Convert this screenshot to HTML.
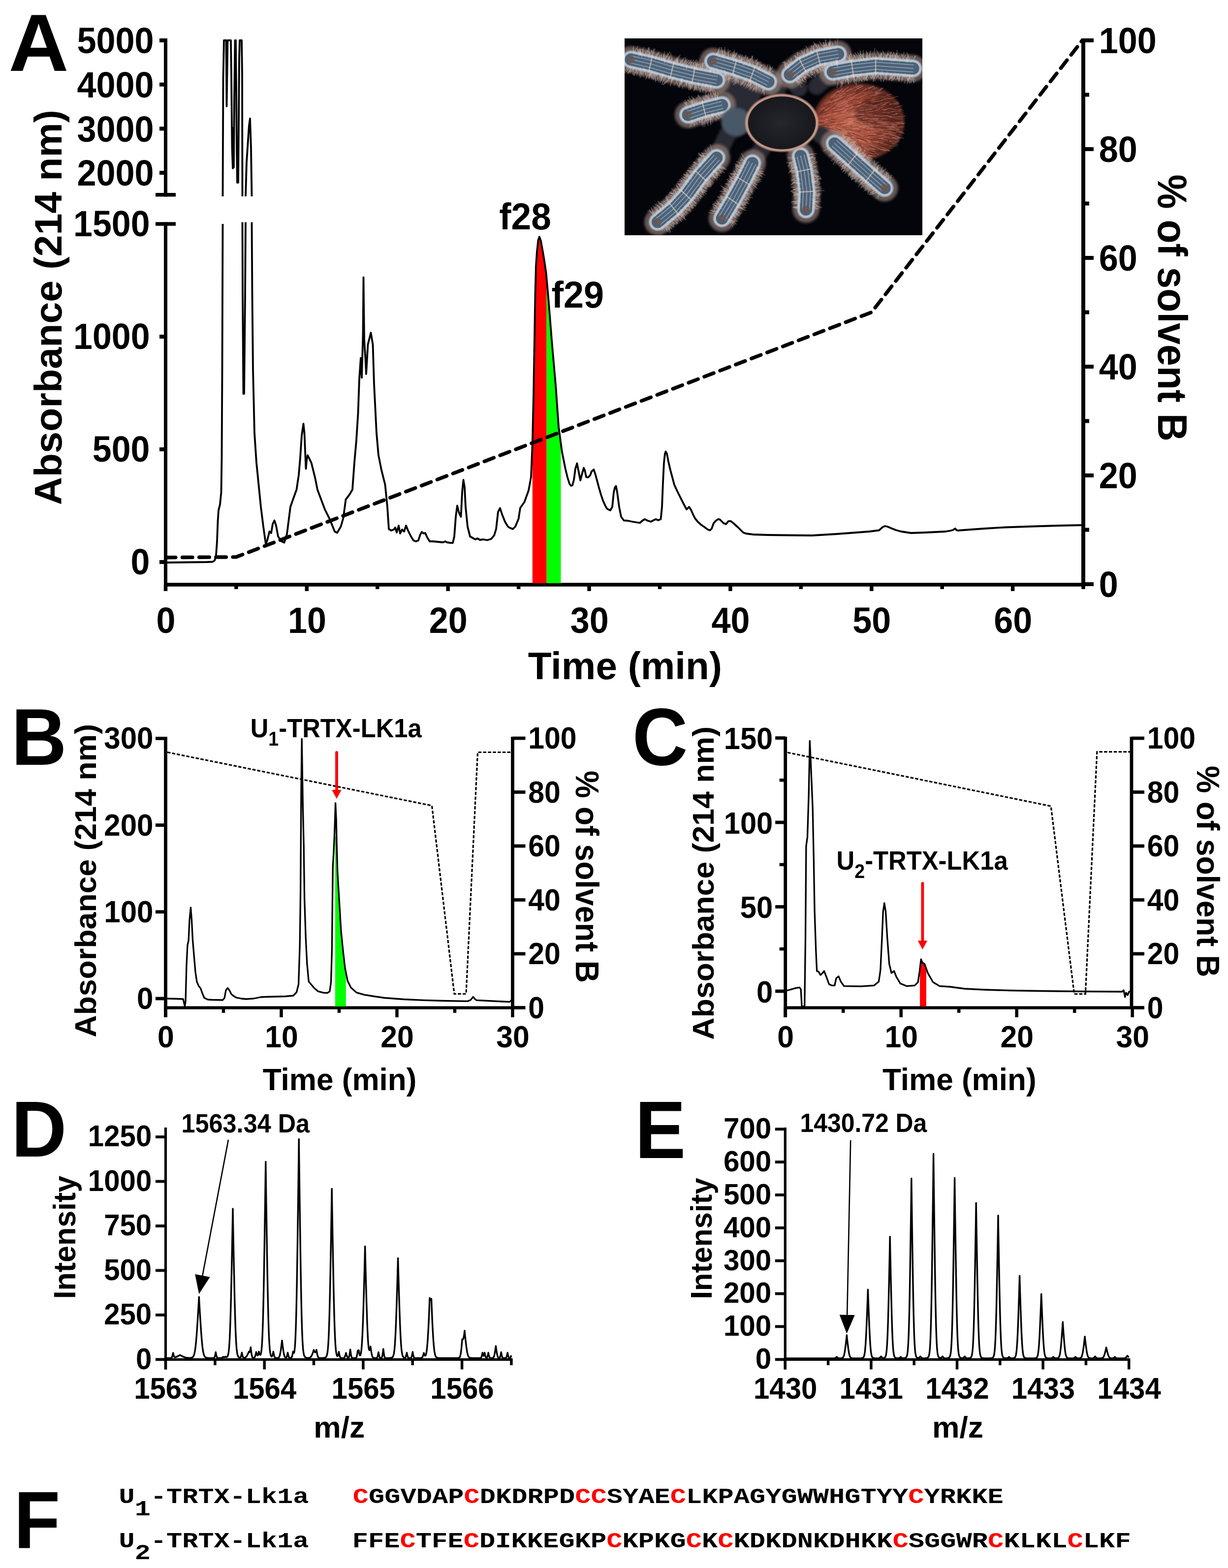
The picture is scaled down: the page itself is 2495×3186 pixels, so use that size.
<!DOCTYPE html>
<html><head><meta charset="utf-8"><title>Figure</title>
<style>
html,body{margin:0;padding:0;background:#fff;overflow:hidden;}
svg{display:block;}
.LS{font-family:'Liberation Sans', Arial, Helvetica, sans-serif;}
.MO{font-family:'Liberation Mono', 'Courier New', monospace;}
</style></head>
<body>
<svg width="2495" height="3186" viewBox="0 0 2495 3186">
<rect x="0" y="0" width="2495" height="3186" fill="#fff"/>
<text transform="translate(17.43,144.15) scale(1.6894,1.6544)" font-size="100" text-anchor="start" font-weight="bold" class="LS">A</text>
<text transform="translate(23.10,1554.00) scale(1.5574,1.6377)" font-size="100" text-anchor="start" font-weight="bold" class="LS">B</text>
<text transform="translate(1284.75,1554.35) scale(1.5615,1.6479)" font-size="100" text-anchor="start" font-weight="bold" class="LS">C</text>
<text transform="translate(23.10,2350.00) scale(1.5574,1.6087)" font-size="100" text-anchor="start" font-weight="bold" class="LS">D</text>
<text transform="translate(1290.19,2352.50) scale(1.5446,1.6449)" font-size="100" text-anchor="start" font-weight="bold" class="LS">E</text>
<text transform="translate(28.22,3146.00) scale(1.5400,1.6449)" font-size="100" text-anchor="start" font-weight="bold" class="LS">F</text>
<line x1="336.5" y1="78.0" x2="336.5" y2="399.5" stroke="#000" stroke-width="7" />
<line x1="336.5" y1="451.5" x2="336.5" y2="1201.0" stroke="#000" stroke-width="7" />
<line x1="333.0" y1="1188.0" x2="2205.0" y2="1188.0" stroke="#000" stroke-width="7.7" />
<line x1="2201.0" y1="78.0" x2="2201.0" y2="1192.0" stroke="#000" stroke-width="8" />
<line x1="324.0" y1="82.0" x2="336.5" y2="82.0" stroke="#000" stroke-width="8" />
<line x1="324.0" y1="171.7" x2="336.5" y2="171.7" stroke="#000" stroke-width="8" />
<line x1="324.0" y1="261.4" x2="336.5" y2="261.4" stroke="#000" stroke-width="8" />
<line x1="324.0" y1="351.1" x2="336.5" y2="351.1" stroke="#000" stroke-width="8" />
<line x1="316.0" y1="395.7" x2="357.0" y2="395.7" stroke="#000" stroke-width="7.5" />
<line x1="316.0" y1="455.0" x2="357.0" y2="455.0" stroke="#000" stroke-width="7.5" />
<line x1="324.0" y1="684.0" x2="336.5" y2="684.0" stroke="#000" stroke-width="8" />
<line x1="324.0" y1="913.0" x2="336.5" y2="913.0" stroke="#000" stroke-width="8" />
<line x1="324.0" y1="1142.0" x2="336.5" y2="1142.0" stroke="#000" stroke-width="8" />
<text transform="translate(312.61,108.37) scale(0.7023,0.7338)" font-size="100" text-anchor="end" font-weight="bold" class="LS">5000</text>
<text transform="translate(312.61,198.07) scale(0.7023,0.7338)" font-size="100" text-anchor="end" font-weight="bold" class="LS">4000</text>
<text transform="translate(312.61,287.77) scale(0.7023,0.7338)" font-size="100" text-anchor="end" font-weight="bold" class="LS">3000</text>
<text transform="translate(312.61,377.47) scale(0.7023,0.7338)" font-size="100" text-anchor="end" font-weight="bold" class="LS">2000</text>
<text transform="translate(304.50,480.17) scale(0.6991,0.7324)" font-size="100" text-anchor="end" font-weight="bold" class="LS">1500</text>
<text transform="translate(304.50,709.17) scale(0.6991,0.7324)" font-size="100" text-anchor="end" font-weight="bold" class="LS">1000</text>
<text transform="translate(304.50,938.17) scale(0.6991,0.7324)" font-size="100" text-anchor="end" font-weight="bold" class="LS">500</text>
<text transform="translate(304.50,1167.17) scale(0.6991,0.7324)" font-size="100" text-anchor="end" font-weight="bold" class="LS">0</text>
<line x1="336.5" y1="1188.0" x2="336.5" y2="1201.0" stroke="#000" stroke-width="7.5" />
<line x1="479.9" y1="1188.0" x2="479.9" y2="1197.0" stroke="#000" stroke-width="7.5" />
<line x1="623.3" y1="1188.0" x2="623.3" y2="1201.0" stroke="#000" stroke-width="7.5" />
<line x1="766.8" y1="1188.0" x2="766.8" y2="1197.0" stroke="#000" stroke-width="7.5" />
<line x1="910.2" y1="1188.0" x2="910.2" y2="1201.0" stroke="#000" stroke-width="7.5" />
<line x1="1053.6" y1="1188.0" x2="1053.6" y2="1197.0" stroke="#000" stroke-width="7.5" />
<line x1="1197.0" y1="1188.0" x2="1197.0" y2="1201.0" stroke="#000" stroke-width="7.5" />
<line x1="1340.5" y1="1188.0" x2="1340.5" y2="1197.0" stroke="#000" stroke-width="7.5" />
<line x1="1483.9" y1="1188.0" x2="1483.9" y2="1201.0" stroke="#000" stroke-width="7.5" />
<line x1="1627.3" y1="1188.0" x2="1627.3" y2="1197.0" stroke="#000" stroke-width="7.5" />
<line x1="1770.8" y1="1188.0" x2="1770.8" y2="1201.0" stroke="#000" stroke-width="7.5" />
<line x1="1914.2" y1="1188.0" x2="1914.2" y2="1197.0" stroke="#000" stroke-width="7.5" />
<line x1="2057.6" y1="1188.0" x2="2057.6" y2="1201.0" stroke="#000" stroke-width="7.5" />
<line x1="2201.0" y1="1188.0" x2="2201.0" y2="1197.0" stroke="#000" stroke-width="7.5" />
<text transform="translate(1197.65,1286.16) scale(0.7010,0.7408)" font-size="100" text-anchor="middle" font-weight="bold" class="LS">30</text>
<text transform="translate(337.10,1286.16) scale(0.7010,0.7408)" font-size="100" text-anchor="middle" font-weight="bold" class="LS">0</text>
<text transform="translate(623.95,1286.16) scale(0.7010,0.7408)" font-size="100" text-anchor="middle" font-weight="bold" class="LS">10</text>
<text transform="translate(910.80,1286.16) scale(0.7010,0.7408)" font-size="100" text-anchor="middle" font-weight="bold" class="LS">20</text>
<text transform="translate(1484.50,1286.16) scale(0.7010,0.7408)" font-size="100" text-anchor="middle" font-weight="bold" class="LS">40</text>
<text transform="translate(1771.35,1286.16) scale(0.7010,0.7408)" font-size="100" text-anchor="middle" font-weight="bold" class="LS">50</text>
<text transform="translate(2058.20,1286.16) scale(0.7010,0.7408)" font-size="100" text-anchor="middle" font-weight="bold" class="LS">60</text>
<text transform="translate(1072.72,1380.11) scale(0.7827,0.7851)" font-size="100" text-anchor="start" font-weight="bold" class="LS">Time (min)</text>
<line x1="2201.0" y1="1187.0" x2="2222.0" y2="1187.0" stroke="#000" stroke-width="8" />
<line x1="2201.0" y1="1076.5" x2="2213.0" y2="1076.5" stroke="#000" stroke-width="8" />
<line x1="2201.0" y1="966.0" x2="2222.0" y2="966.0" stroke="#000" stroke-width="8" />
<line x1="2201.0" y1="855.5" x2="2213.0" y2="855.5" stroke="#000" stroke-width="8" />
<line x1="2201.0" y1="745.0" x2="2222.0" y2="745.0" stroke="#000" stroke-width="8" />
<line x1="2201.0" y1="634.5" x2="2213.0" y2="634.5" stroke="#000" stroke-width="8" />
<line x1="2201.0" y1="524.0" x2="2222.0" y2="524.0" stroke="#000" stroke-width="8" />
<line x1="2201.0" y1="413.5" x2="2213.0" y2="413.5" stroke="#000" stroke-width="8" />
<line x1="2201.0" y1="303.0" x2="2222.0" y2="303.0" stroke="#000" stroke-width="8" />
<line x1="2201.0" y1="192.5" x2="2213.0" y2="192.5" stroke="#000" stroke-width="8" />
<line x1="2201.0" y1="82.0" x2="2222.0" y2="82.0" stroke="#000" stroke-width="8" />
<text transform="translate(2232.69,108.17) scale(0.7019,0.7324)" font-size="100" text-anchor="start" font-weight="bold" class="LS">100</text>
<text transform="translate(2232.69,329.17) scale(0.7019,0.7324)" font-size="100" text-anchor="start" font-weight="bold" class="LS">80</text>
<text transform="translate(2232.69,550.17) scale(0.7019,0.7324)" font-size="100" text-anchor="start" font-weight="bold" class="LS">60</text>
<text transform="translate(2232.69,771.17) scale(0.7019,0.7324)" font-size="100" text-anchor="start" font-weight="bold" class="LS">40</text>
<text transform="translate(2232.69,992.17) scale(0.7019,0.7324)" font-size="100" text-anchor="start" font-weight="bold" class="LS">20</text>
<text transform="translate(2232.69,1213.17) scale(0.7019,0.7324)" font-size="100" text-anchor="start" font-weight="bold" class="LS">0</text>
<text transform="translate(2352.83,354.54) scale(0.8257,0.7871) rotate(90)" font-size="100" text-anchor="start" font-weight="bold" class="LS">% of solvent B</text>
<text transform="translate(125.37,1026.17) scale(0.7872,0.7898) rotate(-90)" font-size="100" text-anchor="start" font-weight="bold" class="LS">Absorbance (214 nm)</text>
<polygon points="1081.8,1185.0 1081.8,901.4 1084.1,799.6 1085.8,697.7 1087.5,595.8 1089.0,540.0 1091.0,511.0 1093.5,488.0 1096.0,481.0 1099.0,490.0 1102.8,511.0 1106.0,530.0 1109.6,555.0 1110.6,566.3 1110.6,1185.0" fill="#ff0000"/>
<polygon points="1110.6,1185.0 1110.6,566.3 1114.7,612.8 1121.5,697.7 1129.0,782.6 1135.0,867.5 1139.5,900.7 1139.5,1185.0" fill="#00ff00"/>
<polyline points="340.0,1143.0 380.0,1142.5 420.0,1142.0 432.0,1141.5 436.0,1139.0 439.0,1128.0 441.0,1100.0 442.5,1060.0 444.0,1037.0 447.0,1025.0 449.5,1000.0 450.5,930.0 451.5,750.0 452.5,455.0" fill="none" stroke="#000" stroke-width="3.8" stroke-linejoin="round"/>
<polyline points="452.5,399.0 453.5,160.0 455.0,82.0 459.5,82.0 460.5,216.0 462.5,82.0 466.0,82.0 469.0,82.0 470.0,150.0 471.5,300.0 473.0,342.0 474.0,260.0 475.0,340.0 476.0,200.0 477.5,82.0 479.0,82.0 480.0,180.0 481.0,300.0 482.0,371.0 483.0,330.0 484.0,371.0 485.0,250.0 486.0,120.0 487.0,82.0 491.0,82.0 492.0,150.0 492.5,399.0" fill="none" stroke="#000" stroke-width="3.8" stroke-linejoin="round"/>
<polyline points="492.5,451.5 493.0,600.0 494.5,800.0 496.0,800.0 498.0,600.0 499.0,451.5" fill="none" stroke="#000" stroke-width="3.8" stroke-linejoin="round"/>
<polyline points="499.0,399.0 501.0,330.0 503.0,300.0 506.0,255.0 508.0,241.0 510.0,300.0 511.5,399.0" fill="none" stroke="#000" stroke-width="3.8" stroke-linejoin="round"/>
<polyline points="511.5,451.5 512.5,600.0 514.0,750.0 517.0,880.0 521.0,940.0 525.0,980.0 530.0,1030.0 535.0,1070.0 540.0,1105.0 543.0,1098.0 547.5,1080.0 551.0,1083.0 554.0,1065.0 557.5,1057.5 561.0,1068.0 565.0,1090.0 572.0,1100.0 577.5,1102.5 583.0,1085.0 590.0,1030.0 597.0,1010.0 602.5,995.0 607.0,965.0 610.0,930.0 613.0,885.0 616.5,861.0 618.5,880.0 621.5,952.5 623.0,935.0 625.0,925.0 632.5,940.0 640.0,970.0 645.0,995.0 660.0,1035.0 670.0,1055.0 680.0,1080.0 685.0,1082.5 692.5,1070.0 697.5,1052.5 702.5,1015.0 710.0,1005.0 716.0,995.0 720.0,940.0 724.0,895.0 727.5,840.0 730.0,770.0 733.0,727.5 735.0,767.5 737.5,680.0 738.5,563.5 740.0,690.0 742.5,730.0 744.0,760.0 747.5,700.0 753.5,676.0 757.5,700.0 760.0,780.0 762.5,830.0 765.0,880.0 769.0,925.0 775.0,955.0 782.5,985.0 787.0,1030.0 790.0,1075.0 795.0,1078.0 800.0,1076.0 803.0,1072.0 806.0,1082.0 810.0,1068.0 813.0,1084.0 817.0,1076.0 821.0,1080.0 825.0,1068.0 829.0,1078.0 835.0,1090.0 840.0,1098.0 845.0,1100.0 850.0,1098.0 854.0,1086.0 857.0,1081.0 861.0,1084.0 864.0,1083.0 868.0,1092.0 873.0,1100.0 880.0,1100.0 900.0,1102.0 905.0,1100.0 908.0,1102.0 915.0,1103.0 920.0,1103.0 923.0,1090.0 926.0,1050.0 929.0,1027.5 932.0,1040.0 934.0,1045.0 936.5,1050.0 939.0,1000.0 941.5,975.0 944.0,990.0 946.0,1030.0 950.0,1070.0 955.0,1090.0 962.0,1094.0 966.0,1096.0 970.0,1094.0 975.0,1097.0 982.0,1096.0 990.0,1097.5 998.0,1095.0 1004.0,1088.0 1008.0,1075.0 1012.0,1040.0 1016.0,1032.5 1020.0,1045.0 1026.0,1060.0 1032.0,1070.0 1036.0,1072.5 1042.0,1075.0 1047.0,1070.0 1053.6,1054.0 1057.0,1032.0 1065.5,1020.0 1074.0,996.5 1079.0,969.0 1081.8,901.4 1084.1,799.6 1085.8,697.7 1087.5,595.8 1089.0,540.0 1091.0,511.0 1093.5,488.0 1096.0,481.0 1099.0,490.0 1102.8,511.0 1106.0,530.0 1109.6,555.0 1114.7,612.8 1121.5,697.7 1129.0,782.6 1135.0,867.5 1141.9,918.4 1148.7,952.4 1153.0,970.0 1157.1,983.0 1160.0,987.0 1162.9,986.3 1166.0,975.0 1169.0,952.4 1172.4,941.5 1175.0,955.0 1179.2,976.1 1182.0,965.0 1186.0,950.7 1188.0,955.0 1191.1,969.3 1195.0,970.0 1198.9,966.0 1202.0,958.0 1206.4,954.0 1210.0,965.0 1216.6,989.7 1221.0,1005.0 1225.0,1016.9 1230.0,1028.0 1233.5,1033.9 1240.0,1037.0 1244.0,1030.0 1247.0,1000.0 1249.5,990.0 1251.5,987.5 1254.0,1000.0 1258.0,1030.0 1262.0,1050.0 1267.5,1057.5 1275.0,1058.0 1285.0,1060.0 1300.0,1062.5 1305.0,1058.0 1310.0,1055.0 1316.0,1058.0 1322.5,1060.0 1328.0,1057.0 1332.5,1055.0 1337.0,1057.0 1342.5,1055.0 1345.0,1030.0 1347.0,980.0 1349.0,940.0 1351.0,922.0 1352.5,917.5 1355.0,922.0 1358.0,938.0 1362.0,955.0 1366.0,970.0 1370.0,985.0 1376.0,998.0 1382.0,1010.0 1388.0,1022.0 1395.0,1035.0 1398.0,1032.0 1400.0,1030.0 1404.0,1036.0 1408.0,1045.0 1412.0,1053.0 1417.5,1060.0 1424.0,1066.0 1430.0,1070.0 1438.0,1076.0 1442.5,1077.5 1446.0,1074.0 1450.0,1063.0 1455.0,1057.5 1459.0,1055.0 1462.5,1055.5 1466.0,1059.0 1470.0,1063.0 1475.0,1065.0 1480.0,1059.0 1485.0,1059.0 1490.0,1063.0 1495.0,1067.5 1500.0,1072.0 1505.0,1077.0 1510.0,1082.0 1515.0,1084.0 1530.0,1086.0 1560.0,1087.0 1600.0,1087.5 1650.0,1088.0 1700.0,1085.0 1740.0,1082.0 1766.0,1080.0 1786.0,1077.5 1790.0,1074.0 1794.0,1070.5 1798.5,1069.0 1803.0,1070.0 1810.0,1073.0 1820.0,1077.0 1831.0,1080.0 1851.0,1083.0 1880.0,1082.0 1921.0,1080.0 1930.0,1078.5 1936.0,1077.0 1939.0,1075.0 1941.0,1074.0 1943.0,1077.0 1946.0,1078.0 1951.0,1077.5 2000.0,1074.0 2041.0,1071.5 2100.0,1069.5 2150.0,1068.0 2198.5,1067.0" fill="none" stroke="#000" stroke-width="3.8" stroke-linejoin="round"/>
<polyline points="340.0,1132.7 479.9,1131.8 1770.8,634.5 2199.0,82.0" fill="none" stroke="#000" stroke-width="7.4" stroke-dasharray="20.5 13.7" stroke-linecap="round" stroke-dashoffset="3.7"/>
<text transform="translate(1014.24,466.44) scale(0.7307,0.7595)" font-size="100" text-anchor="start" font-weight="bold" class="LS">f28</text>
<text transform="translate(1120.53,625.44) scale(0.7374,0.7554)" font-size="100" text-anchor="start" font-weight="bold" class="LS">f29</text>
<defs><clipPath id="ph"><rect x="1269" y="78" width="605" height="400"/></clipPath><radialGradient id="abd" cx="0.42" cy="0.5" r="0.62"><stop offset="0" stop-color="#c46a52"/><stop offset="0.55" stop-color="#9a4535"/><stop offset="1" stop-color="#4a2018"/></radialGradient><radialGradient id="car" cx="0.5" cy="0.5" r="0.6"><stop offset="0" stop-color="#25272e"/><stop offset="0.8" stop-color="#18191e"/><stop offset="1" stop-color="#3a2a28"/></radialGradient><filter id="blur1" filterUnits="userSpaceOnUse" x="-300" y="-300" width="2400" height="1800"><feGaussianBlur stdDeviation="7"/></filter><filter id="blur2" filterUnits="userSpaceOnUse" x="-300" y="-300" width="2400" height="1800"><feGaussianBlur stdDeviation="3"/></filter></defs>
<rect x="1269" y="78" width="605" height="400" fill="#03050a"/>
<g clip-path="url(#ph)"><g transform="translate(1260,70) scale(0.36298)">
<ellipse cx="1335" cy="490" rx="255" ry="215" fill="#6a2e24" filter="url(#blur1)"/>
<ellipse cx="1335" cy="490" rx="240" ry="200" fill="url(#abd)"/>
<ellipse cx="1440" cy="440" rx="130" ry="80" fill="#3a1612" opacity="0.45" filter="url(#blur1)"/>
<path d="M1294 558l26 7M1196 464l38 -12M1485 520l28 -3M1145 571l29 12M1176 354l30 -21M1385 484l33 4M1385 543l49 2M1411 625l34 11M1279 476l30 -7M1270 374l39 -18M1212 521l45 11M1342 638l48 18M1319 386l28 -2M1157 573l37 14M1521 529l42 7M1428 413l43 -3M1196 427l53 -8M1146 516l46 0M1194 335l29 -17M1190 595l37 11M1375 548l48 -2M1415 560l51 5M1473 553l51 6M1427 326l35 -14M1195 632l21 21M1386 574l39 3M1233 437l35 -15M1215 597l37 26M1151 475l27 -1M1503 388l49 -0M1219 567l44 7M1391 509l30 -2M1306 528l29 -3M1449 560l51 -3M1267 441l34 -9M1281 542l52 16M1175 519l28 -0M1269 574l28 11M1562 517l29 1M1298 481l54 -1M1463 367l34 -11M1438 639l47 13M1282 571l51 19M1462 350l47 -5M1360 629l25 6M1457 508l46 -3M1486 455l54 6M1471 457l31 -5M1370 573l51 12M1423 376l48 -7M1500 570l46 14M1335 355l44 -21M1231 642l28 24M1149 600l22 21M1399 544l47 13M1465 631l41 18M1232 607l24 7M1521 461l53 -2M1134 564l24 20M1334 596l42 6M1326 616l52 8M1238 595l48 21M1137 579l33 24M1303 486l30 -1M1545 494l39 -5M1308 346l37 -17M1139 431l35 -23M1336 593l38 14M1145 426l37 -10M1208 400l43 -17M1171 532l52 12M1266 317l31 -11M1123 421l26 -13M1448 580l32 -0M1507 561l51 11M1447 626l28 9M1506 361l51 -16M1203 571l43 26M1417 599l34 7M1379 594l24 8M1188 447l32 -14M1215 392l46 -29M1390 303l29 -17M1536 532l29 -1M1137 577l24 22M1468 641l44 13M1383 515l37 5M1539 573l48 8M1523 581l51 -2M1204 523l52 9M1326 560l32 6M1408 540l31 -3M1286 590l31 13M1236 490l25 -2M1335 514l41 6M1395 615l26 12M1400 374l49 -11M1204 576l49 24M1217 639l35 26M1221 555l29 2M1518 562l30 0M1521 581l43 13M1312 584l38 6M1421 599l54 6M1506 465l53 -8M1284 598l36 4M1170 512l40 0M1456 493l37 -6M1369 498l32 -2M1188 417l43 -11M1288 311l30 -18M1425 483l44 3M1542 538l43 10M1314 315l34 -22M1120 485l50 4M1143 397l39 -23M1340 524l36 -2M1505 599l43 8M1199 375l22 -12M1395 329l39 -13M1302 448l33 -1M1443 535l31 5M1320 298l33 -16M1142 511l42 11M1294 448l32 -8M1329 383l25 -6M1448 528l45 6M1278 396l37 -11M1256 504l30 6M1560 464l38 -9M1433 316l31 -11M1392 674l41 10M1442 600l27 11M1407 364l46 -4M1361 673l24 10M1500 493l34 -1M1422 578l50 5M1539 492l28 4M1513 417l34 2M1233 578l37 21M1236 588l26 7M1507 596l53 4M1336 591l30 7M1174 626l34 36M1182 353l37 -18M1325 447l39 -1M1338 333l24 -11M1410 459l35 -3M1275 650l26 20M1263 401l36 -9M1382 558l52 1M1225 492l54 9M1252 513l28 -1M1296 539l33 1M1134 412l33 -17M1189 563l34 10M1450 529l28 7M1149 487l31 4M1320 586l38 8M1542 439l26 2M1529 523l38 8M1332 489l53 -2M1434 330l32 -3M1406 538l45 5M1521 430l48 -1M1167 528l48 2M1360 676l31 15M1417 560l45 9M1382 523l42 3M1250 550l25 6M1284 615l38 23M1456 400l31 -8M1526 450l25 -3M1142 492l33 -1M1223 327l20 -17M1255 598l28 13M1394 330l30 -10M1464 470l32 3M1372 657l52 14M1233 492l37 -4M1219 326l27 -25M1389 677l26 6M1472 535l50 12M1310 296l33 -11M1425 663l24 10M1261 387l32 -13M1341 499l35 -2M1414 471l31 5M1203 629l29 24M1489 531l53 1M1385 600l24 10M1156 583l21 16M1392 501l32 6M1331 305l29 -16M1513 450l46 -7M1285 584l48 3M1497 412l26 1M1351 624l47 25M1246 554l39 8M1425 454l47 3M1426 336l34 -8M1275 596l25 11M1401 650l26 6M1506 521l54 -1M1509 360l26 -8M1471 568l38 8M1350 615l43 15M1332 311l27 -10M1404 401l36 -5M1327 403l31 -10M1461 641l33 10M1149 608l24 21M1403 343l28 -2M1125 518l48 20M1458 517l31 -3M1512 465l36 5M1440 393l47 -13M1407 469l44 -0M1364 606l31 3M1329 641l28 13M1469 498l30 3M1295 571l39 14M1404 514l42 0M1289 445l44 -12M1229 546l53 7M1267 626l35 13M1489 343l30 -9M1320 403l48 -21M1146 571l45 25M1243 509l41 -5M1193 346l31 -31M1220 590l32 8M1111 465l36 -17M1413 310l26 -13M1552 423l26 -3M1466 436l44 3M1377 420l32 -1M1157 591l23 20M1365 611l35 10M1419 558l51 11M1505 527l26 4M1377 433l41 -3M1244 413l41 -13M1165 561l35 14M1518 512l32 1M1353 318l28 -12M1259 501l38 -4M1466 561l26 3M1291 448l48 -1M1280 487l36 -0M1418 468l55 6M1311 315l46 -29M1105 500l29 9M1389 307l31 -18M1339 412l33 -1M1371 422l52 -8M1366 587l34 7M1433 509l53 -5M1240 323l38 -31M1463 584l35 8M1457 386l51 -7M1520 609l36 8M1371 394l42 -0M1204 621l26 15M1333 447l33 1M1186 342l37 -26M1331 498l29 -5M1220 405l49 -17M1411 559l25 5M1475 492l35 -5M1364 637l29 11M1220 396l46 -26M1339 565l44 1M1478 365l32 -8M1523 501l35 1M1240 387l46 -9M1337 675l40 10M1240 543l48 1M1509 501l29 6M1392 634l42 13M1373 415l33 -8M1546 545l46 9M1551 497l39 4M1327 359l26 -12M1340 528l47 1M1262 321l30 -14M1189 447l41 -4M1317 646l26 17M1356 474l32 -4M1326 301l33 -12M1433 414l51 -13M1202 371l49 -23M1124 524l47 19M1150 554l31 15M1379 639l52 7M1359 515l53 -5M1285 551l26 -0M1269 345l44 -16M1500 550l49 2M1429 323l45 -23M1531 393l30 -9M1368 513l48 9M1193 358l29 -17M1395 526l31 5M1271 605l32 5M1295 652l32 13M1498 459l43 4M1483 514l48 1M1222 624l27 16M1381 445l30 1M1441 491l54 6M1500 494l49 0M1401 616l49 9M1320 679l29 11M1283 359l38 -22M1517 574l48 10M1238 406l35 -12M1388 454l26 2M1368 586l37 14M1175 616l34 19M1135 457l44 -7M1257 581l50 8M1229 347l31 -23M1361 343l35 -18M1421 427l33 -8M1272 319l24 -18M1337 601l29 8M1287 565l43 19M1520 604l37 0M1543 472l38 3M1397 637l31 4M1302 513l49 1M1277 361l37 -12M1450 608l47 8M1464 420l47 -4M1236 534l50 13M1365 329l44 -9M1235 388l40 -19M1459 563l45 11M1254 419l37 -10M1226 404l51 -14M1413 634l34 14M1103 502l41 -1M1445 636l37 17M1478 578l46 7M1148 478l41 2M1142 591l39 24M1175 596l50 21M1301 527l37 0M1487 501l46 -1M1263 570l47 7M1494 438l48 -9M1251 546l48 2M1403 345l40 -12M1370 679l42 14M1424 330l32 -10M1256 469l36 2M1407 409l32 -7M1244 528l47 -3M1312 585l39 7M1166 558l32 16M1531 412l48 -14M1508 394l48 -14M1316 472l52 -13M1270 409l27 -12M1356 661l28 9M1507 392l50 -14M1174 382l46 -24M1386 316l41 -21M1136 458l49 -14M1221 456l28 -7M1278 492l29 -0M1169 497l51 3M1550 497l42 -0M1226 336l31 -21M1398 477l44 1M1516 517l53 6M1222 659l32 23M1370 468l44 2M1220 644l34 19M1131 463l36 -13M1180 558l30 16M1405 381l32 -7M1103 482l49 -2M1271 586l42 9M1197 361l35 -31M1466 395l32 -11M1437 493l43 8M1221 345l40 -16M1197 387l40 -16M1289 408l38 -6M1341 428l25 -7M1369 306l34 -11M1427 335l32 -8M1286 610l37 10M1192 343l29 -30M1414 506l42 7M1472 426l35 -11M1144 387l35 -17M1271 523l31 5M1352 510l45 -7M1502 623l51 2M1357 509l32 4M1325 406l45 -18M1286 314l25 -10M1198 371l46 -27M1329 681l22 13M1524 505l27 4M1260 644l48 17M1278 494l42 -2M1156 550l48 11M1212 609l32 19M1178 604l36 33M1219 447l51 -19M1273 320l37 -23M1547 465l34 0M1135 570l39 23M1157 380l29 -16M1456 491l43 -1M1424 322l44 -23" stroke="#e09a86" stroke-width="3" opacity="0.45" fill="none"/>
<path d="M1418 322l32 -9M1460 349l52 -8M1296 537l48 7M1397 651l28 15M1184 390l27 -15M1329 659l34 19M1515 582l31 8M1140 401l37 -18M1157 512l31 1M1418 638l41 9M1197 571l26 6M1479 488l43 -7M1357 415l35 -5M1302 487l54 -11M1444 389l32 -5M1363 365l48 -5M1432 316l24 -10M1365 569l27 0M1130 426l46 -27M1385 464l37 -1M1503 621l42 4M1189 343l31 -20M1246 515l53 15M1343 528l36 -0M1518 384l26 -1M1380 330l53 -14M1419 515l53 8M1278 394l46 -12M1440 558l29 1M1239 499l29 -2M1323 470l31 1M1556 532l53 -3M1483 353l36 -14M1521 598l42 13M1204 524l38 11M1273 437l26 -7M1295 349l44 -26M1319 614l33 6M1408 395l38 -12M1242 659l50 21M1543 555l31 5M1211 505l31 -1M1181 636l34 40M1438 550l26 7M1316 386l25 -2M1383 383l23 -9M1419 367l36 -13M1428 442l29 -2M1423 645l29 11M1396 518l40 4M1319 578l45 12M1403 352l25 -10M1319 366l26 -6M1386 385l51 -4M1306 491l39 7M1419 418l48 -13M1271 548l42 6M1504 494l40 -1M1479 603l49 16M1250 638l43 20M1539 558l38 11M1164 478l26 -1M1444 471l28 -4M1334 666l27 6M1302 408l39 -17M1184 425l27 -7M1471 369l27 -11M1169 496l29 -2M1263 530l50 9M1442 608l29 9M1440 322l35 -12M1426 371l51 -14M1358 378l33 -12M1121 566l38 36M1421 325l36 -19M1554 441l37 -6M1240 403l26 -8M1183 547l29 3M1538 457l44 6M1415 319l26 -4M1259 412l33 -6M1117 441l30 -13M1181 474l33 3M1270 637l41 12M1497 452l39 -6M1247 474l28 -6M1294 610l31 8M1483 566l42 11M1164 423l40 -23M1166 525l38 10M1292 579l40 6M1201 590l35 8M1409 417l39 -5M1284 679l44 20M1368 532l37 9M1470 536l47 2M1421 549l45 14M1412 583l45 5M1174 370l36 -18M1321 322l37 -12M1378 330l28 -5M1346 481l42 4M1104 493l37 2M1381 312l35 -11M1183 529l32 10M1200 582l32 12M1385 315l36 -13M1387 588l42 3M1274 462l35 3M1454 341l31 -2M1134 573l24 10M1183 435l48 -5M1107 443l35 -20M1277 378l40 -16M1199 643l31 26M1452 560l42 3M1138 408l37 -15M1162 547l30 18M1127 457l31 -14M1547 466l28 -1M1489 390l55 -2M1451 408l32 -9M1168 480l30 -6M1210 380l48 -27M1303 460l48 -6M1267 642l33 9M1433 365l31 -5M1160 492l44 -4M1105 452l34 -15M1402 543l28 6M1413 537l49 5M1175 376l19 -17M1352 380l35 -6M1394 578l52 1M1214 433l35 -9M1544 552l53 6M1163 547l26 6M1532 414l51 -10M1387 392l53 -9M1106 495l37 -1M1313 400l49 -16M1127 507l30 2M1271 555l31 13M1261 465l36 -3M1286 519l50 -3M1266 568l33 4M1339 526l35 5M1445 626l33 2M1378 430l50 -7M1367 417l46 -10M1170 623l46 28M1223 487l29 -1M1303 394l42 -4M1256 561l30 9M1392 441l41 -4M1309 660l41 17M1216 445l27 -6M1431 651l44 10M1471 582l40 4M1317 538l32 2M1475 608l37 4M1509 397l51 1M1418 566l45 -2M1263 391l42 -15M1298 398l35 -4M1266 430l49 -18M1315 326l22 -15M1390 564l36 3M1462 517l30 3M1430 365l32 -5M1157 554l24 8M1440 342l25 -9M1446 369l30 -12M1495 602l52 3M1335 433l37 -2M1332 313l24 -13M1479 448l46 5M1320 313l36 -14M1520 545l40 2M1411 460l26 1M1273 323l35 -23M1519 460l32 -1M1466 533l31 1M1303 557l44 12M1344 586l37 9M1463 445l51 -8M1446 604l49 7M1139 439l39 -22M1205 413l49 -11M1430 559l31 2M1451 528l46 -3M1260 511l39 -0M1272 551l25 0M1538 482l46 -8M1510 472l39 -7M1241 524l25 4M1500 414l53 -4M1267 410l27 -10M1539 520l33 6M1409 633l48 21" stroke="#2a1210" stroke-width="4" opacity="0.35" fill="none"/>
<g filter="url(#blur1)">
<polyline points="540.0,255.0 740.0,340.0" fill="none" stroke="#2a2c34" stroke-width="95" stroke-linecap="round" stroke-linejoin="round"/>
<polyline points="830.0,265.0 880.0,310.0" fill="none" stroke="#2a2c34" stroke-width="95" stroke-linecap="round" stroke-linejoin="round"/>
<polyline points="570.0,395.0 730.0,380.0" fill="none" stroke="#2a2c34" stroke-width="95" stroke-linecap="round" stroke-linejoin="round"/>
<polyline points="540.0,690.0 600.0,560.0 700.0,480.0" fill="none" stroke="#2a2c34" stroke-width="95" stroke-linecap="round" stroke-linejoin="round"/>
<polyline points="740.0,720.0 800.0,630.0" fill="none" stroke="#2a2c34" stroke-width="95" stroke-linecap="round" stroke-linejoin="round"/>
<polyline points="1010.0,680.0 985.0,620.0" fill="none" stroke="#2a2c34" stroke-width="95" stroke-linecap="round" stroke-linejoin="round"/>
<polyline points="1200.0,610.0 1120.0,560.0" fill="none" stroke="#2a2c34" stroke-width="95" stroke-linecap="round" stroke-linejoin="round"/>
<polyline points="950.0,225.0 1000.0,300.0" fill="none" stroke="#2a2c34" stroke-width="95" stroke-linecap="round" stroke-linejoin="round"/>
<polyline points="1190.0,210.0 1100.0,290.0" fill="none" stroke="#2a2c34" stroke-width="95" stroke-linecap="round" stroke-linejoin="round"/>
<polyline points="60.0,140.0 170.0,165.0 290.0,200.0 410.0,230.0 540.0,255.0" fill="none" stroke="#a88e86" stroke-width="150" stroke-linecap="round" stroke-linejoin="round" opacity="0.6"/>
<polyline points="520.0,150.0 640.0,185.0 740.0,220.0 830.0,265.0" fill="none" stroke="#a88e86" stroke-width="150" stroke-linecap="round" stroke-linejoin="round" opacity="0.6"/>
<polyline points="380.0,450.0 470.0,420.0 570.0,395.0" fill="none" stroke="#a88e86" stroke-width="150" stroke-linecap="round" stroke-linejoin="round" opacity="0.6"/>
<polyline points="210.0,1050.0 300.0,975.0 370.0,900.0 450.0,790.0 540.0,690.0" fill="none" stroke="#a88e86" stroke-width="150" stroke-linecap="round" stroke-linejoin="round" opacity="0.6"/>
<polyline points="570.0,1030.0 630.0,930.0 690.0,820.0 740.0,720.0" fill="none" stroke="#a88e86" stroke-width="150" stroke-linecap="round" stroke-linejoin="round" opacity="0.6"/>
<polyline points="1040.0,980.0 1045.0,880.0 1030.0,760.0 1010.0,680.0" fill="none" stroke="#a88e86" stroke-width="150" stroke-linecap="round" stroke-linejoin="round" opacity="0.6"/>
<polyline points="1480.0,860.0 1400.0,790.0 1300.0,700.0 1200.0,610.0" fill="none" stroke="#a88e86" stroke-width="150" stroke-linecap="round" stroke-linejoin="round" opacity="0.6"/>
<polyline points="950.0,225.0 1020.0,170.0 1110.0,130.0 1220.0,110.0" fill="none" stroke="#a88e86" stroke-width="150" stroke-linecap="round" stroke-linejoin="round" opacity="0.6"/>
<polyline points="1190.0,210.0 1300.0,190.0 1430.0,175.0 1640.0,190.0" fill="none" stroke="#a88e86" stroke-width="150" stroke-linecap="round" stroke-linejoin="round" opacity="0.6"/>
</g>
<path d="M69 177l-28 40M89 191l5 28M75 103l26 -37M168 127l-6 -30M131 124l-9 -41M114 115l-4 -33M57 169l-31 33M166 123l30 -42M72 185l-1 40M103 186l-8 41M67 182l3 22M126 191l-16 40M67 182l5 27M148 121l15 -51M108 115l-6 -26M165 120l10 -24M127 192l-8 44M151 119l14 -21M124 108l9 -35M146 127l4 -23M109 122l-14 -42M158 203l-16 49M137 112l16 -20M133 199l-21 20M77 174l-2 23M127 110l-3 -32M146 120l-5 -20M65 180l-20 39M110 118l34 -32M83 180l-23 30M162 124l16 -38M162 126l-5 -53M109 184l10 39M74 101l1 -36M157 201l-9 19M119 112l-7 -33M59 179l-3 25M147 117l16 -39M91 180l3 25M59 178l-2 32M113 193l-1 51M136 201l9 24M75 179l5 52M132 122l19 -35M157 194l11 39M83 181l4 35M165 129l-9 -51M129 122l-7 -20M100 190l-25 38M172 123l20 -25M82 105l-11 -29M56 181l-2 34M128 199l3 23M117 189l15 48M54 185l-28 30M133 185l-21 32M259 228l-10 39M228 222l3 37M163 202l-1 40M205 204l-13 41M254 230l-21 50M291 162l-3 -47M190 217l8 49M273 153l11 -49M183 206l-28 39M181 128l8 -50M167 210l10 41M189 212l-18 27M198 208l8 26M249 142l30 -44M177 202l-15 49M181 198l3 50M270 149l-5 -50M278 241l-34 40M178 209l-18 19M262 151l16 -30M221 147l9 -19M197 131l11 -18M290 168l7 -24M230 144l17 -35M277 243l-38 38M284 164l-3 -29M187 140l31 -43M191 212l-9 38M243 221l-20 50M204 219l8 41M187 213l15 47M262 148l15 -16M242 224l-3 36M228 227l-11 39M301 159l22 -24M167 206l-20 37M248 144l-0 -49M263 230l-14 20M271 233l3 28M182 214l6 42M270 238l2 24M179 203l-3 38M215 144l5 -23M258 158l16 -29M243 147l17 -23M247 157l-5 -45M194 206l-13 36M238 148l25 -34M226 145l-12 -45M275 240l-15 30M252 144l8 -21M203 138l5 -34M291 161l32 -31M214 208l-10 23M272 152l4 -21M240 229l-19 20M188 140l22 -33M188 132l-11 -43M233 139l17 -19M219 141l7 -22M205 214l-8 20M195 217l-15 23M285 240l0 25M394 271l-4 21M336 173l1 -30M378 254l13 39M331 243l-29 40M315 176l9 -25M410 189l13 -27M323 163l-3 -23M312 169l12 -26M391 255l-0 21M380 267l5 44M366 254l4 25M394 197l4 -42M324 177l-4 -31M349 183l38 -40M411 195l19 -32M409 196l0 -40M388 191l33 -37M310 244l10 30M396 261l-9 27M386 181l26 -37M355 176l4 -21M360 176l7 -49M307 164l-5 -20M359 251l-19 21M299 233l-7 25M346 246l-10 25M315 167l-2 -23M312 162l14 -42M325 175l-11 -32M343 244l-1 28M330 179l1 -23M326 174l21 -29M409 184l12 -18M395 185l-6 -32M318 165l11 -20M283 236l-10 20M370 180l29 -38M292 244l-12 46M339 258l11 45M399 183l28 -42M333 168l26 -38M399 190l-3 -37M407 186l25 -36M394 257l-3 49M321 237l-5 20M295 241l-9 30M307 242l-23 22M419 195l20 -44M313 161l4 -31M316 162l19 -48M329 254l4 41M401 199l15 -19M310 246l15 43M373 263l-18 30M343 259l-17 40M355 260l-30 31M356 173l18 -35M354 173l-10 -30M299 241l-3 21M328 243l2 21M474 285l1 33M528 286l-23 33M509 281l4 22M458 194l16 -52M502 280l-22 48M427 269l1 33M445 269l11 34M527 218l-10 -45M463 274l-18 49M471 273l-5 20M473 287l-13 25M427 192l4 -48M419 263l4 46M419 277l3 32M455 270l10 37M472 276l-22 26M482 208l8 -28M526 212l18 -33M535 211l18 -47M420 265l-27 31M510 294l-13 30M490 204l-16 -47M459 197l5 -37M542 212l-8 -27M483 282l-19 34M509 292l-3 21M519 218l2 -53M453 203l8 -40M447 191l-1 -55M412 267l19 47M497 215l2 -30M442 204l11 -24M437 281l14 43M510 213l24 -35M500 287l-3 31M461 209l1 -51M507 283l8 32M516 296l6 36M525 214l-4 -33M464 208l-4 -48M472 286l-7 24M419 275l8 21M520 213l-10 -30M484 284l-15 24M519 282l14 51M459 278l4 50M440 199l25 -33M418 261l-26 48M433 276l-23 40M500 201l11 -18M425 187l11 -19M476 274l-32 33M429 191l-8 -37M415 260l9 38M524 211l12 -34M502 205l19 -30M433 188l7 -22M483 212l33 -43M415 273l-24 34M542 226l-12 -43M481 279l-2 43M538 211l9 -19M491 275l-1 30M449 204l0 -31M417 277l-0 37M485 277l-6 20" stroke="#d8c0b4" stroke-width="3" opacity="0.55" fill="none" stroke-linecap="round"/>
<path d="M535 190l2 47M637 153l19 -24M587 201l-9 26M539 118l31 -31M647 154l28 -42M594 219l-22 28M591 205l-11 18M614 137l21 -41M548 116l1 -22M536 125l16 -43M585 207l6 28M577 124l-11 -52M569 121l-2 -50M607 205l-32 41M528 185l-15 18M629 212l-4 22M543 189l9 32M616 136l3 -26M612 144l30 -44M536 111l18 -22M615 209l-4 49M558 123l-7 -39M571 202l-18 22M582 134l6 -28M569 131l22 -33M616 224l-7 27M532 184l-28 44M583 132l2 -27M591 212l-9 28M592 129l-12 -41M624 148l32 -42M598 214l-1 21M585 125l1 -54M609 216l8 33M611 139l-8 -32M611 210l5 26M564 201l-31 44M550 195l-1 40M624 150l12 -27M566 197l-36 40M551 126l3 -46M532 193l-11 32M639 138l0 -53M579 123l39 -34M541 119l16 -47M627 143l14 -42M574 126l-0 -33M612 214l8 28M630 144l23 -42M512 190l13 49M564 197l-19 50M535 186l0 33M594 215l-19 21M537 193l7 41M587 216l-6 32M595 215l-2 44M604 221l2 49M608 129l-4 -47M548 188l-14 41M621 150l15 -43M565 118l-6 -28M550 117l16 -13M666 160l5 -38M658 237l-27 45M657 231l-3 29M708 247l-34 40M710 164l7 -29M628 226l-30 28M645 231l-14 18M696 238l-6 23M717 172l11 -30M659 157l4 -42M724 180l5 -43M676 160l6 -44M697 244l-25 40M662 231l-36 38M718 247l0 45M715 255l-16 15M669 239l-11 34M711 247l-20 48M743 184l14 -26M653 148l-9 -42M713 242l-10 21M746 177l20 -33M700 245l2 26M644 223l5 36M706 165l37 -36M700 170l13 -43M727 169l16 -48M701 168l29 -34M727 258l4 44M720 167l8 -19M731 169l6 -49M707 245l-7 33M678 157l28 -38M711 168l-10 -50M671 161l17 -29M735 176l11 -19M744 175l-5 -53M728 170l42 -33M673 243l-20 25M675 152l15 -14M689 171l29 -30M656 227l-9 51M673 233l4 40M663 155l31 -30M648 234l-7 50M717 172l-6 -24M752 180l21 -25M673 151l28 -21M693 169l3 -31M725 172l-13 -49M685 242l0 26M745 185l20 -18M759 181l13 -22M813 214l5 -29M765 276l-5 51M772 199l21 -19M776 191l-0 -36M808 208l18 -12M805 301l1 40M761 274l4 31M830 226l26 -20M766 268l-22 15M755 267l-28 46M768 270l-9 24M770 197l-1 -23M791 289l-14 21M830 221l16 -34M784 287l-33 27M827 227l15 -48M826 215l17 -30M770 189l36 -21M796 287l0 32M770 276l-21 26M782 285l-40 27M811 218l19 -17M815 223l17 -18M781 205l31 -33M839 221l-2 -52M792 207l23 -26M814 208l-2 -22M766 189l2 -36M767 189l28 -17M813 295l-19 32M756 182l31 -29M782 285l-30 18M827 216l18 -27M795 198l13 -21M742 263l-23 47M822 221l17 -20M759 270l-20 51M741 268l-31 30M816 212l11 -45M750 271l-14 26M839 223l-3 -35M728 258l-28 45M761 195l0 -50M767 272l-12 17M801 293l-22 25M804 297l-8 29M782 289l-12 21M826 224l28 -42M822 214l23 -18" stroke="#d8c0b4" stroke-width="3" opacity="0.55" fill="none" stroke-linecap="round"/>
<path d="M437 463l35 38M395 490l-5 30M441 387l-1 -43M466 454l27 24M461 454l-5 55M395 405l4 -35M402 485l16 23M408 407l-4 -39M402 396l-18 -49M419 394l-5 -25M471 452l29 24M416 477l2 21M384 410l-22 -42M476 464l-2 53M429 393l-29 -46M391 413l-28 -25M427 392l10 -54M431 386l-22 -20M449 391l-3 -39M382 403l-17 -22M404 479l17 13M443 471l1 25M399 396l11 -40M428 398l-36 -38M404 410l-34 -34M403 482l13 32M416 403l-36 -38M391 478l10 32M400 402l3 -36M413 406l-17 -15M399 412l-0 -23M460 456l3 31M476 459l17 52M433 388l-12 -18M373 419l-4 -35M429 396l-3 -43M398 485l25 19M414 475l18 30M385 416l-24 -35M425 466l29 27M406 396l-9 -23M411 409l-35 -42M435 397l-31 -26M455 469l10 48M406 471l-8 45M445 393l-34 -34M380 420l-24 -44M580 435l16 50M506 379l1 -24M496 373l-13 -16M506 377l-27 -32M524 440l26 28M516 452l-9 28M492 370l0 -36M489 448l-4 47M545 443l-1 22M497 373l11 -49M492 377l1 -46M480 384l-12 -43M570 432l5 31M558 363l-30 -31M484 371l-9 -25M556 429l-1 38M581 429l-6 47M533 369l-1 -42M480 378l-13 -20M533 365l-5 -31M483 461l-9 35M502 448l4 51M489 459l-3 40M499 374l-17 -32M553 430l3 28M542 438l13 19M507 456l1 50M532 374l-14 -32M532 440l4 45M487 449l8 27M518 447l-1 47M542 438l31 29M476 382l10 -31M499 380l-7 -32M486 379l5 -33M535 359l-15 -31M484 455l-7 25M479 375l-3 -50M489 373l-19 -22M491 375l4 -40M502 447l-10 49M509 369l-27 -31M465 377l-29 -40M513 376l-33 -36M505 378l7 -31M481 462l-15 43M485 451l12 20M500 459l6 19M484 447l27 29M523 368l-18 -45M545 359l4 -28" stroke="#d8c0b4" stroke-width="3" opacity="0.55" fill="none" stroke-linecap="round"/>
<path d="M291 1020l28 39M275 1037l39 25M311 1008l33 40M270 957l-7 -36M230 987l-29 -42M259 1058l21 34M257 1067l21 43M196 1016l-11 -21M325 1005l42 33M208 1012l-7 -30M290 1025l12 38M252 1060l28 24M196 1009l-12 -20M274 1047l24 9M218 1002l-22 -38M205 1009l-6 -26M249 1057l18 22M257 1052l31 14M259 962l-25 -27M192 1027l-13 -32M314 1007l36 32M302 1023l25 16M305 1010l18 50M273 956l-13 -53M236 1082l15 19M218 1001l-29 -8M268 1046l4 21M190 1019l-29 -39M191 1016l-18 -49M299 1029l22 9M281 1042l16 23M321 1009l20 33M235 978l-43 -29M250 1064l10 37M277 1043l24 25M239 1080l33 13M250 970l-36 -27M234 1081l4 21M228 983l-12 -19M259 1058l24 48M237 977l-18 -13M238 1073l32 32M256 1058l4 36M264 1054l8 37M260 1053l29 35M272 1050l30 28M260 1057l36 20M201 1006l-47 -18M252 1071l14 22M294 1024l26 34M244 964l-32 -30M250 1065l17 20M325 1007l25 13M249 961l-39 -27M278 1049l24 10M239 986l-16 -22M216 1002l-32 -44M304 1014l11 17M357 967l39 27M281 946l-24 -27M306 921l-8 -32M339 875l-25 -32M389 938l15 36M341 975l47 8M375 956l37 15M350 970l23 40M395 935l33 14M365 968l10 22M329 898l-15 -22M350 969l46 16M325 995l9 36M303 915l-19 -36M345 981l14 49M272 943l-29 -12M269 945l-14 -34M366 964l16 12M353 977l28 26M282 947l-25 -41M312 905l-24 -44M350 974l47 12M338 883l-40 -11M318 904l-12 -38M338 877l-25 -32M335 994l8 29M322 895l-46 -11M271 951l-23 -16M378 943l45 18M334 991l29 39M345 981l19 32M334 886l-18 -40M377 940l11 28M317 898l-18 -32M336 882l-12 -25M322 1003l38 17M392 933l19 40M296 920l-26 -13M310 911l-42 -14M279 951l-31 -5M383 945l16 17M306 925l-11 -20M325 900l-52 -11M323 905l-43 -20M377 949l12 31M345 973l24 26M337 988l8 23M336 992l12 20M308 916l-50 -8M384 933l38 25M340 880l-31 -17M439 871l15 25M382 818l-50 -3M471 836l16 14M417 767l-42 -6M477 812l44 26M473 813l16 35M450 862l36 17M384 808l-27 -22M427 897l14 35M376 827l-21 -9M421 897l32 21M349 877l-25 -4M440 860l23 26M350 870l-26 -33M429 888l20 16M465 834l45 18M406 789l-26 -29M391 809l-22 -22M405 923l18 21M452 846l31 19M422 886l40 24M449 858l28 21M392 812l-16 -23M375 829l-16 -19M404 795l-50 -13M476 809l31 33M388 817l-36 -19M473 816l31 40M479 820l32 4M397 809l-27 -39M414 896l13 15M466 821l29 14M437 867l24 20M385 816l-22 -33M444 867l27 35M353 857l-18 -22M440 863l24 11M450 852l12 30M401 908l22 15M404 795l-27 -14M446 862l23 25M469 816l22 16M378 823l-10 -26M468 833l43 13M367 841l-52 -4M430 883l25 30M397 916l28 29M348 862l-29 -35M388 812l-17 -40M362 850l-23 -18M374 831l-50 -10M447 848l20 2M374 827l-33 -24M410 789l-15 -21M466 832l34 6M367 844l-21 -11M401 788l-31 -2M372 847l-36 -5M406 785l-17 -21M448 857l33 36M401 790l-46 -8M361 840l-28 -30M440 863l26 23M435 870l19 24M441 857l26 24M440 857l11 19M459 848l28 4M450 850l35 10M462 723l-15 -29M514 785l19 20M545 742l51 14M475 710l-31 -22M486 694l-47 -20M428 756l-12 -44M434 760l-27 -33M454 733l-47 -19M465 712l-37 -17M450 735l-38 -16M525 752l20 27M551 745l13 30M477 815l16 22M516 662l-12 -47M474 712l-12 -45M497 794l8 22M502 782l17 25M451 726l-15 -19M426 756l-41 -9M504 673l-16 -27M478 814l16 40M512 782l49 9M529 751l18 51M479 806l36 38M440 735l-22 -21M474 713l-32 -21M495 801l14 47M484 807l8 25M450 739l-15 -40M524 756l14 31M484 800l17 28M550 735l21 10M489 689l-30 -10M500 684l-27 -40M547 731l40 18M513 783l30 30M479 810l46 22M512 778l32 25M458 717l-20 -11M489 799l30 25M532 761l11 26M540 750l46 25M424 757l-11 -31M507 677l-16 -43M517 769l27 9M512 777l17 18M478 699l-39 -37M479 815l9 36M550 738l18 11M439 754l-39 -17M541 754l28 22M505 788l27 4M511 770l13 32M505 670l-19 -8M454 739l-16 -45M516 777l22 14M517 764l31 6M475 698l-20 -17M449 737l-11 -32M543 742l23 9M493 682l-38 -8M483 697l-46 -30M522 755l29 6M522 759l30 15M477 714l-18 -10M431 758l-14 -18M505 676l-52 -13" stroke="#d8c0b4" stroke-width="3" opacity="0.55" fill="none" stroke-linecap="round"/>
<path d="M645 972l27 36M658 970l47 16M570 966l-42 -28M603 1042l30 4M545 991l-35 -3M571 947l-50 1M559 982l-43 -33M549 993l-23 -5M576 954l-22 -13M565 968l-23 -4M640 986l14 25M593 930l-49 -23M559 974l-36 -6M574 959l-35 -29M616 1024l42 23M549 992l-31 -1M632 1005l19 7M542 1007l-23 -48M608 1041l32 27M629 999l53 1M590 939l-38 -30M616 1041l31 8M582 925l-18 -18M601 1043l39 1M609 1042l22 5M565 964l-23 -29M584 931l-23 1M591 929l-30 -29M646 985l23 11M577 956l-31 -7M561 975l-42 -25M614 1032l26 23M586 933l-27 -29M619 1004l18 17M538 1005l-44 -8M586 929l-31 -7M642 989l17 24M563 963l-30 -6M658 961l40 21M539 1002l-15 -21M609 1036l41 26M637 978l18 17M636 998l12 26M658 962l21 13M659 951l30 29M642 983l25 32M646 967l19 26M610 1026l19 15M625 1004l26 5M604 1037l27 39M580 937l-26 -5M623 1014l22 8M559 993l-33 -24M602 1042l28 15M659 955l44 -3M541 992l-39 -8M566 967l-15 -17M652 972l55 -3M714 863l21 6M625 861l-19 -24M634 861l-29 -13M691 889l19 35M715 843l26 23M640 842l-15 -23M610 877l-45 -30M639 846l-19 -34M626 850l-34 -14M680 906l25 27M601 893l-32 -44M697 889l32 1M704 861l39 30M660 815l-23 -33M654 819l-34 3M641 832l-32 -43M637 846l-23 -36M693 876l31 36M688 914l54 -0M662 937l50 8M604 896l-20 -29M666 935l16 20M712 844l26 39M628 862l-21 -4M598 899l-20 -12M639 839l-29 -20M685 908l12 18M606 880l-48 -2M715 862l24 13M637 835l-12 -16M602 913l-14 -19M644 824l-41 4M641 847l-18 -14M672 935l30 21M607 909l-44 1M698 898l26 31M674 909l29 2M700 889l28 10M613 887l-26 -27M678 907l32 9M624 875l-40 -11M673 917l43 7M639 848l-18 -25M708 877l36 -0M686 887l34 -1M624 881l-28 -17M619 889l-30 -28M644 841l-25 -32M597 911l-18 -20M652 816l-40 -17M665 924l49 22M633 846l-36 -37M645 810l-25 -4M676 936l24 38M608 895l-34 -29M697 895l23 11M683 911l39 38M672 915l33 44M681 914l24 12M637 838l-49 -2M712 855l19 9M623 874l-33 0M685 752l-33 -25M757 765l49 3M670 782l-51 2M756 768l19 11M660 796l-27 -5M749 770l31 7M694 744l-38 2M707 710l-12 -18M706 715l-27 -20M745 797l31 -0M658 805l-28 -25M712 703l-40 2M700 727l-50 -16M733 823l48 4M682 744l-42 -20M741 813l17 26M663 797l-24 -30M755 776l39 17M696 734l-34 1M732 829l22 0M684 739l-36 0M757 765l40 35M662 781l-32 -3M735 805l27 -1M688 748l-42 -16M739 806l51 17M738 791l18 20M752 773l49 5M739 787l45 23M765 763l46 25M670 790l-21 -26M734 802l28 42M742 816l49 -3M663 802l-29 -6M674 775l-26 -15M730 827l30 26M676 775l-27 -16M734 831l32 9M678 754l-17 -12M725 828l42 34M694 733l-51 4M744 782l43 6M694 730l-46 4M667 785l-53 -7M729 821l37 -3M705 714l-24 1M758 759l29 33M761 773l33 8M706 711l-28 -46M671 767l-24 -26M745 797l21 0M725 835l13 17M693 742l-27 -22M760 777l33 15M673 763l-19 -13" stroke="#d8c0b4" stroke-width="3" opacity="0.55" fill="none" stroke-linecap="round"/>
<path d="M1072 933l51 0M1010 892l-24 8M1009 931l-34 -11M1076 952l34 14M1087 911l26 -7M1087 947l23 15M1004 963l-37 8M1072 965l49 -1M1001 967l-31 -3M999 904l-25 9M1015 908l-36 8M1003 891l-33 -6M1012 930l-29 11M1089 897l23 -8M1010 971l-21 13M1005 943l-24 0M1013 900l-34 -20M1011 926l-30 -10M998 976l-21 -10M1083 897l34 -6M1074 910l20 -5M1084 918l37 3M998 904l-38 -23M1011 929l-50 6M1076 909l40 -22M1080 898l39 2M1000 933l-44 8M1015 892l-47 12M1078 914l48 -23M1001 946l-37 3M997 927l-30 11M1004 951l-20 -5M1074 937l25 15M1011 896l-24 1M1077 930l34 -18M1014 910l-23 1M1003 897l-46 -22M1002 905l-31 -9M1083 969l21 10M1017 887l-25 0M1011 889l-41 -21M1004 921l-24 -17M1084 887l45 -25M1013 902l-36 -12M1011 893l-31 -10M1007 901l-33 -6M1075 936l22 10M1014 893l-43 -26M1078 884l35 13M1083 980l47 -13M1007 824l-49 -16M1079 804l48 6M1014 874l-41 26M999 801l-30 -5M1074 818l35 -23M1006 803l-37 -8M1077 804l27 4M1060 779l38 -24M1006 859l-51 -5M997 822l-28 12M1085 833l30 6M1067 811l26 -21M1072 770l34 -9M1083 831l24 -11M1011 840l-40 -16M1069 817l27 13M991 786l-27 11M1007 802l-21 18M1083 865l41 -11M992 793l-26 -5M998 856l-44 23M1012 881l-21 13M1068 829l47 -8M1012 844l-38 25M1063 760l38 -23M1004 867l-33 20M1000 772l-44 -2M1088 875l54 -1M1075 786l35 17M1081 827l41 -25M1073 850l26 10M1079 863l35 -14M1016 873l-29 -9M1001 866l-25 1M1071 763l27 -9M1077 816l44 17M1082 875l43 -1M988 781l-39 -15M1071 784l49 13M1087 858l27 -22M1006 805l-44 29M1080 853l38 7M1007 861l-33 5M992 764l-39 1M1074 872l54 2M1066 791l33 -5M994 816l-40 27M1079 806l45 1M1014 860l-28 16M991 797l-27 18M986 770l-20 -6M1075 783l36 14M1067 803l22 -18M1077 776l27 -8M992 816l-37 2M1071 791l22 -15M1071 773l39 -1M1065 757l47 15M1073 832l32 -1M1015 880l-21 16M1050 671l49 -4M994 748l-39 -4M979 705l-22 24M1050 708l23 -12M1061 733l19 -15M987 749l-41 3M1043 690l41 -3M983 719l-24 10M1047 686l27 9M1052 726l41 -35M974 704l-29 21M993 734l-53 -1M970 706l-24 16M1064 736l32 -21M996 744l-36 29M983 736l-40 6M1043 674l39 -2M977 714l-46 5M989 722l-32 17M998 767l-41 -9M1046 690l32 3M1061 745l20 2M984 716l-31 -1M979 706l-40 -14M981 715l-30 29M982 713l-17 18M1066 751l19 -5M995 766l-25 12M975 707l-37 32M1065 723l29 -18M987 728l-35 36M1052 705l25 -22M1053 708l29 -18M1047 700l44 -11M990 737l-30 -4M1058 737l47 -24M992 756l-43 7M1058 712l34 -15M1048 689l43 3M995 768l-32 8M987 749l-46 26" stroke="#d8c0b4" stroke-width="3" opacity="0.55" fill="none" stroke-linecap="round"/>
<path d="M1476 819l15 -21M1469 809l21 -21M1400 834l-22 30M1446 881l-52 16M1422 853l-4 30M1378 826l-19 11M1411 842l-30 9M1426 869l-17 27M1438 779l4 -35M1473 806l8 -26M1496 821l7 -46M1394 845l-23 24M1502 839l4 -31M1379 826l-6 47M1433 865l-38 27M1491 821l31 -34M1446 785l24 -43M1457 885l-25 33M1507 836l10 -39M1427 759l18 -17M1385 824l-25 29M1479 808l19 -21M1401 831l-35 31M1450 784l36 -30M1419 846l-36 14M1452 789l37 -38M1482 809l25 -11M1396 845l-30 30M1427 865l-18 21M1487 813l7 -46M1444 782l23 -17M1450 785l14 -23M1408 848l-32 23M1383 823l-23 22M1486 823l19 -29M1410 844l-8 22M1438 776l5 -26M1476 815l14 -36M1482 809l20 -9M1405 836l-8 33M1394 843l-8 52M1428 764l19 -32M1477 804l20 -25M1482 815l10 -44M1406 843l-21 12M1420 855l-33 16M1465 788l6 -29M1379 824l-31 36M1462 794l37 -19M1475 808l35 -21M1452 882l-8 39M1393 840l-44 14M1415 853l-28 29M1326 773l-26 29M1320 761l-21 10M1360 808l-21 7M1340 786l-20 12M1338 686l37 -10M1346 788l-49 22M1280 728l-41 10M1287 739l-43 31M1272 734l-23 30M1334 692l32 -20M1284 731l-43 12M1329 775l-22 13M1334 678l37 -25M1365 810l-33 43M1314 765l-37 26M1306 757l-16 45M1385 732l11 -33M1319 667l9 -38M1384 725l18 -12M1309 763l-15 51M1311 762l-12 50M1362 707l6 -30M1336 676l12 -45M1316 762l-15 20M1280 734l-42 19M1325 783l-17 15M1282 739l-25 39M1334 782l-42 10M1326 670l9 -43M1415 760l41 -14M1330 679l34 -10M1301 754l-15 39M1319 767l-40 17M1348 696l26 -28M1327 780l-39 22M1379 732l15 -44M1401 748l44 -34M1319 777l-16 15M1407 745l21 -7M1321 673l17 -12M1420 752l13 -23M1374 723l31 -45M1417 755l8 -50M1385 721l19 -17M1296 755l-18 40M1347 686l25 -43M1413 757l44 -27M1366 806l-8 25M1343 796l-28 32M1309 763l-34 19M1338 783l-41 30M1294 749l-26 15M1387 728l21 -35M1385 720l17 -16M1287 741l-12 22M1372 805l-25 33M1369 809l-44 17M1330 778l-15 29M1322 769l-22 15M1361 800l-24 23M1362 806l-10 38M1374 718l20 -44M1339 790l-29 17M1338 784l-23 38M1334 682l15 -43M1330 770l-20 41M1352 704l10 -27M1252 603l4 -20M1289 632l35 -42M1325 673l24 -7M1314 660l11 -34M1237 687l-19 6M1329 674l22 -8M1238 601l10 -21M1250 708l-20 27M1207 665l-23 15M1255 612l31 -24M1282 636l10 -34M1308 654l22 -37M1279 628l42 -33M1264 627l9 -26M1304 658l14 -40M1259 618l15 -29M1221 685l-30 44M1235 594l21 -17M1289 646l37 -39M1279 631l15 -13M1316 662l15 -15M1265 722l-29 34M1266 719l-14 32M1176 634l-39 19M1300 643l39 -11M1235 602l30 -10M1193 652l-13 16M1310 662l29 -33M1267 620l46 -22M1323 674l8 -46M1184 649l-8 22M1297 657l16 -43M1244 690l-21 19M1229 690l-19 11M1252 702l-33 21M1233 584l20 -23M1270 728l-14 21M1235 588l34 -15M1281 631l37 -35M1308 658l13 -26M1290 638l16 -29M1289 647l17 -35M1177 638l-13 18M1283 642l33 -40M1210 666l-12 36M1226 680l-30 8M1266 626l36 -27M1283 641l32 -31M1279 632l10 -20M1260 715l-19 25M1304 657l14 -33M1200 663l-32 19M1266 614l14 -41M1220 677l-40 31M1253 699l-23 20M1190 649l-6 27M1256 618l18 -40M1308 654l38 -22M1256 717l-17 42M1258 612l27 -34M1252 602l4 -32M1260 709l-10 19M1256 611l13 -26M1232 679l-23 41M1227 585l32 -14M1241 588l19 -11M1308 667l23 -28" stroke="#d8c0b4" stroke-width="3" opacity="0.55" fill="none" stroke-linecap="round"/>
<path d="M935 189l-12 -33M958 174l-14 -16M975 246l23 36M931 198l-9 -35M931 186l-9 -34M962 170l-25 -16M927 197l-10 -28M966 172l-13 -23M1027 205l21 22M977 245l42 31M947 170l-41 -15M928 193l-11 -44M1012 228l20 13M1038 207l14 21M1011 228l31 12M975 252l32 19M955 177l-24 -20M961 168l-20 -21M1027 219l7 21M1012 226l30 12M1011 228l11 28M942 191l-17 -27M970 168l-30 -22M1022 209l32 17M996 145l-5 -45M1034 205l5 24M965 163l-10 -30M1042 195l19 47M945 185l-23 -7M1036 205l33 13M1002 236l9 22M988 250l27 45M1037 208l37 35M980 243l28 27M993 247l50 20M954 172l-24 -14M953 174l-32 -10M986 152l-4 -29M1015 231l22 23M1020 221l23 39M952 183l-30 -11M948 182l-4 -38M1006 223l32 28M973 167l-27 -12M1036 209l4 37M1032 120l-5 -24M1082 180l26 20M1092 173l18 13M1071 190l4 37M1075 115l-27 -32M1087 103l-2 -34M1059 119l-6 -21M1052 124l-10 -30M1103 170l19 30M1088 96l-16 -34M1061 113l-22 -49M1107 173l21 16M1047 192l40 25M1077 111l-31 -21M1006 143l-31 -22M1120 164l19 40M1086 176l29 37M1070 180l3 51M1069 103l2 -32M1009 139l-33 -22M1091 104l-7 -41M1034 119l-22 -29M1087 108l-7 -46M1044 199l7 32M1121 166l17 18M1060 200l23 15M1078 98l9 -48M1080 184l14 52M1045 194l36 31M1091 93l-17 -14M1092 99l-10 -38M1030 128l-36 -28M1105 166l12 29M1028 122l4 -40M1066 111l-23 -26M1100 178l2 48M1090 188l22 29M1085 184l10 21M1060 196l30 44M1103 180l25 19M1011 136l2 -30M1103 170l24 33M1121 172l17 27M1067 105l3 -43M1128 168l16 48M1064 114l-20 -20M1088 178l22 37M1074 184l2 25M1154 91l-4 -37M1131 90l-7 -22M1141 155l35 38M1157 167l6 41M1160 158l-2 26M1174 158l27 47M1141 161l-3 22M1142 86l-6 -24M1199 159l18 23M1117 88l-24 -38M1111 96l-23 -40M1191 85l-24 -30M1200 147l-10 50M1144 83l-30 -44M1219 154l7 20M1145 78l8 -49M1224 148l15 20M1131 173l4 35M1121 162l19 22M1149 163l4 30M1161 79l-15 -52M1159 90l-23 -44M1180 151l6 31M1166 74l9 -49M1158 158l-4 42M1189 77l-11 -28M1159 86l-21 -29M1182 83l-5 -20M1116 94l1 -21M1206 70l-2 -35M1136 167l9 23M1150 93l7 -22M1141 83l-2 -40M1198 84l-11 -38M1178 86l-4 -48M1186 85l2 -28M1193 84l-8 -24M1153 165l8 28M1191 151l13 39M1126 92l-17 -34M1208 79l-24 -38M1187 85l-13 -21M1157 86l13 -42M1112 84l-30 -42M1161 83l19 -48M1171 150l18 37M1214 148l16 46M1163 92l5 -34M1142 153l-4 35M1211 79l7 -54M1184 150l7 21M1212 149l9 24M1166 154l4 23M1172 149l8 22M1120 93l-15 -40" stroke="#d8c0b4" stroke-width="3" opacity="0.55" fill="none" stroke-linecap="round"/>
<path d="M1289 152l7 -35M1259 232l11 21M1269 237l9 42M1274 158l12 -37M1251 153l16 -43M1273 155l14 -35M1306 218l8 38M1253 245l-7 25M1251 154l-2 -43M1283 165l4 -49M1224 171l-10 -28M1193 173l6 -23M1236 238l11 38M1208 239l35 36M1229 161l-4 -38M1261 165l7 -26M1280 232l19 21M1277 154l14 -49M1259 163l-15 -29M1225 160l-25 -40M1219 239l23 45M1221 245l-6 53M1220 166l-22 -46M1269 228l26 34M1221 168l8 -29M1289 159l12 -27M1271 156l-28 -40M1286 160l2 -21M1244 159l-13 -34M1243 243l-9 53M1255 153l-4 -31M1293 159l3 -20M1206 164l-6 -47M1191 175l5 -31M1301 222l-10 23M1268 165l-15 -23M1269 159l-23 -23M1263 231l3 30M1198 251l-6 23M1196 166l9 -40M1242 161l-4 -39M1260 231l30 39M1206 178l-13 -24M1184 176l5 -42M1189 175l-16 -42M1253 232l20 21M1288 154l-16 -33M1252 240l-11 53M1255 231l5 28M1296 225l15 47M1221 241l29 34M1274 238l5 38M1208 171l6 -50M1307 228l10 48M1217 172l5 -32M1385 226l-6 22M1296 162l-16 -49M1388 149l10 -28M1326 232l-5 28M1319 216l12 21M1329 219l12 25M1331 154l0 -29M1416 214l-0 36M1344 140l-31 -38M1382 136l-3 -36M1339 224l1 20M1389 148l-12 -32M1387 224l-20 37M1422 206l15 37M1417 131l9 -53M1350 218l15 18M1329 154l-14 -32M1377 224l-2 24M1362 228l19 32M1298 156l7 -29M1363 213l7 39M1388 138l14 -46M1419 205l2 25M1298 161l16 -46M1426 213l27 35M1347 140l-4 -48M1331 231l-10 54M1364 142l-4 -55M1420 144l8 -20M1354 151l-5 -25M1302 158l-12 -28M1331 224l9 37M1342 154l-7 -22M1377 145l8 -43M1380 213l-19 40M1352 216l7 28M1325 155l-22 -46M1335 215l1 53M1389 208l-23 47M1365 150l13 -27M1327 228l31 38M1352 140l-8 -27M1362 139l-17 -33M1424 218l2 44M1394 218l12 31M1329 152l-13 -26M1374 212l10 46M1341 150l-21 -29M1419 219l-1 45M1368 136l-23 -27M1377 212l-24 48M1425 206l-1 25M1332 146l16 -53M1353 218l-5 30M1411 149l6 -26M1359 224l21 30M1347 139l-18 -40M1323 155l-7 -20M1391 138l-14 -47M1305 148l-16 -50M1423 207l-3 23M1299 159l11 -24M1402 146l-3 -50M1336 157l21 -43M1305 153l5 -38M1503 143l9 -18M1507 150l10 -34M1629 155l28 -36M1452 142l7 -38M1455 149l10 -39M1470 216l16 33M1545 220l16 43M1609 158l-12 -30M1520 146l6 -34M1508 215l6 29M1577 150l-8 -27M1637 221l-9 51M1436 212l-21 49M1456 214l4 50M1477 142l-4 -22M1495 210l-13 23M1489 142l12 -50M1578 154l20 -42M1535 151l14 -48M1545 223l-22 34M1528 138l12 -27M1537 144l13 -38M1550 225l2 28M1530 150l20 -30M1547 227l12 29M1615 225l12 41M1625 228l-19 49M1580 216l12 20M1566 152l-1 -20M1533 211l-16 34M1510 212l-2 44M1498 146l21 -27M1524 215l-5 46M1510 209l2 40M1525 214l14 38M1600 229l-8 45M1494 136l-26 -46M1464 214l-5 29M1592 151l-2 -26M1513 140l-8 -26M1551 143l-11 -26M1630 228l12 41M1618 226l-12 30M1578 221l-2 37M1487 133l25 -37M1526 211l-4 33M1558 142l-9 -26M1567 149l-24 -47M1487 213l4 41M1624 148l-4 -23M1550 141l-0 -53M1490 225l2 23M1498 150l-5 -24M1616 148l-11 -48M1438 139l-11 -27M1616 153l-3 -42M1534 215l-10 20M1546 146l-13 -28M1573 148l-9 -19M1459 137l-23 -49M1577 151l12 -53M1527 224l-24 31M1514 138l18 -39M1636 226l16 36M1561 224l5 29M1543 140l-10 -22M1540 148l14 -25M1495 152l20 -50M1516 223l14 32M1548 148l-15 -28M1534 150l-7 -40M1485 135l11 -30M1592 148l-18 -37M1561 142l-0 -23M1608 224l6 33M1543 213l-23 33M1618 228l10 25M1564 224l-4 20M1509 136l11 -41M1506 148l-18 -32M1487 144l-3 -28M1616 221l-6 27M1485 148l10 -25M1540 153l19 -34M1634 226l12 44M1546 138l-15 -39M1588 154l-6 -23M1490 220l-18 44M1595 218l6 25M1612 219l18 36M1576 223l-18 31M1452 214l13 33M1560 220l-13 28M1498 208l-12 27M1454 143l-8 -24M1528 153l4 -23M1604 221l16 52M1545 218l-10 20M1540 217l15 28M1540 212l24 48M1481 213l10 41M1446 205l-3 31M1610 233l11 38M1640 144l10 -26M1589 156l-11 -43" stroke="#d8c0b4" stroke-width="3" opacity="0.55" fill="none" stroke-linecap="round"/>
<polyline points="60.0,140.0 170.0,165.0 290.0,200.0 410.0,230.0 540.0,255.0" fill="none" stroke="#b4c2d0" stroke-width="98" stroke-linecap="round" stroke-linejoin="round" filter="url(#blur2)"/>
<polyline points="60.0,140.0 170.0,165.0 290.0,200.0 410.0,230.0 540.0,255.0" fill="none" stroke="#4c6076" stroke-width="68" stroke-linecap="round" stroke-linejoin="round"/>
<polyline points="64.4,120.5 175.0,145.6 295.2,180.7 414.3,210.5 543.8,235.4" fill="none" stroke="#9ab0c2" stroke-width="5" stroke-linecap="round" stroke-linejoin="round" opacity="0.8"/>
<polyline points="60.0,140.0 170.0,165.0 290.0,200.0 410.0,230.0 540.0,255.0" fill="none" stroke="#9ab0c2" stroke-width="5" stroke-linecap="round" stroke-linejoin="round" opacity="0.8"/>
<polyline points="55.6,159.5 165.0,184.4 284.8,219.3 405.7,249.5 536.2,274.6" fill="none" stroke="#9ab0c2" stroke-width="5" stroke-linecap="round" stroke-linejoin="round" opacity="0.8"/>
<line x1="180.1" y1="120.5" x2="159.9" y2="209.5" stroke="#e6d6c6" stroke-width="6" stroke-linecap="round" opacity="0.7"/>
<line x1="300.5" y1="155.6" x2="279.5" y2="244.4" stroke="#e6d6c6" stroke-width="6" stroke-linecap="round" opacity="0.7"/>
<line x1="418.6" y1="185.1" x2="401.4" y2="274.9" stroke="#e6d6c6" stroke-width="6" stroke-linecap="round" opacity="0.7"/>
<circle cx="60" cy="140" r="22" fill="#6a5650" opacity="0.8"/>
<polyline points="520.0,150.0 640.0,185.0 740.0,220.0 830.0,265.0" fill="none" stroke="#b4c2d0" stroke-width="98" stroke-linecap="round" stroke-linejoin="round" filter="url(#blur2)"/>
<polyline points="520.0,150.0 640.0,185.0 740.0,220.0 830.0,265.0" fill="none" stroke="#4c6076" stroke-width="68" stroke-linecap="round" stroke-linejoin="round"/>
<polyline points="525.6,130.8 646.1,165.9 747.8,201.6 838.9,247.1" fill="none" stroke="#9ab0c2" stroke-width="5" stroke-linecap="round" stroke-linejoin="round" opacity="0.8"/>
<polyline points="520.0,150.0 640.0,185.0 740.0,220.0 830.0,265.0" fill="none" stroke="#9ab0c2" stroke-width="5" stroke-linecap="round" stroke-linejoin="round" opacity="0.8"/>
<polyline points="514.4,169.2 633.9,204.1 732.2,238.4 821.1,282.9" fill="none" stroke="#9ab0c2" stroke-width="5" stroke-linecap="round" stroke-linejoin="round" opacity="0.8"/>
<line x1="652.1" y1="141.2" x2="627.9" y2="228.8" stroke="#e6d6c6" stroke-width="6" stroke-linecap="round" opacity="0.7"/>
<line x1="755.5" y1="177.6" x2="724.5" y2="262.4" stroke="#e6d6c6" stroke-width="6" stroke-linecap="round" opacity="0.7"/>
<circle cx="520" cy="150" r="22" fill="#6a5650" opacity="0.8"/>
<polyline points="380.0,450.0 470.0,420.0 570.0,395.0" fill="none" stroke="#b4c2d0" stroke-width="98" stroke-linecap="round" stroke-linejoin="round" filter="url(#blur2)"/>
<polyline points="380.0,450.0 470.0,420.0 570.0,395.0" fill="none" stroke="#4c6076" stroke-width="68" stroke-linecap="round" stroke-linejoin="round"/>
<polyline points="373.7,431.0 464.4,400.8 565.1,375.6" fill="none" stroke="#9ab0c2" stroke-width="5" stroke-linecap="round" stroke-linejoin="round" opacity="0.8"/>
<polyline points="380.0,450.0 470.0,420.0 570.0,395.0" fill="none" stroke="#9ab0c2" stroke-width="5" stroke-linecap="round" stroke-linejoin="round" opacity="0.8"/>
<polyline points="386.3,469.0 475.6,439.2 574.9,414.4" fill="none" stroke="#9ab0c2" stroke-width="5" stroke-linecap="round" stroke-linejoin="round" opacity="0.8"/>
<line x1="458.9" y1="375.8" x2="481.1" y2="464.2" stroke="#e6d6c6" stroke-width="6" stroke-linecap="round" opacity="0.7"/>
<circle cx="380" cy="450" r="22" fill="#6a5650" opacity="0.8"/>
<polyline points="210.0,1050.0 300.0,975.0 370.0,900.0 450.0,790.0 540.0,690.0" fill="none" stroke="#b4c2d0" stroke-width="98" stroke-linecap="round" stroke-linejoin="round" filter="url(#blur2)"/>
<polyline points="210.0,1050.0 300.0,975.0 370.0,900.0 450.0,790.0 540.0,690.0" fill="none" stroke="#4c6076" stroke-width="68" stroke-linecap="round" stroke-linejoin="round"/>
<polyline points="197.2,1034.6 286.3,960.4 354.5,887.4 434.5,777.4 525.1,676.6" fill="none" stroke="#9ab0c2" stroke-width="5" stroke-linecap="round" stroke-linejoin="round" opacity="0.8"/>
<polyline points="210.0,1050.0 300.0,975.0 370.0,900.0 450.0,790.0 540.0,690.0" fill="none" stroke="#9ab0c2" stroke-width="5" stroke-linecap="round" stroke-linejoin="round" opacity="0.8"/>
<polyline points="222.8,1065.4 313.7,989.6 385.5,912.6 465.5,802.6 554.9,703.4" fill="none" stroke="#9ab0c2" stroke-width="5" stroke-linecap="round" stroke-linejoin="round" opacity="0.8"/>
<line x1="272.6" y1="941.4" x2="327.4" y2="1008.6" stroke="#e6d6c6" stroke-width="6" stroke-linecap="round" opacity="0.7"/>
<line x1="338.9" y1="871.0" x2="401.1" y2="929.0" stroke="#e6d6c6" stroke-width="6" stroke-linecap="round" opacity="0.7"/>
<line x1="418.9" y1="761.1" x2="481.1" y2="818.9" stroke="#e6d6c6" stroke-width="6" stroke-linecap="round" opacity="0.7"/>
<circle cx="210" cy="1050" r="22" fill="#6a5650" opacity="0.8"/>
<polyline points="570.0,1030.0 630.0,930.0 690.0,820.0 740.0,720.0" fill="none" stroke="#b4c2d0" stroke-width="98" stroke-linecap="round" stroke-linejoin="round" filter="url(#blur2)"/>
<polyline points="570.0,1030.0 630.0,930.0 690.0,820.0 740.0,720.0" fill="none" stroke="#4c6076" stroke-width="68" stroke-linecap="round" stroke-linejoin="round"/>
<polyline points="552.9,1019.7 612.6,920.1 672.3,810.7 722.1,711.1" fill="none" stroke="#9ab0c2" stroke-width="5" stroke-linecap="round" stroke-linejoin="round" opacity="0.8"/>
<polyline points="570.0,1030.0 630.0,930.0 690.0,820.0 740.0,720.0" fill="none" stroke="#9ab0c2" stroke-width="5" stroke-linecap="round" stroke-linejoin="round" opacity="0.8"/>
<polyline points="587.1,1040.3 647.4,939.9 707.7,829.3 757.9,728.9" fill="none" stroke="#9ab0c2" stroke-width="5" stroke-linecap="round" stroke-linejoin="round" opacity="0.8"/>
<line x1="595.3" y1="907.2" x2="664.7" y2="952.8" stroke="#e6d6c6" stroke-width="6" stroke-linecap="round" opacity="0.7"/>
<line x1="654.6" y1="798.7" x2="725.4" y2="841.3" stroke="#e6d6c6" stroke-width="6" stroke-linecap="round" opacity="0.7"/>
<circle cx="570" cy="1030" r="22" fill="#6a5650" opacity="0.8"/>
<polyline points="1040.0,980.0 1045.0,880.0 1030.0,760.0 1010.0,680.0" fill="none" stroke="#b4c2d0" stroke-width="98" stroke-linecap="round" stroke-linejoin="round" filter="url(#blur2)"/>
<polyline points="1040.0,980.0 1045.0,880.0 1030.0,760.0 1010.0,680.0" fill="none" stroke="#4c6076" stroke-width="68" stroke-linecap="round" stroke-linejoin="round"/>
<polyline points="1020.0,979.0 1025.0,880.9 1010.3,763.4 990.6,684.9" fill="none" stroke="#9ab0c2" stroke-width="5" stroke-linecap="round" stroke-linejoin="round" opacity="0.8"/>
<polyline points="1040.0,980.0 1045.0,880.0 1030.0,760.0 1010.0,680.0" fill="none" stroke="#9ab0c2" stroke-width="5" stroke-linecap="round" stroke-linejoin="round" opacity="0.8"/>
<polyline points="1060.0,981.0 1065.0,879.1 1049.7,756.6 1029.4,675.1" fill="none" stroke="#9ab0c2" stroke-width="5" stroke-linecap="round" stroke-linejoin="round" opacity="0.8"/>
<line x1="1005.0" y1="882.1" x2="1085.0" y2="877.9" stroke="#e6d6c6" stroke-width="6" stroke-linecap="round" opacity="0.7"/>
<line x1="990.6" y1="767.9" x2="1069.4" y2="752.1" stroke="#e6d6c6" stroke-width="6" stroke-linecap="round" opacity="0.7"/>
<circle cx="1040" cy="980" r="22" fill="#6a5650" opacity="0.8"/>
<polyline points="1480.0,860.0 1400.0,790.0 1300.0,700.0 1200.0,610.0" fill="none" stroke="#b4c2d0" stroke-width="98" stroke-linecap="round" stroke-linejoin="round" filter="url(#blur2)"/>
<polyline points="1480.0,860.0 1400.0,790.0 1300.0,700.0 1200.0,610.0" fill="none" stroke="#4c6076" stroke-width="68" stroke-linecap="round" stroke-linejoin="round"/>
<polyline points="1466.8,875.1 1386.7,804.9 1286.6,714.9 1186.6,624.9" fill="none" stroke="#9ab0c2" stroke-width="5" stroke-linecap="round" stroke-linejoin="round" opacity="0.8"/>
<polyline points="1480.0,860.0 1400.0,790.0 1300.0,700.0 1200.0,610.0" fill="none" stroke="#9ab0c2" stroke-width="5" stroke-linecap="round" stroke-linejoin="round" opacity="0.8"/>
<polyline points="1493.2,844.9 1413.3,775.1 1313.4,685.1 1213.4,595.1" fill="none" stroke="#9ab0c2" stroke-width="5" stroke-linecap="round" stroke-linejoin="round" opacity="0.8"/>
<line x1="1373.4" y1="824.4" x2="1426.6" y2="755.6" stroke="#e6d6c6" stroke-width="6" stroke-linecap="round" opacity="0.7"/>
<line x1="1273.2" y1="734.2" x2="1326.8" y2="665.8" stroke="#e6d6c6" stroke-width="6" stroke-linecap="round" opacity="0.7"/>
<circle cx="1480" cy="860" r="22" fill="#6a5650" opacity="0.8"/>
<polyline points="950.0,225.0 1020.0,170.0 1110.0,130.0 1220.0,110.0" fill="none" stroke="#b4c2d0" stroke-width="98" stroke-linecap="round" stroke-linejoin="round" filter="url(#blur2)"/>
<polyline points="950.0,225.0 1020.0,170.0 1110.0,130.0 1220.0,110.0" fill="none" stroke="#4c6076" stroke-width="68" stroke-linecap="round" stroke-linejoin="round"/>
<polyline points="937.6,209.3 1009.8,152.8 1104.3,110.8 1216.4,90.3" fill="none" stroke="#9ab0c2" stroke-width="5" stroke-linecap="round" stroke-linejoin="round" opacity="0.8"/>
<polyline points="950.0,225.0 1020.0,170.0 1110.0,130.0 1220.0,110.0" fill="none" stroke="#9ab0c2" stroke-width="5" stroke-linecap="round" stroke-linejoin="round" opacity="0.8"/>
<polyline points="962.4,240.7 1030.2,187.2 1115.7,149.2 1223.6,129.7" fill="none" stroke="#9ab0c2" stroke-width="5" stroke-linecap="round" stroke-linejoin="round" opacity="0.8"/>
<line x1="999.6" y1="130.4" x2="1040.4" y2="209.6" stroke="#e6d6c6" stroke-width="6" stroke-linecap="round" opacity="0.7"/>
<line x1="1098.5" y1="85.9" x2="1121.5" y2="174.1" stroke="#e6d6c6" stroke-width="6" stroke-linecap="round" opacity="0.7"/>
<circle cx="950" cy="225" r="22" fill="#6a5650" opacity="0.8"/>
<polyline points="1190.0,210.0 1300.0,190.0 1430.0,175.0 1640.0,190.0" fill="none" stroke="#b4c2d0" stroke-width="98" stroke-linecap="round" stroke-linejoin="round" filter="url(#blur2)"/>
<polyline points="1190.0,210.0 1300.0,190.0 1430.0,175.0 1640.0,190.0" fill="none" stroke="#4c6076" stroke-width="68" stroke-linecap="round" stroke-linejoin="round"/>
<polyline points="1186.4,190.3 1297.1,170.2 1430.0,155.0 1641.4,170.1" fill="none" stroke="#9ab0c2" stroke-width="5" stroke-linecap="round" stroke-linejoin="round" opacity="0.8"/>
<polyline points="1190.0,210.0 1300.0,190.0 1430.0,175.0 1640.0,190.0" fill="none" stroke="#9ab0c2" stroke-width="5" stroke-linecap="round" stroke-linejoin="round" opacity="0.8"/>
<polyline points="1193.6,229.7 1302.9,209.8 1430.0,195.0 1638.6,209.9" fill="none" stroke="#9ab0c2" stroke-width="5" stroke-linecap="round" stroke-linejoin="round" opacity="0.8"/>
<line x1="1294.2" y1="144.5" x2="1305.8" y2="235.5" stroke="#e6d6c6" stroke-width="6" stroke-linecap="round" opacity="0.7"/>
<line x1="1430.0" y1="129.0" x2="1430.0" y2="221.0" stroke="#e6d6c6" stroke-width="6" stroke-linecap="round" opacity="0.7"/>
<circle cx="1190" cy="210" r="22" fill="#6a5650" opacity="0.8"/>
<path d="M102 121l-2 -38M145 194l-17 19M118 190l-27 28M89 113l3 -19M111 120l0 -36M175 128l8 -16M110 119l-0 -25M141 193l1 38M165 136l17 -18M122 127l-5 -18M115 117l-5 -26M81 111l-10 -26M108 111l-1 -27M58 174l-20 31M113 191l1 19M159 135l1 -24M130 188l6 18M77 180l-17 22M114 187l-3 18M162 122l4 -39M124 125l4 -22M109 113l5 -15M108 191l-2 40M57 173l5 27M84 181l-9 19M140 130l1 -20M128 120l27 -29M114 117l8 -20M72 112l16 -15M131 185l11 35M121 120l-10 -28M252 158l-0 -16M238 216l-7 31M237 224l-4 21M196 130l22 -28M248 146l15 -21M248 160l-3 -35M273 161l10 -19M234 223l-24 25M266 156l26 -22M199 202l4 28M174 200l-1 34M182 207l-19 27M201 134l-7 -27M262 163l14 -27M249 159l-6 -24M217 142l-6 -23M263 162l17 -14M236 148l-6 -31M243 228l-18 31M217 143l5 -18M245 216l-10 12M287 172l1 -36M268 153l-1 -21M231 146l0 -33M197 144l6 -35M297 174l18 -32M230 223l-22 31M186 202l-25 30M195 215l-3 23M173 203l-13 33M234 150l10 -20M187 211l-14 13M246 224l-14 27M278 235l-10 16M276 163l15 -19M392 264l-13 16M338 246l8 23M336 175l4 -24M305 175l15 -34M340 247l-5 39M345 251l-4 15M300 237l-12 19M324 168l-4 -29M371 187l-2 -32M388 262l1 37M373 194l-2 -30M398 186l12 -22M354 245l-18 20M317 178l2 -26M300 237l-15 27M296 231l2 17M337 181l13 -14M357 189l-6 -19M411 203l8 -18M388 257l0 15M363 255l10 32M302 166l6 -24M413 202l-1 -30M373 253l-2 31M345 175l7 -38M366 192l11 -22M378 256l-10 36M348 243l-6 16M345 241l2 29M411 193l15 -14M308 235l-8 19M398 254l2 31M331 168l18 -20M345 172l22 -28M477 201l-9 -25M439 194l1 -31M419 194l1 -27M434 193l9 -30M443 195l12 -33M466 270l-10 31M498 213l6 -15M441 274l-3 39M408 265l-16 17M508 291l-19 24M408 267l-18 30M481 281l0 22M438 263l-2 37M504 276l5 30M505 209l6 -27M497 275l-7 29M474 277l-5 14M426 195l9 -38M481 212l-0 -15M508 286l-2 30M441 265l-4 23M429 197l-4 -32M511 280l-12 35M487 277l7 29M467 275l-15 15M449 201l10 -15M533 224l18 -22M480 278l2 27M478 272l7 17M502 211l5 -23M472 203l16 -18M484 276l5 30M528 290l-10 33M462 271l-0 16M501 212l10 -14M528 225l-6 -29M482 276l-13 23" stroke="#f0e0d8" stroke-width="2" opacity="0.5" fill="none" stroke-linecap="round"/>
<path d="M543 187l12 37M578 127l4 -31M603 215l-20 17M521 182l-20 31M629 144l5 -33M599 137l-4 -22M583 199l10 34M536 188l-13 18M562 135l6 -14M591 136l23 -22M564 192l-22 31M635 154l5 -38M549 125l2 -31M606 142l11 -15M572 193l-15 33M582 140l-5 -28M528 180l-23 27M633 145l-7 -31M537 194l9 36M606 137l-4 -26M541 118l5 -23M582 203l-24 31M603 215l8 38M549 127l22 -21M542 184l-18 20M572 127l2 -36M650 154l-8 -34M583 202l-2 18M573 135l7 -24M587 202l2 22M586 206l1 21M536 115l12 -16M637 148l11 -12M549 130l11 -12M638 150l5 -33M692 171l8 -20M642 228l-9 19M701 246l-20 34M681 160l-4 -21M744 188l-1 -29M718 175l9 -18M669 232l-12 25M638 217l2 22M709 242l-2 21M662 157l21 -24M681 159l-6 -36M710 238l-8 13M642 222l4 19M687 173l3 -23M689 175l18 -27M643 225l-22 22M663 226l-8 27M668 160l-2 -39M662 234l-18 14M652 230l-9 16M699 175l13 -12M640 220l-11 30M666 153l14 -13M700 248l-14 30M662 156l18 -27M717 168l29 -23M638 226l2 22M695 167l6 -26M714 181l11 -11M770 196l17 -36M836 236l15 -16M787 214l28 -23M808 223l-1 -35M726 257l-1 25M745 258l-25 31M806 292l-2 39M726 258l-13 22M786 204l5 -38M772 207l12 -22M828 226l18 -19M728 246l-16 19M817 226l2 -24M811 296l-19 22M731 261l-26 29M799 207l-1 -22M800 213l20 -17M782 278l-10 22M800 289l-16 15M823 225l30 -20M763 188l10 -38M730 248l2 37M741 262l-18 27M773 200l15 -33M819 219l11 -10M778 200l14 -10M776 201l13 -31M761 261l3 30" stroke="#f0e0d8" stroke-width="2" opacity="0.5" fill="none" stroke-linecap="round"/>
<path d="M433 402l-12 -22M398 479l13 17M401 414l-27 -25M457 460l14 15M397 474l9 27M446 397l-15 -13M375 425l-17 -29M416 409l-3 -39M437 391l-2 -23M411 402l-3 -19M378 415l-14 -14M456 390l-5 -19M432 465l-4 34M456 467l15 16M470 463l12 25M447 460l-1 30M453 394l-3 -16M433 462l9 29M458 384l8 -38M377 421l-25 -23M414 399l-10 -22M453 394l-11 -14M464 451l9 13M413 406l-13 -32M477 459l15 23M446 471l21 22M564 436l-4 16M569 430l-4 31M490 446l2 26M514 439l2 23M512 440l7 19M486 376l-25 -24M499 375l-3 -27M547 361l-10 -24M522 443l26 27M512 450l13 11M537 445l5 34M569 434l-8 33M541 373l-12 -24M488 383l-23 -26M522 437l1 30M548 433l4 40M515 441l-8 35M493 454l16 22M537 370l-6 -23M544 361l-0 -37M525 441l13 18M494 445l10 33M533 368l-24 -24M545 430l14 29M514 447l15 29M464 381l-10 -14M516 369l4 -15M547 367l-11 -20" stroke="#f0e0d8" stroke-width="2" opacity="0.5" fill="none" stroke-linecap="round"/>
<path d="M284 1031l24 7M262 960l-3 -15M285 1030l15 11M236 992l-21 -14M245 979l-11 -29M323 998l24 15M272 954l-18 -13M219 999l-16 -31M206 1008l-5 -20M233 991l-9 -12M229 982l-18 -27M232 1070l11 15M277 955l-22 -28M262 1049l13 9M293 1030l34 16M317 1004l9 28M203 1018l-16 -5M263 958l-23 -26M272 963l-21 -13M261 1046l19 9M314 1008l13 7M242 983l-5 -34M238 986l-21 -13M242 972l-11 -15M187 1027l-17 -11M208 1008l-16 -23M315 1000l10 19M212 1003l-3 -29M258 1051l9 18M225 996l-21 -16M259 974l-22 -21M227 994l-18 -5M306 916l-26 -15M279 943l-22 -28M337 882l-6 -21M334 979l17 5M337 890l-12 -20M291 939l-23 -22M358 956l18 9M292 935l-25 -24M384 930l19 35M362 960l22 4M326 998l10 19M322 901l-20 -30M342 981l24 30M324 895l-18 -12M328 995l25 20M284 941l-32 -15M375 953l20 29M374 953l32 21M312 922l-12 -30M328 991l33 10M341 989l16 23M392 929l31 13M301 930l-30 -5M336 985l13 21M378 942l30 19M335 980l16 31M389 925l20 23M361 961l10 22M384 830l-14 -22M448 847l13 37M404 797l-15 -27M402 912l10 27M419 770l-15 -11M411 791l-19 -2M399 811l-19 -15M380 826l-21 -27M454 837l24 8M464 828l37 9M432 871l11 24M445 845l36 9M394 919l12 11M356 861l-11 -10M367 840l-14 -11M346 869l-31 -2M404 807l-18 -12M347 871l-18 -36M355 863l-25 -2M415 776l-23 -12M427 877l13 17M474 811l30 17M443 862l25 10M436 865l18 6M407 897l27 7M433 879l19 24M386 826l-21 -8M392 914l33 3M393 803l-14 -11M379 844l-24 -22M444 852l21 14M415 768l-38 -6M432 878l9 20M421 783l-13 -36M381 827l-33 -5M401 909l29 10M369 835l-8 -18M395 815l-21 -24M481 707l-28 -23M454 729l-12 -34M519 769l30 12M479 703l-13 -27M548 741l36 8M452 739l-18 -23M463 720l-23 -33M456 740l-22 -12M543 741l7 17M483 810l24 9M454 736l-14 -25M526 759l23 29M470 714l-20 -34M523 763l34 20M550 734l11 34M495 681l-19 -16M479 808l18 25M523 749l13 8M518 756l24 21M500 789l37 13M473 711l-35 -12M522 759l24 5M519 759l19 12M518 760l25 28M496 686l-14 -20M435 748l-11 -21M553 731l25 8M541 743l17 14M480 705l-25 -10M481 703l-25 -10M539 741l15 10M486 691l-28 -25M550 732l22 28M514 766l15 8M511 774l13 25M498 688l-35 -7M479 708l-11 -18" stroke="#f0e0d8" stroke-width="2" opacity="0.5" fill="none" stroke-linecap="round"/>
<path d="M658 952l18 20M617 1005l23 13M611 1038l20 17M649 969l15 -0M586 945l-18 -30M573 959l-34 -8M540 1006l-24 -14M650 954l23 5M612 1034l26 21M615 1014l14 10M628 1005l23 12M602 921l-14 -13M572 974l-36 1M650 960l18 3M637 993l29 24M555 981l-29 -27M618 1026l28 1M609 1033l10 14M635 983l27 14M553 1002l-15 -19M560 966l-17 -16M598 1044l34 13M600 1045l12 16M597 921l-25 -18M604 1032l10 12M578 958l-27 -14M623 1001l31 1M628 997l18 29M600 927l-32 -2M618 1015l25 4M646 968l30 -0M602 1035l20 5M622 864l-16 -11M646 840l-27 3M656 811l-26 -13M632 856l-22 1M604 903l-21 -18M694 884l23 6M623 870l-14 -8M631 854l-27 -7M613 894l-23 -20M710 841l22 12M666 928l20 30M602 903l-29 -15M680 904l19 4M639 832l-24 -25M709 855l9 17M651 812l-21 -7M618 884l-35 -3M609 891l-17 1M714 847l13 8M658 821l-24 -27M656 806l-28 -12M656 816l-36 -18M699 870l16 0M715 838l12 9M634 841l-16 -16M675 928l30 0M624 868l-13 -14M594 910l-24 -2M635 857l-26 -22M667 941l25 19M646 827l-21 -6M710 845l29 20M625 881l-28 -27M620 868l-18 -24M668 937l26 13M743 793l26 13M679 763l-31 -7M767 748l13 15M731 813l19 -2M762 752l25 20M661 791l-26 -29M763 742l32 10M755 751l34 18M682 765l-34 -17M659 800l-17 -5M767 748l20 9M685 760l-27 -7M739 785l25 11M697 744l-15 -4M736 804l30 7M661 794l-28 -25M762 742l28 7M757 776l25 16M680 770l-12 -10M701 716l-25 -20M753 772l21 -2M729 822l28 13M655 801l-18 -16M744 799l16 20M770 745l26 25M742 781l31 8M765 747l16 7M673 772l-21 -5M705 728l-29 -19M678 776l-16 -8M691 747l-28 -26" stroke="#f0e0d8" stroke-width="2" opacity="0.5" fill="none" stroke-linecap="round"/>
<path d="M1007 912l-32 -17M1084 932l28 12M1083 927l26 14M1078 962l25 10M1069 905l18 -6M1001 963l-23 13M1008 924l-21 -4M1082 940l18 -5M1069 924l35 18M1009 947l-20 9M1004 960l-30 8M1007 894l-22 -0M1011 925l-36 17M1013 940l-18 -10M1005 882l-17 -10M1071 918l25 8M1002 949l-31 -5M1076 948l30 12M1010 932l-34 7M1005 959l-24 13M1072 944l38 -12M1002 963l-37 5M1085 884l16 5M1075 892l37 -14M1077 964l30 17M1006 971l-25 5M1003 900l-20 -11M1086 895l31 12M1000 824l-19 9M1001 806l-35 -1M1011 840l-37 -14M995 785l-29 -0M1010 812l-19 -7M1009 834l-19 -4M1005 769l-20 13M1071 814l19 -6M1068 831l23 -11M994 778l-35 -16M1078 834l33 -23M1003 780l-21 16M998 786l-15 10M1012 832l-30 4M1002 845l-35 9M1068 823l31 -11M1010 809l-16 10M1003 866l-35 3M997 796l-18 -9M1078 829l28 -13M1073 876l23 5M1006 807l-22 6M1073 852l23 -6M1071 810l18 9M1060 781l32 13M1075 799l38 -9M1015 866l-21 -8M1074 786l16 -5M1005 827l-27 21M1014 862l-22 5M1000 772l-17 14M1066 761l14 -7M1077 855l21 2M1053 717l37 -7M1056 738l20 -12M1063 740l27 -0M990 744l-33 7M989 741l-26 4M974 693l-35 -6M987 719l-26 7M1066 734l18 -13M1063 732l29 9M997 770l-15 2M988 742l-26 8M988 754l-16 10M998 741l-25 26M1046 681l28 -16M977 700l-28 24M1059 734l15 -9M985 693l-30 -6M981 726l-20 19M1053 687l38 -9M1054 734l29 -22M1061 731l33 6M1052 707l27 -29M1049 702l29 -20" stroke="#f0e0d8" stroke-width="2" opacity="0.5" fill="none" stroke-linecap="round"/>
<path d="M1479 813l32 -11M1467 808l12 -14M1432 871l-33 17M1499 837l32 -23M1432 767l5 -31M1427 863l-22 12M1472 801l16 -33M1384 823l-23 12M1488 818l15 -16M1393 822l-33 11M1478 815l4 -19M1423 854l-16 18M1409 835l-28 22M1460 805l13 -16M1410 839l-14 24M1491 823l15 -9M1438 777l5 -24M1470 813l22 -22M1423 857l-17 16M1440 879l-33 17M1431 773l10 -18M1380 812l-20 12M1437 769l19 -13M1392 822l-15 25M1440 782l27 -29M1445 871l-18 21M1396 833l-12 11M1436 772l4 -29M1457 881l-15 14M1419 764l28 -14M1365 715l12 -16M1334 682l19 -21M1408 759l6 -29M1352 706l21 -10M1413 764l30 -22M1343 695l21 -9M1351 709l34 -19M1360 707l21 -19M1311 760l-6 19M1287 735l-5 17M1313 756l-20 7M1322 677l21 -9M1367 802l-18 29M1332 772l-15 4M1352 793l-33 16M1331 685l21 -20M1276 725l-17 7M1346 783l-22 25M1367 803l-26 8M1366 794l-22 25M1384 730l10 -26M1332 685l23 -8M1339 691l9 -13M1366 723l20 -22M1388 725l30 -9M1353 696l17 -26M1350 705l35 -9M1359 791l-10 11M1287 735l-19 15M1321 678l23 -11M1328 771l-17 31M1339 690l23 -12M1418 755l10 -12M1316 754l-4 26M1413 764l20 -5M1356 796l-15 25M1258 706l-24 22M1309 672l10 -21M1263 615l26 -27M1234 685l-7 14M1318 677l12 -35M1224 676l-17 22M1266 713l-4 20M1264 706l-20 12M1304 649l29 -12M1182 638l-5 21M1264 719l-22 21M1309 662l18 -9M1224 584l31 -9M1229 686l-11 25M1281 629l18 -9M1320 675l19 -26M1240 593l22 -18M1272 722l-27 11M1285 647l4 -21M1213 667l-13 12M1306 670l12 -37M1286 633l12 -11M1265 617l9 -17M1227 685l-16 30M1225 579l30 -20M1175 632l-12 10M1234 686l-4 25M1317 669l8 -31M1204 654l-8 22M1228 681l-12 11M1317 667l21 -12M1257 701l-27 19M1202 659l-12 13M1316 664l21 -10M1245 696l-26 11M1227 672l-21 23M1240 598l19 -5" stroke="#f0e0d8" stroke-width="2" opacity="0.5" fill="none" stroke-linecap="round"/>
<path d="M1019 215l23 13M945 183l-22 -12M1025 207l13 8M983 235l26 9M964 168l-12 -23M982 250l15 21M1031 210l10 14M950 185l-15 -22M974 251l21 14M970 166l-14 -28M930 193l-7 -14M985 242l30 24M1036 201l18 11M990 152l-9 -28M991 228l18 35M1007 231l17 27M994 238l7 19M1028 212l10 27M1012 213l23 30M980 243l17 24M946 192l-18 -13M993 229l5 24M995 230l23 15M993 146l-3 -18M1066 106l-2 -18M1039 198l7 27M1027 123l-7 -16M1067 119l-20 -19M1052 186l1 32M1047 124l-3 -39M1029 126l-10 -36M1083 173l-0 20M1012 131l-23 -27M1076 103l-28 -26M1084 101l-24 -22M1103 166l10 23M1080 109l-9 -18M1079 189l31 25M1076 180l13 36M1105 175l19 35M1045 126l-18 -29M1082 106l-17 -11M1076 182l-2 20M1072 102l-10 -12M1095 166l13 10M1031 135l-16 -34M1050 113l-18 -13M1018 130l-26 -19M1061 188l7 26M1010 145l-7 -26M1101 175l9 30M1138 95l-13 -22M1147 160l-4 19M1151 86l5 -30M1201 84l-20 -22M1180 81l-13 -36M1145 161l3 34M1180 83l-11 -28M1121 158l11 13M1144 159l11 33M1214 80l-14 -15M1193 142l18 25M1145 165l-0 38M1172 80l-22 -28M1145 152l6 31M1209 152l9 28M1168 80l10 -34M1144 84l-2 -22M1157 156l5 40M1203 144l16 35M1149 154l12 15M1181 77l-11 -17M1172 91l-16 -21M1192 146l11 20M1216 144l-0 20M1214 152l-0 17M1156 85l-8 -26M1143 159l-2 19M1158 94l2 -29M1108 100l12 -32M1130 164l-12 33M1142 92l1 -20" stroke="#f0e0d8" stroke-width="2" opacity="0.5" fill="none" stroke-linecap="round"/>
<path d="M1217 171l-13 -33M1277 233l4 23M1293 158l7 -24M1262 239l18 33M1273 230l-0 21M1270 223l4 30M1237 241l17 18M1198 239l6 36M1261 231l15 20M1215 235l10 24M1202 174l9 -32M1250 156l11 -29M1268 230l6 22M1248 166l-8 -28M1185 176l-9 -23M1189 173l-8 -37M1268 238l-10 32M1275 159l-23 -26M1304 217l8 21M1298 225l-9 21M1293 218l12 26M1209 165l8 -32M1292 159l-6 -14M1222 239l11 16M1213 173l2 -21M1189 178l-17 -30M1291 164l-6 -26M1249 232l12 32M1225 164l-17 -22M1210 177l10 -30M1293 230l6 15M1425 207l-16 34M1368 153l-8 -24M1375 149l10 -28M1411 214l10 30M1404 211l9 39M1325 214l4 25M1393 216l-12 26M1339 159l-1 -26M1310 224l-5 14M1376 154l11 -33M1404 139l-13 -27M1349 217l-13 28M1305 231l14 31M1354 213l-13 25M1395 215l9 31M1337 218l22 31M1362 141l-4 -36M1416 140l-2 -19M1305 227l6 36M1348 225l0 40M1397 214l21 24M1425 213l6 18M1354 146l-15 -27M1431 212l1 22M1373 219l19 27M1383 215l-5 27M1315 222l11 26M1385 207l-3 15M1409 138l3 -37M1332 225l-2 16M1408 219l2 26M1306 158l-21 -25M1314 215l-6 34M1387 148l-2 -15M1370 142l11 -23M1317 161l3 -26M1636 229l-8 14M1538 141l2 -26M1598 229l-15 26M1608 223l4 16M1462 203l11 25M1602 227l5 29M1465 149l-11 -35M1458 141l5 -40M1510 145l3 -29M1444 138l20 -32M1622 222l6 16M1520 155l-8 -32M1614 230l-5 31M1637 224l-20 30M1488 139l7 -26M1596 219l-5 26M1606 153l7 -16M1598 158l14 -34M1496 208l-4 30M1561 158l12 -16M1439 149l-5 -29M1462 213l13 30M1527 147l-2 -36M1467 205l-14 25M1542 145l0 -21M1468 146l-4 -22M1476 137l9 -29M1626 159l9 -34M1610 149l18 -25M1455 218l-23 30M1625 230l-11 22M1531 152l5 -16M1606 158l2 -32M1531 147l13 -22M1620 225l-2 15M1558 213l4 37M1585 225l-12 24M1534 224l-22 28M1537 209l6 25M1486 214l1 16M1538 223l-6 28M1494 213l-8 16M1512 222l8 17M1589 227l-13 36M1591 218l8 15M1593 150l13 -19M1453 148l-6 -20M1618 226l4 25M1475 137l-4 -36M1579 216l-14 21M1611 158l-11 -32M1445 209l-22 30M1603 226l4 39M1475 208l-15 26M1548 217l8 26M1464 147l13 -24M1589 228l-14 25M1585 224l2 17" stroke="#f0e0d8" stroke-width="2" opacity="0.5" fill="none" stroke-linecap="round"/>
<ellipse cx="650" cy="490" rx="85" ry="80" fill="#4a5866" filter="url(#blur1)"/>
<ellipse cx="905" cy="495" rx="205" ry="162" fill="#c89a88" filter="url(#blur2)"/>
<ellipse cx="905" cy="495" rx="190" ry="148" fill="url(#car)"/>
</g></g>
<line x1="336.5" y1="1497.0" x2="336.5" y2="2067.0" stroke="#000" stroke-width="6.8" />
<line x1="333.5" y1="2047.6" x2="1044.5" y2="2047.6" stroke="#000" stroke-width="6.2" />
<line x1="1041.5" y1="1497.0" x2="1041.5" y2="2050.0" stroke="#000" stroke-width="6.8" />
<line x1="316.0" y1="1500.4" x2="336.5" y2="1500.4" stroke="#000" stroke-width="6.8" />
<line x1="316.0" y1="1676.6" x2="336.5" y2="1676.6" stroke="#000" stroke-width="6.8" />
<line x1="316.0" y1="1852.8" x2="336.5" y2="1852.8" stroke="#000" stroke-width="6.8" />
<line x1="316.0" y1="2029.0" x2="336.5" y2="2029.0" stroke="#000" stroke-width="6.8" />
<line x1="336.5" y1="2047.6" x2="336.5" y2="2067.0" stroke="#000" stroke-width="6.5" />
<line x1="454.0" y1="2047.6" x2="454.0" y2="2058.0" stroke="#000" stroke-width="6.5" />
<line x1="571.5" y1="2047.6" x2="571.5" y2="2067.0" stroke="#000" stroke-width="6.5" />
<line x1="689.0" y1="2047.6" x2="689.0" y2="2058.0" stroke="#000" stroke-width="6.5" />
<line x1="806.5" y1="2047.6" x2="806.5" y2="2067.0" stroke="#000" stroke-width="6.5" />
<line x1="924.0" y1="2047.6" x2="924.0" y2="2058.0" stroke="#000" stroke-width="6.5" />
<line x1="1041.5" y1="2047.6" x2="1041.5" y2="2067.0" stroke="#000" stroke-width="6.5" />
<line x1="1041.5" y1="2047.5" x2="1067.5" y2="2047.5" stroke="#000" stroke-width="6.8" />
<line x1="1041.5" y1="1938.0" x2="1067.5" y2="1938.0" stroke="#000" stroke-width="6.8" />
<line x1="1041.5" y1="1828.5" x2="1067.5" y2="1828.5" stroke="#000" stroke-width="6.8" />
<line x1="1041.5" y1="1719.0" x2="1067.5" y2="1719.0" stroke="#000" stroke-width="6.8" />
<line x1="1041.5" y1="1609.5" x2="1067.5" y2="1609.5" stroke="#000" stroke-width="6.8" />
<line x1="1041.5" y1="1500.0" x2="1067.5" y2="1500.0" stroke="#000" stroke-width="6.8" />
<polygon points="681.0,2045.0 681.0,1700.0 681.6,1700.0 683.2,1700.0 684.2,1719.3 685.8,1772.5 689.0,1825.7 693.0,1892.1 697.0,1932.0 701.0,1966.6 702.8,1975.6 702.8,2045.0" fill="#00ff00"/>
<polyline points="340.0,2029.0 360.0,2029.5 372.0,2030.0 374.0,2038.0 375.5,2045.0 377.0,2035.0 379.0,1960.0 381.0,1920.0 383.0,1912.0 385.0,1870.0 387.5,1844.0 389.5,1870.0 391.5,1910.0 394.0,1940.0 397.0,1975.0 400.0,1995.0 404.0,2004.0 407.5,2008.0 411.0,2018.0 415.0,2027.5 422.0,2031.0 430.0,2031.5 452.5,2032.0 456.0,2028.0 459.0,2012.0 462.5,2007.5 466.0,2012.0 470.0,2020.0 475.0,2024.0 480.0,2027.0 490.0,2029.0 500.0,2030.0 515.0,2029.0 530.0,2026.0 540.0,2025.5 560.0,2025.0 580.0,2024.5 596.0,2023.0 602.6,2016.0 606.6,2000.0 609.2,1918.7 610.6,1812.4 611.9,1613.0 613.2,1501.3 615.4,1639.5 617.2,1719.3 618.6,1825.7 621.2,1905.4 623.9,1958.6 627.3,1994.5 631.8,1999.8 638.5,2007.8 646.5,2014.4 657.1,2017.1 665.1,2017.6 669.9,2014.4 672.5,1995.8 674.4,1932.0 675.2,1852.2 676.3,1759.2 677.8,1735.3 679.7,1692.7 681.6,1631.6 683.2,1666.1 684.2,1719.3 685.8,1772.5 689.0,1825.7 693.0,1892.1 697.0,1932.0 701.0,1966.6 706.3,1993.2 712.9,2006.5 716.0,2009.4 724.0,2016.6 739.5,2021.1 760.0,2024.5 780.7,2027.5 820.0,2030.5 861.4,2032.4 900.0,2033.5 950.0,2034.4 956.0,2032.0 961.4,2025.5 965.0,2030.0 968.3,2032.4 1000.0,2034.0 1034.9,2035.6 1038.0,2034.0 1040.0,2030.0" fill="none" stroke="#000" stroke-width="3.3" stroke-linejoin="round"/>
<polyline points="340.0,1528.5 877.5,1637.0 923.0,2019.5 947.0,2019.5 970.5,1528.5 1042.0,1528.5" fill="none" stroke="#000" stroke-width="3.2" stroke-dasharray="6.5 3.3"/>
<line x1="684" y1="1529" x2="684" y2="1607" stroke="#ff0000" stroke-width="5.8" stroke-linecap="round"/>
<polygon points="674.3,1605 693.7,1605 684,1623" fill="#ff0000"/>
<text transform="translate(311.50,1521.36) scale(0.6006,0.6366)" font-size="100" text-anchor="end" font-weight="bold" class="LS">300</text>
<text transform="translate(311.50,1697.56) scale(0.6006,0.6366)" font-size="100" text-anchor="end" font-weight="bold" class="LS">200</text>
<text transform="translate(311.50,1873.76) scale(0.6006,0.6366)" font-size="100" text-anchor="end" font-weight="bold" class="LS">100</text>
<text transform="translate(311.50,2049.96) scale(0.6006,0.6366)" font-size="100" text-anchor="end" font-weight="bold" class="LS">0</text>
<text transform="translate(571.94,2128.37) scale(0.6070,0.6296)" font-size="100" text-anchor="middle" font-weight="bold" class="LS">10</text>
<text transform="translate(336.94,2128.37) scale(0.6070,0.6296)" font-size="100" text-anchor="middle" font-weight="bold" class="LS">0</text>
<text transform="translate(806.94,2128.37) scale(0.6070,0.6296)" font-size="100" text-anchor="middle" font-weight="bold" class="LS">20</text>
<text transform="translate(1041.94,2128.37) scale(0.6070,0.6296)" font-size="100" text-anchor="middle" font-weight="bold" class="LS">30</text>
<text transform="translate(533.68,2215.03) scale(0.6209,0.6223)" font-size="100" text-anchor="start" font-weight="bold" class="LS">Time (min)</text>
<text transform="translate(1073.16,1521.27) scale(0.5892,0.6338)" font-size="100" text-anchor="start" font-weight="bold" class="LS">100</text>
<text transform="translate(1073.16,1630.77) scale(0.5892,0.6338)" font-size="100" text-anchor="start" font-weight="bold" class="LS">80</text>
<text transform="translate(1073.16,1740.27) scale(0.5892,0.6338)" font-size="100" text-anchor="start" font-weight="bold" class="LS">60</text>
<text transform="translate(1073.16,1849.77) scale(0.5892,0.6338)" font-size="100" text-anchor="start" font-weight="bold" class="LS">40</text>
<text transform="translate(1073.16,1959.27) scale(0.5892,0.6338)" font-size="100" text-anchor="start" font-weight="bold" class="LS">20</text>
<text transform="translate(1073.16,2068.77) scale(0.5892,0.6338)" font-size="100" text-anchor="start" font-weight="bold" class="LS">0</text>
<text transform="translate(1169.67,1565.92) scale(0.6676,0.6257) rotate(90)" font-size="100" text-anchor="start" font-weight="bold" class="LS">% of solvent B</text>
<text transform="translate(194.94,2107.68) scale(0.6170,0.6262) rotate(-90)" font-size="100" text-anchor="start" font-weight="bold" class="LS">Absorbance (214 nm)</text>
<text transform="translate(508.65,1498.20) scale(0.5079,0.5420)" font-size="100" text-anchor="start" font-weight="bold" class="LS">U<tspan font-size="74" dy="31">1</tspan><tspan dy="-31">-TRTX-LK1a</tspan></text>
<line x1="1595.7" y1="1497.0" x2="1595.7" y2="2067.0" stroke="#000" stroke-width="6.8" />
<line x1="1592.7" y1="2047.6" x2="2302.0" y2="2047.6" stroke="#000" stroke-width="6.2" />
<line x1="2299.0" y1="1497.0" x2="2299.0" y2="2050.0" stroke="#000" stroke-width="6.8" />
<line x1="1575.2" y1="1499.5" x2="1595.7" y2="1499.5" stroke="#000" stroke-width="6.8" />
<line x1="1575.2" y1="1671.0" x2="1595.7" y2="1671.0" stroke="#000" stroke-width="6.8" />
<line x1="1575.2" y1="1842.5" x2="1595.7" y2="1842.5" stroke="#000" stroke-width="6.8" />
<line x1="1575.2" y1="2014.0" x2="1595.7" y2="2014.0" stroke="#000" stroke-width="6.8" />
<line x1="1583.7" y1="1585.2" x2="1595.7" y2="1585.2" stroke="#000" stroke-width="6.5" />
<line x1="1583.7" y1="1756.8" x2="1595.7" y2="1756.8" stroke="#000" stroke-width="6.5" />
<line x1="1583.7" y1="1928.2" x2="1595.7" y2="1928.2" stroke="#000" stroke-width="6.5" />
<line x1="1595.7" y1="2047.6" x2="1595.7" y2="2067.0" stroke="#000" stroke-width="6.5" />
<line x1="1713.2" y1="2047.6" x2="1713.2" y2="2058.0" stroke="#000" stroke-width="6.5" />
<line x1="1830.7" y1="2047.6" x2="1830.7" y2="2067.0" stroke="#000" stroke-width="6.5" />
<line x1="1948.2" y1="2047.6" x2="1948.2" y2="2058.0" stroke="#000" stroke-width="6.5" />
<line x1="2065.7" y1="2047.6" x2="2065.7" y2="2067.0" stroke="#000" stroke-width="6.5" />
<line x1="2183.2" y1="2047.6" x2="2183.2" y2="2058.0" stroke="#000" stroke-width="6.5" />
<line x1="2300.7" y1="2047.6" x2="2300.7" y2="2067.0" stroke="#000" stroke-width="6.5" />
<line x1="2299.0" y1="2047.5" x2="2325.0" y2="2047.5" stroke="#000" stroke-width="6.8" />
<line x1="2299.0" y1="1938.0" x2="2325.0" y2="1938.0" stroke="#000" stroke-width="6.8" />
<line x1="2299.0" y1="1828.5" x2="2325.0" y2="1828.5" stroke="#000" stroke-width="6.8" />
<line x1="2299.0" y1="1719.0" x2="2325.0" y2="1719.0" stroke="#000" stroke-width="6.8" />
<line x1="2299.0" y1="1609.5" x2="2325.0" y2="1609.5" stroke="#000" stroke-width="6.8" />
<line x1="2299.0" y1="1500.0" x2="2325.0" y2="1500.0" stroke="#000" stroke-width="6.8" />
<polygon points="1869.1,2045.0 1869.1,1967.6 1871.3,1949.2 1873.9,1955.8 1878.4,1958.5 1881.9,1968.2 1881.9,2045.0" fill="#ff0000"/>
<polyline points="1598.0,2013.0 1616.6,2007.7 1624.6,2006.3 1627.2,2010.4 1629.1,2045.0 1634.7,2045.0 1636.5,1905.3 1637.9,1719.3 1640.5,1700.6 1643.2,1612.9 1645.3,1505.3 1647.2,1546.5 1651.1,1639.5 1653.3,1745.9 1655.1,1852.2 1657.8,1932.0 1659.7,1973.1 1663.1,1974.4 1667.1,1981.1 1671.1,1977.1 1674.5,1973.1 1679.1,1985.1 1684.4,1999.7 1689.7,2002.3 1695.8,2002.3 1699.0,1987.7 1703.8,1983.7 1708.3,1994.4 1714.9,2003.7 1749.5,2004.2 1776.1,2002.3 1785.4,1994.4 1788.8,1971.8 1792.0,1905.3 1794.2,1852.2 1796.8,1834.9 1799.5,1852.2 1802.7,1905.3 1806.7,1958.5 1811.2,1977.1 1816.5,1973.1 1821.3,1985.1 1829.3,1998.4 1842.5,2003.7 1858.5,2002.3 1865.1,1995.7 1868.6,1971.8 1871.3,1949.2 1873.9,1955.8 1878.4,1958.5 1885.1,1977.1 1895.7,1995.7 1909.0,2003.7 1930.0,2005.0 1960.0,2009.0 2000.0,2011.0 2050.0,2012.5 2110.0,2013.5 2150.0,2014.0 2200.0,2014.5 2280.0,2015.0 2283.0,2012.0 2285.8,2025.8 2288.0,2017.0 2291.0,2022.0 2294.0,2015.0 2299.0,2013.0" fill="none" stroke="#000" stroke-width="3.3" stroke-linejoin="round"/>
<polyline points="1600.0,1529.0 2135.2,1638.0 2182.6,2019.6 2205.3,2019.6 2228.9,1527.7 2299.0,1527.7" fill="none" stroke="#000" stroke-width="3.2" stroke-dasharray="6.5 3.3"/>
<line x1="1874.4" y1="1795" x2="1874.4" y2="1913.3" stroke="#ff0000" stroke-width="5.8" stroke-linecap="round"/>
<polygon points="1864.7,1911.3 1884.1000000000001,1911.3 1874.4,1929.3" fill="#ff0000"/>
<text transform="translate(1570.18,1522.46) scale(0.5962,0.6366)" font-size="100" text-anchor="end" font-weight="bold" class="LS">150</text>
<text transform="translate(1570.18,1693.96) scale(0.5962,0.6366)" font-size="100" text-anchor="end" font-weight="bold" class="LS">100</text>
<text transform="translate(1570.18,1865.46) scale(0.5962,0.6366)" font-size="100" text-anchor="end" font-weight="bold" class="LS">50</text>
<text transform="translate(1570.18,2036.96) scale(0.5962,0.6366)" font-size="100" text-anchor="end" font-weight="bold" class="LS">0</text>
<text transform="translate(1596.14,2128.37) scale(0.6070,0.6296)" font-size="100" text-anchor="middle" font-weight="bold" class="LS">0</text>
<text transform="translate(1831.14,2128.37) scale(0.6070,0.6296)" font-size="100" text-anchor="middle" font-weight="bold" class="LS">10</text>
<text transform="translate(2066.14,2128.37) scale(0.6070,0.6296)" font-size="100" text-anchor="middle" font-weight="bold" class="LS">20</text>
<text transform="translate(2301.14,2128.37) scale(0.6070,0.6296)" font-size="100" text-anchor="middle" font-weight="bold" class="LS">30</text>
<text transform="translate(1792.88,2215.03) scale(0.6209,0.6223)" font-size="100" text-anchor="start" font-weight="bold" class="LS">Time (min)</text>
<text transform="translate(2330.66,1521.27) scale(0.5892,0.6338)" font-size="100" text-anchor="start" font-weight="bold" class="LS">100</text>
<text transform="translate(2330.66,1630.77) scale(0.5892,0.6338)" font-size="100" text-anchor="start" font-weight="bold" class="LS">80</text>
<text transform="translate(2330.66,1740.27) scale(0.5892,0.6338)" font-size="100" text-anchor="start" font-weight="bold" class="LS">60</text>
<text transform="translate(2330.66,1849.77) scale(0.5892,0.6338)" font-size="100" text-anchor="start" font-weight="bold" class="LS">40</text>
<text transform="translate(2330.66,1959.27) scale(0.5892,0.6338)" font-size="100" text-anchor="start" font-weight="bold" class="LS">20</text>
<text transform="translate(2330.66,2068.77) scale(0.5892,0.6338)" font-size="100" text-anchor="start" font-weight="bold" class="LS">0</text>
<text transform="translate(2432.36,1556.03) scale(0.6554,0.6235) rotate(90)" font-size="100" text-anchor="start" font-weight="bold" class="LS">% of solvent B</text>
<text transform="translate(1449.94,2112.68) scale(0.6170,0.6263) rotate(-90)" font-size="100" text-anchor="start" font-weight="bold" class="LS">Absorbance (214 nm)</text>
<text transform="translate(1699.55,1767.12) scale(0.5079,0.5380)" font-size="100" text-anchor="start" font-weight="bold" class="LS">U<tspan font-size="74" dy="31">2</tspan><tspan dy="-31">-TRTX-LK1a</tspan></text>
<line x1="336.5" y1="2291.0" x2="336.5" y2="2782.5" stroke="#000" stroke-width="5.2" />
<line x1="334.0" y1="2762.3" x2="1041.5" y2="2762.3" stroke="#000" stroke-width="5.2" />
<line x1="316.0" y1="2762.3" x2="336.5" y2="2762.3" stroke="#000" stroke-width="5.8" />
<line x1="316.0" y1="2671.9" x2="336.5" y2="2671.9" stroke="#000" stroke-width="5.8" />
<line x1="316.0" y1="2581.4" x2="336.5" y2="2581.4" stroke="#000" stroke-width="5.8" />
<line x1="316.0" y1="2491.0" x2="336.5" y2="2491.0" stroke="#000" stroke-width="5.8" />
<line x1="316.0" y1="2400.5" x2="336.5" y2="2400.5" stroke="#000" stroke-width="5.8" />
<line x1="316.0" y1="2310.1" x2="336.5" y2="2310.1" stroke="#000" stroke-width="5.8" />
<line x1="336.5" y1="2762.3" x2="336.5" y2="2782.5" stroke="#000" stroke-width="5.5" />
<line x1="436.9" y1="2762.3" x2="436.9" y2="2774.0" stroke="#000" stroke-width="5.5" />
<line x1="537.2" y1="2762.3" x2="537.2" y2="2782.5" stroke="#000" stroke-width="5.5" />
<line x1="637.5" y1="2762.3" x2="637.5" y2="2774.0" stroke="#000" stroke-width="5.5" />
<line x1="737.9" y1="2762.3" x2="737.9" y2="2782.5" stroke="#000" stroke-width="5.5" />
<line x1="838.2" y1="2762.3" x2="838.2" y2="2774.0" stroke="#000" stroke-width="5.5" />
<line x1="938.6" y1="2762.3" x2="938.6" y2="2782.5" stroke="#000" stroke-width="5.5" />
<line x1="1038.9" y1="2762.3" x2="1038.9" y2="2774.0" stroke="#000" stroke-width="5.5" />
<polyline points="339.1,2759.5 339.6,2759.5 340.1,2759.5 340.6,2759.5 341.1,2759.5 341.6,2759.5 342.1,2759.5 342.6,2759.5 343.1,2759.4 343.6,2759.4 344.1,2759.4 344.6,2759.4 345.1,2759.4 345.6,2759.4 346.1,2759.4 346.6,2759.3 347.1,2759.3 347.6,2759.2 348.1,2759.0 348.6,2758.6 349.1,2758.0 349.6,2757.0 350.1,2755.6 350.6,2753.8 351.1,2751.7 351.6,2749.5 351.7,2749.0 352.1,2750.7 352.6,2752.7 353.1,2754.5 353.6,2755.9 354.1,2756.9 354.6,2757.5 355.1,2757.8 355.6,2757.8 356.1,2757.8 356.6,2757.6 357.1,2757.5 357.6,2757.3 358.1,2757.1 358.6,2756.9 359.1,2756.7 359.6,2756.5 360.1,2756.2 360.6,2756.0 361.1,2755.7 361.6,2755.5 362.1,2755.2 362.6,2755.0 363.1,2754.7 363.6,2754.5 364.1,2754.2 364.6,2753.9 365.1,2753.6 365.6,2753.4 365.7,2753.3 366.1,2753.5 366.6,2753.8 367.1,2754.1 367.6,2754.4 368.1,2754.6 368.6,2754.9 369.1,2755.1 369.6,2755.4 370.1,2755.6 370.6,2755.9 371.1,2756.1 371.6,2756.4 372.1,2756.6 372.6,2756.8 373.1,2757.0 373.6,2757.2 374.1,2757.4 374.6,2757.6 375.1,2757.8 375.6,2757.9 376.1,2758.1 376.6,2758.2 377.1,2758.4 377.6,2758.5 378.1,2758.6 378.6,2758.7 379.1,2758.8 379.6,2758.9 380.1,2758.9 380.6,2759.0 381.1,2759.0 381.6,2759.1 382.1,2759.1 382.6,2759.2 383.1,2759.2 383.6,2759.2 384.1,2759.2 384.6,2759.2 385.1,2759.2 385.6,2759.2 386.1,2759.2 386.6,2759.1 387.1,2759.1 387.6,2759.0 388.1,2759.0 388.6,2758.9 389.1,2758.8 389.6,2758.6 390.1,2758.4 390.6,2758.2 391.1,2757.9 391.6,2757.5 392.1,2757.0 392.6,2756.3 393.1,2755.5 393.6,2754.5 394.1,2753.3 394.6,2751.7 395.1,2749.8 395.6,2747.5 396.1,2744.8 396.6,2741.6 397.1,2737.8 397.6,2733.5 398.1,2728.7 398.6,2723.3 399.1,2717.4 399.6,2711.0 400.1,2704.2 400.6,2696.9 401.1,2689.3 401.6,2681.5 402.1,2673.4 402.6,2665.2 403.1,2656.7 403.6,2648.0 404.1,2639.0 404.3,2635.2 404.6,2640.8 405.1,2649.8 405.6,2658.4 406.1,2666.8 406.6,2675.1 407.1,2683.1 407.6,2690.9 408.1,2698.4 408.6,2705.6 409.1,2712.3 409.6,2718.7 410.1,2724.5 410.6,2729.7 411.1,2734.5 411.6,2738.6 412.1,2742.2 412.6,2745.4 413.1,2748.0 413.6,2750.2 414.1,2752.0 414.6,2753.5 415.1,2754.8 415.6,2755.7 416.1,2756.5 416.6,2757.1 417.1,2757.6 417.6,2758.0 418.1,2758.3 418.6,2758.5 419.1,2758.7 419.6,2758.8 420.1,2758.9 420.6,2759.0 421.1,2759.1 421.6,2759.2 422.1,2759.2 422.6,2759.3 423.1,2759.3 423.6,2759.3 424.1,2759.4 424.6,2759.4 425.1,2759.4 425.6,2759.4 426.1,2759.4 426.6,2759.4 427.1,2759.4 427.6,2759.5 428.1,2759.5 428.6,2759.5 429.1,2759.5 429.6,2759.5 430.1,2759.5 430.6,2759.5 431.1,2759.5 431.6,2759.5 432.1,2759.5 432.6,2759.5 433.1,2759.4 433.6,2759.4 434.1,2759.3 434.6,2759.2 435.1,2758.8 435.6,2758.2 436.1,2757.1 436.6,2755.5 437.1,2753.5 437.6,2751.1 438.1,2748.5 438.3,2747.4 438.6,2749.1 439.1,2751.6 439.6,2753.9 440.1,2755.9 440.6,2757.4 441.1,2758.4 441.6,2758.9 442.1,2759.2 442.6,2759.4 443.1,2759.4 443.6,2759.5 444.1,2759.5 444.6,2759.5 445.1,2759.5 445.6,2759.5 446.1,2759.5 446.6,2759.5 447.1,2759.5 447.6,2759.5 448.1,2759.5 448.6,2759.4 449.1,2759.4 449.6,2759.3 450.1,2759.2 450.6,2759.0 451.1,2758.8 451.6,2758.5 452.1,2758.1 452.6,2757.7 453.1,2757.2 453.5,2756.8 453.6,2756.9 454.1,2757.2 454.6,2757.5 455.1,2757.7 455.6,2757.7 456.1,2757.6 456.6,2757.4 457.1,2757.1 457.6,2756.6 457.8,2756.4 458.1,2756.7 458.6,2757.0 459.1,2757.3 459.6,2757.5 460.1,2757.6 460.6,2757.5 461.1,2757.3 461.6,2756.8 462.1,2756.2 462.6,2755.2 463.1,2753.8 463.6,2752.0 464.1,2749.5 464.6,2746.2 465.1,2741.9 465.6,2736.3 466.1,2729.3 466.6,2720.6 467.1,2709.9 467.6,2697.3 468.1,2682.5 468.6,2665.6 469.1,2646.7 469.6,2626.1 470.1,2604.0 470.6,2580.6 471.1,2556.3 471.6,2531.2 472.1,2505.4 472.6,2478.6 473.0,2456.0 473.1,2461.8 473.6,2489.5 474.1,2515.8 474.6,2541.3 475.1,2566.1 475.6,2590.1 476.1,2613.0 476.6,2634.6 477.1,2654.5 477.6,2672.6 478.1,2688.6 478.6,2702.6 479.1,2714.4 479.6,2724.3 480.1,2732.3 480.6,2738.7 481.1,2743.8 481.6,2747.6 482.1,2750.6 482.6,2752.8 483.1,2754.5 483.6,2755.7 484.1,2756.6 484.6,2757.2 485.1,2757.7 485.6,2758.1 486.1,2758.4 486.6,2758.5 487.1,2758.6 487.6,2758.7 488.1,2758.5 488.6,2758.1 489.1,2757.2 489.6,2755.9 490.1,2754.2 490.6,2752.1 491.1,2749.8 491.4,2748.3 491.6,2749.4 492.1,2751.7 492.6,2753.9 493.1,2755.8 493.6,2757.2 494.1,2758.2 494.6,2758.7 495.1,2759.0 495.6,2759.1 496.1,2759.1 496.6,2759.0 497.1,2758.9 497.6,2758.8 498.1,2758.5 498.6,2758.3 499.1,2757.9 499.6,2757.5 500.1,2756.9 500.6,2756.3 501.1,2755.6 501.6,2754.9 502.1,2754.0 502.6,2753.1 503.1,2752.1 503.6,2751.1 504.1,2750.0 504.6,2748.9 505.1,2747.7 505.5,2746.6 505.6,2746.8 506.1,2747.5 506.6,2747.8 507.1,2747.5 507.6,2746.3 508.1,2744.5 508.6,2742.0 509.1,2739.2 509.4,2737.4 509.6,2739.3 510.1,2743.8 510.6,2747.9 511.1,2751.4 511.6,2754.2 512.1,2756.2 512.6,2757.4 513.1,2758.2 513.6,2758.6 514.1,2758.8 514.6,2759.0 515.1,2759.1 515.6,2759.1 516.1,2758.9 516.6,2758.7 517.1,2758.2 517.6,2757.5 518.1,2756.4 518.6,2755.0 519.1,2753.3 519.6,2751.4 520.1,2749.4 520.6,2747.1 521.1,2749.2 521.6,2751.0 522.1,2752.5 522.6,2753.6 523.1,2754.1 523.6,2754.0 524.1,2753.2 524.6,2751.8 525.1,2750.1 525.6,2748.0 526.0,2746.2 526.1,2746.6 526.6,2748.5 527.1,2750.2 527.6,2751.6 528.1,2752.6 528.6,2753.1 529.1,2753.0 529.6,2752.2 530.1,2750.6 530.6,2748.1 531.1,2744.6 531.6,2739.8 532.1,2733.6 532.6,2725.6 533.1,2715.5 533.6,2703.0 534.1,2688.0 534.6,2670.2 535.1,2649.7 535.6,2626.4 536.1,2600.7 536.6,2572.7 537.1,2542.9 537.6,2511.7 538.1,2479.3 538.6,2446.0 539.1,2411.5 539.6,2375.5 539.8,2360.5 540.1,2382.9 540.6,2418.5 541.1,2452.7 541.6,2485.8 542.1,2518.0 542.6,2549.0 543.1,2578.5 543.6,2606.0 544.1,2631.3 544.6,2654.0 545.1,2674.0 545.6,2691.2 546.1,2705.7 546.6,2717.7 547.1,2727.4 547.6,2735.0 548.1,2741.0 548.6,2745.6 549.1,2749.0 549.6,2751.6 550.1,2753.5 550.6,2754.8 551.1,2755.7 551.6,2756.2 552.1,2756.3 552.6,2755.9 553.1,2754.9 553.6,2753.5 554.1,2751.7 554.6,2749.6 555.1,2747.3 555.3,2746.3 555.6,2747.9 556.1,2750.3 556.6,2752.6 557.1,2754.7 557.6,2756.3 558.1,2757.5 558.6,2758.3 559.1,2758.8 559.6,2759.1 560.1,2759.2 560.6,2759.3 561.1,2759.3 561.6,2759.4 562.1,2759.4 562.6,2759.4 563.1,2759.3 563.6,2759.3 564.1,2759.3 564.6,2759.2 565.1,2759.0 565.6,2758.8 566.1,2758.5 566.6,2758.0 567.1,2757.4 567.6,2756.4 568.1,2755.2 568.6,2753.5 569.1,2751.5 569.6,2748.9 570.1,2746.0 570.6,2742.7 571.1,2739.1 571.6,2735.3 572.1,2731.3 572.6,2727.1 573.0,2723.6 573.1,2724.5 573.6,2728.8 574.1,2732.9 574.6,2736.8 575.1,2740.6 575.6,2744.1 576.1,2747.2 576.6,2750.0 577.1,2752.3 577.6,2754.2 578.1,2755.7 578.6,2756.8 579.1,2757.6 579.6,2758.2 580.1,2758.5 580.6,2758.7 581.1,2758.7 581.6,2758.4 582.1,2757.8 582.6,2756.7 583.1,2755.1 583.6,2753.1 584.1,2750.9 584.6,2748.4 585.1,2750.9 585.6,2753.1 586.1,2755.1 586.6,2756.7 587.1,2757.9 587.6,2758.6 588.1,2758.9 588.6,2759.1 589.1,2759.2 589.6,2759.2 590.1,2759.1 590.6,2759.0 591.1,2758.9 591.6,2758.7 592.1,2758.3 592.6,2757.7 593.1,2756.6 593.6,2755.1 594.1,2753.1 594.6,2750.7 595.1,2748.0 595.4,2746.2 595.6,2746.8 596.1,2748.2 596.6,2749.0 597.1,2749.1 597.6,2748.2 598.1,2746.0 598.6,2742.5 599.1,2737.4 599.6,2730.5 600.1,2721.6 600.6,2710.4 601.1,2696.5 601.6,2679.7 602.1,2659.9 602.6,2637.0 603.1,2611.1 603.6,2582.4 604.1,2551.2 604.6,2517.9 605.1,2483.1 605.6,2447.0 606.1,2409.8 606.6,2371.4 607.1,2331.3 607.3,2314.5 607.6,2339.5 608.1,2379.2 608.6,2417.3 609.1,2454.3 609.6,2490.2 610.1,2524.7 610.6,2557.6 611.1,2588.3 611.6,2616.5 612.1,2641.9 612.6,2664.2 613.1,2683.3 613.6,2699.5 614.1,2712.9 614.6,2723.7 615.1,2732.2 615.6,2738.9 616.1,2744.0 616.6,2747.9 617.1,2750.8 617.6,2752.9 618.1,2754.5 618.6,2755.6 619.1,2756.5 619.6,2757.2 620.1,2757.6 620.6,2758.0 621.1,2758.3 621.6,2758.5 622.1,2758.7 622.6,2758.8 623.1,2758.9 623.6,2759.0 624.1,2759.1 624.6,2759.1 625.1,2759.2 625.6,2759.2 626.1,2759.2 626.6,2759.2 627.1,2759.2 627.6,2759.1 628.1,2759.0 628.6,2758.9 629.1,2758.8 629.6,2758.6 630.1,2758.3 630.6,2757.9 631.1,2757.5 631.6,2756.9 632.1,2756.3 632.6,2755.5 633.1,2754.6 633.6,2753.6 634.1,2752.5 634.6,2751.3 635.1,2750.0 635.6,2748.7 636.1,2747.3 636.6,2745.9 637.1,2744.4 637.6,2742.8 638.1,2744.3 638.6,2745.5 639.1,2746.5 639.6,2747.3 640.1,2747.7 640.6,2747.7 641.1,2747.3 641.6,2746.5 642.1,2745.3 642.6,2743.9 643.0,2742.6 643.1,2743.3 643.6,2746.3 644.1,2749.1 644.6,2751.6 645.1,2753.8 645.6,2755.6 646.1,2756.9 646.6,2757.8 647.1,2758.5 647.6,2758.8 648.1,2759.1 648.6,2759.2 649.1,2759.3 649.6,2759.4 650.1,2759.4 650.6,2759.4 651.1,2759.4 651.6,2759.4 652.1,2759.4 652.6,2759.4 653.1,2759.4 653.6,2759.4 654.1,2759.4 654.6,2759.4 655.1,2759.4 655.6,2759.4 656.1,2759.3 656.6,2759.3 657.1,2759.2 657.6,2759.2 658.1,2759.1 658.6,2759.1 659.1,2759.0 659.6,2758.8 660.1,2758.7 660.6,2758.5 661.1,2758.2 661.6,2757.9 662.1,2757.5 662.6,2757.0 663.1,2756.2 663.6,2755.2 664.1,2753.8 664.6,2751.9 665.1,2749.4 665.6,2746.1 666.1,2741.7 666.6,2735.9 667.1,2728.7 667.6,2719.6 668.1,2708.4 668.6,2695.0 669.1,2679.2 669.6,2661.0 670.1,2640.5 670.6,2617.8 671.1,2593.4 671.6,2567.4 672.1,2540.2 672.6,2512.2 673.1,2483.2 673.6,2453.3 674.1,2421.9 674.2,2415.4 674.6,2441.0 675.1,2471.4 675.6,2500.7 676.1,2529.1 676.6,2556.7 677.1,2583.1 677.6,2608.3 678.1,2631.7 678.6,2653.0 679.1,2672.2 679.6,2688.9 680.1,2703.3 680.6,2715.3 681.1,2725.3 681.6,2733.2 682.1,2739.5 682.6,2744.4 683.1,2748.1 683.6,2750.9 684.1,2753.0 684.6,2754.4 685.1,2755.3 685.6,2755.7 686.1,2755.4 686.6,2754.5 687.1,2753.0 687.6,2751.0 688.1,2748.7 688.5,2746.6 688.6,2747.2 689.1,2750.0 689.6,2752.5 690.1,2754.8 690.6,2756.5 691.1,2757.8 691.6,2758.5 692.1,2758.9 692.6,2759.2 693.1,2759.3 693.6,2759.3 694.1,2759.4 694.6,2759.4 695.1,2759.4 695.6,2759.4 696.1,2759.4 696.6,2759.4 697.1,2759.4 697.6,2759.4 698.1,2759.3 698.6,2759.1 699.1,2758.9 699.6,2758.4 700.1,2757.7 700.6,2756.7 701.1,2755.5 701.6,2754.0 702.1,2752.3 702.6,2750.5 703.0,2749.0 703.1,2749.4 703.6,2751.2 704.1,2753.0 704.6,2754.6 705.1,2756.0 705.6,2757.1 706.1,2758.0 706.6,2758.5 707.1,2758.8 707.6,2758.9 708.1,2758.8 708.6,2758.3 709.1,2757.3 709.6,2755.6 710.1,2753.2 710.6,2750.1 711.1,2746.6 711.6,2742.8 711.7,2742.0 712.1,2745.1 712.6,2748.8 713.1,2752.1 713.6,2754.8 714.1,2756.8 714.6,2758.1 715.1,2758.8 715.6,2759.1 716.1,2759.3 716.6,2759.4 717.1,2759.4 717.6,2759.5 718.1,2759.5 718.6,2759.5 719.1,2759.5 719.6,2759.5 720.1,2759.5 720.6,2759.4 721.1,2759.4 721.6,2759.4 722.1,2759.3 722.6,2759.2 723.1,2759.0 723.6,2758.7 724.1,2758.0 724.6,2756.8 725.1,2755.0 725.6,2752.5 726.1,2749.5 726.6,2745.8 726.8,2744.2 727.1,2744.9 727.6,2745.5 728.1,2745.4 728.6,2744.7 729.0,2743.6 729.1,2744.4 729.6,2747.8 730.1,2750.5 730.6,2752.5 731.1,2753.8 731.6,2754.1 732.1,2753.7 732.6,2752.4 733.1,2750.4 733.6,2747.6 734.1,2743.9 734.6,2739.1 735.1,2733.1 735.6,2725.8 736.1,2716.9 736.6,2706.5 737.1,2694.5 737.6,2681.0 738.1,2666.0 738.6,2649.9 739.1,2632.8 739.6,2614.9 740.1,2596.3 740.6,2577.3 741.1,2557.5 741.6,2536.8 741.7,2532.5 742.1,2549.4 742.6,2569.4 743.1,2588.7 743.6,2607.5 744.1,2625.6 744.6,2643.1 745.1,2659.6 745.6,2675.0 746.1,2689.1 746.6,2701.6 747.1,2712.4 747.6,2721.6 748.1,2729.1 748.6,2734.9 749.1,2739.1 749.6,2741.8 750.1,2743.2 750.6,2743.4 751.1,2742.7 751.6,2741.2 752.1,2739.3 752.6,2736.9 752.8,2735.8 753.1,2738.1 753.6,2741.6 754.1,2744.9 754.6,2747.9 755.1,2750.6 755.6,2752.9 756.1,2754.8 756.6,2756.3 757.1,2757.3 757.6,2758.1 758.1,2758.5 758.6,2758.9 759.1,2759.1 759.6,2759.2 760.1,2759.3 760.6,2759.3 761.1,2759.4 761.6,2759.4 762.1,2759.4 762.6,2759.4 763.1,2759.4 763.6,2759.4 764.1,2759.4 764.6,2759.4 765.1,2759.2 765.6,2759.0 766.1,2758.5 766.6,2757.6 767.1,2756.2 767.6,2754.4 768.1,2752.1 768.6,2749.6 769.0,2747.4 769.1,2748.0 769.6,2750.6 770.1,2753.0 770.6,2755.2 771.1,2756.8 771.6,2758.0 772.1,2758.7 772.6,2759.1 773.1,2759.3 773.6,2759.3 774.1,2759.3 774.6,2759.2 775.1,2759.0 775.6,2758.5 776.1,2757.5 776.6,2755.9 777.1,2753.4 777.6,2750.3 778.1,2746.7 778.6,2742.7 778.8,2741.0 779.1,2743.5 779.6,2747.4 780.1,2751.0 780.6,2754.0 781.1,2756.3 781.6,2757.8 782.1,2758.6 782.6,2759.1 783.1,2759.3 783.6,2759.4 784.1,2759.4 784.6,2759.5 785.1,2759.5 785.6,2759.5 786.1,2759.5 786.6,2759.5 787.1,2759.5 787.6,2759.5 788.1,2759.5 788.6,2759.5 789.1,2759.4 789.6,2759.4 790.1,2759.4 790.6,2759.4 791.1,2759.4 791.6,2759.3 792.1,2759.3 792.6,2759.3 793.1,2759.2 793.6,2759.2 794.1,2759.1 794.6,2759.0 795.1,2758.9 795.6,2758.7 796.1,2758.5 796.6,2758.3 797.1,2757.9 797.6,2757.4 798.1,2756.8 798.6,2755.9 799.1,2754.8 799.6,2753.2 800.1,2751.1 800.6,2748.4 801.1,2744.8 801.6,2740.3 802.1,2734.7 802.6,2727.9 803.1,2719.7 803.6,2710.0 804.1,2699.0 804.6,2686.7 805.1,2673.1 805.6,2658.4 806.1,2643.0 806.6,2626.8 807.1,2610.1 807.6,2593.0 808.1,2575.2 808.6,2556.4 809.1,2575.2 809.6,2593.0 810.1,2610.1 810.6,2626.8 811.1,2643.0 811.6,2658.4 812.1,2673.1 812.6,2686.7 813.1,2699.0 813.6,2710.0 814.1,2719.7 814.6,2727.9 815.1,2734.7 815.6,2740.3 816.1,2744.8 816.6,2748.4 817.1,2751.1 817.6,2753.2 818.1,2754.8 818.6,2755.9 819.1,2756.8 819.6,2757.4 820.1,2757.9 820.6,2758.2 821.1,2758.5 821.6,2758.7 822.1,2758.8 822.6,2758.8 823.1,2758.6 823.6,2758.3 824.1,2757.5 824.6,2756.3 825.1,2754.6 825.6,2752.6 826.1,2750.4 826.5,2748.4 826.6,2748.9 827.1,2751.3 827.6,2753.5 828.1,2755.5 828.6,2757.0 829.1,2758.1 829.6,2758.8 830.1,2759.1 830.6,2759.3 831.1,2759.4 831.6,2759.4 832.1,2759.4 832.6,2759.5 833.1,2759.4 833.6,2759.4 834.1,2759.3 834.6,2759.2 835.1,2758.9 835.6,2758.3 836.1,2757.3 836.6,2755.7 837.1,2753.6 837.6,2751.2 838.1,2748.5 838.4,2746.8 838.6,2748.0 839.1,2750.7 839.6,2753.2 840.1,2755.3 840.6,2757.0 841.1,2758.1 841.6,2758.8 842.1,2759.2 842.6,2759.3 843.1,2759.4 843.6,2759.5 844.1,2759.5 844.6,2759.5 845.1,2759.5 845.6,2759.5 846.1,2759.5 846.6,2759.5 847.1,2759.5 847.6,2759.5 848.1,2759.5 848.6,2759.5 849.1,2759.5 849.6,2759.5 850.1,2759.5 850.6,2759.5 851.1,2759.5 851.6,2759.5 852.1,2759.5 852.6,2759.5 853.1,2759.5 853.6,2759.5 854.1,2759.4 854.6,2759.4 855.1,2759.4 855.6,2759.3 856.1,2759.2 856.6,2759.1 857.1,2758.8 857.6,2758.4 858.1,2757.8 858.6,2756.9 859.1,2755.7 859.6,2754.2 860.1,2752.6 860.6,2750.9 861.1,2748.9 861.6,2750.5 862.1,2751.9 862.6,2753.1 863.1,2754.1 863.6,2754.6 864.1,2754.7 864.6,2754.2 865.1,2753.2 865.6,2751.7 866.1,2749.5 866.6,2746.7 867.1,2743.2 867.6,2738.9 868.1,2733.8 868.6,2727.8 869.1,2720.9 869.6,2713.1 870.1,2704.3 870.6,2694.8 871.1,2684.3 871.6,2673.1 872.1,2661.1 872.6,2648.2 873.0,2637.3 873.1,2637.7 873.6,2639.6 874.1,2640.7 874.6,2641.3 875.1,2641.5 875.6,2641.2 876.1,2640.4 876.5,2639.1 876.6,2641.9 877.1,2655.2 877.6,2667.6 878.1,2679.2 878.6,2690.0 879.1,2700.0 879.6,2709.1 880.1,2717.4 880.6,2724.7 881.1,2731.1 881.6,2736.6 882.1,2741.3 882.6,2745.2 883.1,2748.4 883.6,2750.9 884.1,2753.0 884.6,2754.5 885.1,2755.7 885.6,2756.7 886.1,2757.3 886.6,2757.9 887.1,2758.2 887.6,2758.5 888.1,2758.7 888.6,2758.9 889.1,2759.0 889.6,2759.1 890.1,2759.2 890.6,2759.3 891.1,2759.3 891.6,2759.3 892.1,2759.4 892.6,2759.4 893.1,2759.4 893.6,2759.4 894.1,2759.4 894.6,2759.4 895.1,2759.5 895.6,2759.5 896.1,2759.5 896.6,2759.5 897.1,2759.5 897.6,2759.5 898.1,2759.5 898.6,2759.5 899.1,2759.5 899.6,2759.5 900.1,2759.5 900.6,2759.5 901.1,2759.5 901.6,2759.5 902.1,2759.5 902.6,2759.5 903.1,2759.5 903.6,2759.5 904.1,2759.5 904.6,2759.5 905.1,2759.5 905.6,2759.5 906.1,2759.5 906.6,2759.5 907.1,2759.5 907.6,2759.5 908.1,2759.5 908.6,2759.5 909.1,2759.5 909.6,2759.5 910.1,2759.5 910.6,2759.5 911.1,2759.5 911.6,2759.5 912.1,2759.5 912.6,2759.5 913.1,2759.5 913.6,2759.5 914.1,2759.5 914.6,2759.5 915.1,2759.5 915.6,2759.5 916.1,2759.5 916.6,2759.5 917.1,2759.5 917.6,2759.5 918.1,2759.5 918.6,2759.5 919.1,2759.5 919.6,2759.5 920.1,2759.5 920.6,2759.5 921.1,2759.5 921.6,2759.5 922.1,2759.5 922.6,2759.5 923.1,2759.5 923.6,2759.5 924.1,2759.5 924.6,2759.5 925.1,2759.5 925.6,2759.5 926.1,2759.5 926.6,2759.5 927.1,2759.5 927.6,2759.4 928.1,2759.4 928.6,2759.4 929.1,2759.4 929.6,2759.4 930.1,2759.3 930.6,2759.3 931.1,2759.2 931.6,2759.1 932.1,2759.0 932.6,2758.8 933.1,2758.5 933.6,2758.0 934.1,2757.4 934.6,2756.4 935.1,2755.0 935.6,2753.0 936.1,2750.4 936.6,2747.1 937.1,2743.1 937.6,2738.4 938.1,2733.3 938.6,2727.5 939.1,2721.2 939.6,2721.8 940.1,2721.9 940.6,2721.5 941.1,2720.6 941.6,2719.1 942.1,2717.0 942.6,2714.4 943.1,2711.1 943.6,2707.3 944.0,2703.8 944.1,2704.9 944.6,2710.3 945.1,2715.3 945.6,2720.1 946.1,2724.6 946.6,2729.0 947.1,2733.1 947.6,2737.0 948.1,2740.6 948.6,2743.9 949.1,2746.8 949.6,2749.3 950.1,2751.4 950.6,2753.2 951.1,2754.6 951.6,2755.8 952.1,2756.7 952.6,2757.4 953.1,2757.9 953.6,2758.3 954.1,2758.6 954.6,2758.8 955.1,2759.0 955.6,2759.1 956.1,2759.2 956.6,2759.3 957.1,2759.3 957.6,2759.3 958.1,2759.4 958.6,2759.4 959.1,2759.4 959.6,2759.4 960.1,2759.4 960.6,2759.5 961.1,2759.5 961.6,2759.5 962.1,2759.5 962.6,2759.5 963.1,2759.5 963.6,2759.5 964.1,2759.5 964.6,2759.5 965.1,2759.5 965.6,2759.5 966.1,2759.5 966.6,2759.5 967.1,2759.5 967.6,2759.5 968.1,2759.5 968.6,2759.5 969.1,2759.5 969.6,2759.5 970.1,2759.5 970.6,2759.5 971.1,2759.5 971.6,2759.5 972.1,2759.5 972.6,2759.5 973.1,2759.5 973.6,2759.5 974.1,2759.5 974.6,2759.5 975.1,2759.5 975.6,2759.4 976.1,2759.4 976.6,2759.2 977.1,2758.9 977.6,2758.3 978.1,2757.3 978.6,2755.9 979.1,2754.0 979.6,2751.8 980.1,2749.4 980.3,2748.4 980.6,2749.8 981.1,2751.9 981.6,2753.6 982.1,2754.7 982.6,2754.9 983.1,2754.2 983.6,2752.7 984.1,2750.7 984.6,2748.4 985.1,2750.9 985.6,2753.1 986.1,2755.2 986.6,2756.8 987.1,2757.9 987.6,2758.6 988.1,2758.9 988.6,2759.0 989.1,2758.7 989.6,2758.1 990.1,2757.1 990.6,2755.5 991.1,2753.6 991.6,2751.4 992.1,2749.0 992.2,2748.5 992.6,2750.5 993.1,2752.8 993.6,2754.8 994.1,2756.5 994.6,2757.8 995.1,2758.6 995.6,2759.0 996.1,2759.3 996.6,2759.4 997.1,2759.4 997.6,2759.4 998.1,2759.4 998.6,2759.4 999.1,2759.4 999.6,2759.4 1000.1,2759.4 1000.6,2759.3 1001.1,2759.2 1001.6,2759.0 1002.1,2758.7 1002.6,2758.2 1003.1,2757.4 1003.6,2756.3 1004.1,2754.7 1004.6,2752.7 1005.1,2750.2 1005.6,2747.3 1006.1,2744.2 1006.6,2740.8 1007.1,2737.3 1007.4,2735.0 1007.6,2736.5 1008.1,2740.1 1008.6,2743.5 1009.1,2746.7 1009.6,2749.6 1010.1,2752.2 1010.6,2754.3 1011.1,2756.0 1011.6,2757.2 1012.1,2758.0 1012.6,2758.5 1013.1,2758.9 1013.6,2759.0 1014.1,2759.1 1014.6,2759.0 1015.1,2758.6 1015.6,2758.0 1016.1,2756.8 1016.6,2755.1 1017.1,2753.0 1017.6,2750.6 1018.1,2748.0 1018.2,2747.4 1018.6,2749.6 1019.1,2752.1 1019.6,2754.3 1020.1,2756.2 1020.6,2757.6 1021.1,2758.5 1021.6,2759.0 1022.1,2759.3 1022.6,2759.4 1023.1,2759.4 1023.6,2759.5 1024.1,2759.5 1024.6,2759.5 1025.1,2759.5 1025.6,2759.5 1026.1,2759.4 1026.6,2759.4 1027.1,2759.3 1027.6,2759.2 1028.1,2758.8 1028.6,2758.2 1029.1,2757.1 1029.6,2755.6 1030.1,2753.6 1030.6,2751.4 1031.1,2749.0 1031.2,2748.5 1031.6,2750.5 1032.1,2752.8 1032.6,2754.8 1033.1,2756.5 1033.6,2757.8 1034.1,2758.6 1034.6,2759.0 1035.1,2759.2 1035.6,2759.2 1036.1,2759.2 1036.6,2758.9 1037.1,2758.3 1037.6,2757.4 1038.1,2755.9 1038.6,2753.9" fill="none" stroke="#000" stroke-width="3.4" stroke-linejoin="round"/>
<line x1="464" y1="2315.7" x2="411.4" y2="2591.9" stroke="#000" stroke-width="2.6"/>
<polygon points="404.3,2629.2 396.2,2589.0 426.6,2594.8" fill="#000"/>
<text transform="translate(308.23,2329.39) scale(0.5816,0.6085)" font-size="100" text-anchor="end" font-weight="bold" class="LS">1250</text>
<text transform="translate(308.23,2419.84) scale(0.5816,0.6085)" font-size="100" text-anchor="end" font-weight="bold" class="LS">1000</text>
<text transform="translate(308.23,2510.29) scale(0.5816,0.6085)" font-size="100" text-anchor="end" font-weight="bold" class="LS">750</text>
<text transform="translate(308.23,2600.74) scale(0.5816,0.6085)" font-size="100" text-anchor="end" font-weight="bold" class="LS">500</text>
<text transform="translate(308.23,2691.19) scale(0.5816,0.6085)" font-size="100" text-anchor="end" font-weight="bold" class="LS">250</text>
<text transform="translate(308.23,2781.64) scale(0.5816,0.6085)" font-size="100" text-anchor="end" font-weight="bold" class="LS">0</text>
<text transform="translate(336.87,2842.49) scale(0.5816,0.6056)" font-size="100" text-anchor="middle" font-weight="bold" class="LS">1563</text>
<text transform="translate(537.57,2842.49) scale(0.5816,0.6056)" font-size="100" text-anchor="middle" font-weight="bold" class="LS">1564</text>
<text transform="translate(738.27,2842.49) scale(0.5816,0.6056)" font-size="100" text-anchor="middle" font-weight="bold" class="LS">1565</text>
<text transform="translate(938.97,2842.49) scale(0.5816,0.6056)" font-size="100" text-anchor="middle" font-weight="bold" class="LS">1566</text>
<text transform="translate(637.33,2921.29) scale(0.6237,0.6068)" font-size="100" text-anchor="start" font-weight="bold" class="LS">m/z</text>
<text transform="translate(368.47,2301.16) scale(0.5043,0.5380)" font-size="100" text-anchor="start" font-weight="bold" class="LS">1563.34 Da</text>
<text transform="translate(153.25,2639.36) scale(0.6213,0.6092) rotate(-90)" font-size="100" text-anchor="start" font-weight="bold" class="LS">Intensity</text>
<line x1="1595.3" y1="2291.0" x2="1595.3" y2="2782.5" stroke="#000" stroke-width="5.2" />
<line x1="1592.8" y1="2762.3" x2="2296.3" y2="2762.3" stroke="#000" stroke-width="5.2" />
<line x1="1574.8" y1="2762.3" x2="1595.3" y2="2762.3" stroke="#000" stroke-width="5.8" />
<line x1="1574.8" y1="2695.4" x2="1595.3" y2="2695.4" stroke="#000" stroke-width="5.8" />
<line x1="1574.8" y1="2628.6" x2="1595.3" y2="2628.6" stroke="#000" stroke-width="5.8" />
<line x1="1574.8" y1="2561.7" x2="1595.3" y2="2561.7" stroke="#000" stroke-width="5.8" />
<line x1="1574.8" y1="2494.9" x2="1595.3" y2="2494.9" stroke="#000" stroke-width="5.8" />
<line x1="1574.8" y1="2428.0" x2="1595.3" y2="2428.0" stroke="#000" stroke-width="5.8" />
<line x1="1574.8" y1="2361.1" x2="1595.3" y2="2361.1" stroke="#000" stroke-width="5.8" />
<line x1="1574.8" y1="2294.3" x2="1595.3" y2="2294.3" stroke="#000" stroke-width="5.8" />
<line x1="1595.3" y1="2762.3" x2="1595.3" y2="2782.5" stroke="#000" stroke-width="5.5" />
<line x1="1682.6" y1="2762.3" x2="1682.6" y2="2774.0" stroke="#000" stroke-width="5.5" />
<line x1="1769.9" y1="2762.3" x2="1769.9" y2="2782.5" stroke="#000" stroke-width="5.5" />
<line x1="1857.2" y1="2762.3" x2="1857.2" y2="2774.0" stroke="#000" stroke-width="5.5" />
<line x1="1944.5" y1="2762.3" x2="1944.5" y2="2782.5" stroke="#000" stroke-width="5.5" />
<line x1="2031.8" y1="2762.3" x2="2031.8" y2="2774.0" stroke="#000" stroke-width="5.5" />
<line x1="2119.1" y1="2762.3" x2="2119.1" y2="2782.5" stroke="#000" stroke-width="5.5" />
<line x1="2206.4" y1="2762.3" x2="2206.4" y2="2774.0" stroke="#000" stroke-width="5.5" />
<line x1="2293.7" y1="2762.3" x2="2293.7" y2="2782.5" stroke="#000" stroke-width="5.5" />
<polyline points="1597.9,2760.0 1598.4,2760.0 1598.9,2760.0 1599.4,2760.0 1599.9,2760.0 1600.4,2760.0 1600.9,2760.0 1601.4,2760.0 1601.9,2760.0 1602.4,2760.0 1602.9,2760.0 1603.4,2760.0 1603.9,2760.0 1604.4,2760.0 1604.9,2760.0 1605.4,2760.0 1605.9,2760.0 1606.4,2760.0 1606.9,2760.0 1607.4,2760.0 1607.9,2760.0 1608.4,2760.0 1608.9,2760.0 1609.4,2760.0 1609.9,2760.0 1610.4,2760.0 1610.9,2760.0 1611.4,2760.0 1611.9,2760.0 1612.4,2760.0 1612.9,2760.0 1613.4,2760.0 1613.9,2760.0 1614.4,2760.0 1614.9,2760.0 1615.4,2760.0 1615.9,2760.0 1616.4,2760.0 1616.9,2760.0 1617.4,2760.0 1617.9,2760.0 1618.4,2760.0 1618.9,2760.0 1619.4,2760.0 1619.9,2760.0 1620.4,2760.0 1620.9,2760.0 1621.4,2760.0 1621.9,2760.0 1622.4,2760.0 1622.9,2760.0 1623.4,2760.0 1623.9,2760.0 1624.4,2760.0 1624.9,2760.0 1625.4,2760.0 1625.9,2760.0 1626.4,2760.0 1626.9,2760.0 1627.4,2760.0 1627.9,2760.0 1628.4,2760.0 1628.9,2760.0 1629.4,2760.0 1629.9,2760.0 1630.4,2760.0 1630.9,2760.0 1631.4,2760.0 1631.9,2760.0 1632.4,2760.0 1632.9,2760.0 1633.4,2760.0 1633.9,2760.0 1634.4,2760.0 1634.9,2760.0 1635.4,2760.0 1635.9,2760.0 1636.4,2760.0 1636.9,2760.0 1637.4,2760.0 1637.9,2760.0 1638.4,2760.0 1638.9,2760.0 1639.4,2760.0 1639.9,2760.0 1640.4,2760.0 1640.9,2760.0 1641.4,2760.0 1641.9,2760.0 1642.4,2760.0 1642.9,2760.0 1643.4,2760.0 1643.9,2760.0 1644.4,2760.0 1644.9,2760.0 1645.4,2760.0 1645.9,2760.0 1646.4,2760.0 1646.9,2760.0 1647.4,2760.0 1647.9,2760.0 1648.4,2760.0 1648.9,2760.0 1649.4,2760.0 1649.9,2760.0 1650.4,2760.0 1650.9,2760.0 1651.4,2760.0 1651.9,2760.0 1652.4,2760.0 1652.9,2760.0 1653.4,2760.0 1653.9,2760.0 1654.4,2760.0 1654.9,2760.0 1655.4,2760.0 1655.9,2760.0 1656.4,2760.0 1656.9,2760.0 1657.4,2760.0 1657.9,2760.0 1658.4,2760.0 1658.9,2760.0 1659.4,2760.0 1659.9,2760.0 1660.4,2760.0 1660.9,2760.0 1661.4,2760.0 1661.9,2760.0 1662.4,2760.0 1662.9,2760.0 1663.4,2760.0 1663.9,2760.0 1664.4,2760.0 1664.9,2760.0 1665.4,2760.0 1665.9,2760.0 1666.4,2760.0 1666.9,2760.0 1667.4,2760.0 1667.9,2760.0 1668.4,2760.0 1668.9,2760.0 1669.4,2760.0 1669.9,2760.0 1670.4,2760.0 1670.9,2760.0 1671.4,2760.0 1671.9,2760.0 1672.4,2760.0 1672.9,2760.0 1673.4,2760.0 1673.9,2760.0 1674.4,2760.0 1674.9,2760.0 1675.4,2760.0 1675.9,2760.0 1676.4,2760.0 1676.9,2760.0 1677.4,2760.0 1677.9,2760.0 1678.4,2760.0 1678.9,2760.0 1679.4,2760.0 1679.9,2760.0 1680.4,2760.0 1680.9,2760.0 1681.4,2760.0 1681.9,2760.0 1682.4,2760.0 1682.9,2760.0 1683.4,2760.0 1683.9,2760.0 1684.4,2760.0 1684.9,2760.0 1685.4,2760.0 1685.9,2760.0 1686.4,2760.0 1686.9,2760.0 1687.4,2760.0 1687.9,2760.0 1688.4,2760.0 1688.9,2760.0 1689.4,2760.0 1689.9,2760.0 1690.4,2760.0 1690.9,2760.0 1691.4,2760.0 1691.9,2760.0 1692.4,2760.0 1692.9,2760.0 1693.4,2760.0 1693.9,2760.0 1694.4,2760.0 1694.9,2759.9 1695.4,2759.9 1695.9,2759.8 1696.4,2759.7 1696.9,2759.5 1697.4,2759.2 1697.9,2758.9 1698.4,2758.5 1698.9,2758.1 1699.4,2757.6 1699.9,2757.1 1700.0,2757.0 1700.4,2757.4 1700.9,2757.9 1701.4,2758.3 1701.9,2758.8 1702.4,2759.1 1702.9,2759.4 1703.4,2759.6 1703.9,2759.7 1704.4,2759.8 1704.9,2759.9 1705.4,2759.9 1705.9,2759.9 1706.4,2759.9 1706.9,2759.9 1707.4,2759.9 1707.9,2759.9 1708.4,2759.9 1708.9,2759.8 1709.4,2759.8 1709.9,2759.7 1710.4,2759.6 1710.9,2759.5 1711.4,2759.3 1711.9,2759.0 1712.4,2758.6 1712.9,2758.0 1713.4,2757.3 1713.9,2756.3 1714.4,2755.1 1714.9,2753.4 1715.4,2751.4 1715.9,2749.0 1716.4,2746.1 1716.9,2742.9 1717.4,2739.3 1717.9,2735.3 1718.4,2731.2 1718.9,2726.9 1719.4,2722.4 1719.9,2717.7 1720.4,2712.8 1720.9,2717.7 1721.4,2722.4 1721.9,2726.9 1722.4,2731.2 1722.9,2735.3 1723.4,2739.3 1723.9,2742.9 1724.4,2746.1 1724.9,2749.0 1725.4,2751.4 1725.9,2753.4 1726.4,2755.1 1726.9,2756.3 1727.4,2757.3 1727.9,2758.0 1728.4,2758.6 1728.9,2759.0 1729.4,2759.3 1729.9,2759.5 1730.4,2759.6 1730.9,2759.7 1731.4,2759.8 1731.9,2759.8 1732.4,2759.9 1732.9,2759.9 1733.4,2759.9 1733.9,2759.9 1734.4,2759.9 1734.9,2760.0 1735.4,2760.0 1735.9,2760.0 1736.4,2760.0 1736.9,2760.0 1737.4,2760.0 1737.9,2760.0 1738.4,2760.0 1738.9,2760.0 1739.4,2760.0 1739.9,2760.0 1740.4,2760.0 1740.9,2760.0 1741.4,2760.0 1741.9,2760.0 1742.4,2760.0 1742.9,2760.0 1743.4,2760.0 1743.9,2760.0 1744.4,2760.0 1744.9,2760.0 1745.4,2760.0 1745.9,2760.0 1746.4,2760.0 1746.9,2759.9 1747.4,2759.9 1747.9,2759.9 1748.4,2759.9 1748.9,2759.9 1749.4,2759.8 1749.9,2759.8 1750.4,2759.7 1750.9,2759.7 1751.4,2759.6 1751.9,2759.5 1752.4,2759.3 1752.9,2759.1 1753.4,2758.8 1753.9,2758.4 1754.4,2757.8 1754.9,2757.0 1755.4,2755.8 1755.9,2754.2 1756.4,2752.0 1756.9,2749.1 1757.4,2745.4 1757.9,2740.5 1758.4,2734.6 1758.9,2727.4 1759.4,2718.9 1759.9,2709.3 1760.4,2698.6 1760.9,2687.0 1761.4,2674.7 1761.9,2661.9 1762.4,2648.6 1762.9,2634.9 1763.4,2620.3 1763.9,2634.9 1764.4,2648.6 1764.9,2661.9 1765.4,2674.7 1765.9,2687.0 1766.4,2698.6 1766.9,2709.3 1767.4,2718.9 1767.9,2727.4 1768.4,2734.6 1768.9,2740.5 1769.4,2745.4 1769.9,2749.1 1770.4,2752.0 1770.9,2754.2 1771.4,2755.8 1771.9,2757.0 1772.4,2757.8 1772.9,2758.4 1773.4,2758.8 1773.9,2759.1 1774.4,2759.3 1774.9,2759.5 1775.4,2759.6 1775.9,2759.7 1776.4,2759.7 1776.9,2759.8 1777.4,2759.8 1777.9,2759.9 1778.4,2759.9 1778.9,2759.9 1779.4,2759.9 1779.9,2759.9 1780.4,2760.0 1780.9,2760.0 1781.4,2760.0 1781.9,2760.0 1782.4,2760.0 1782.9,2760.0 1783.4,2760.0 1783.9,2760.0 1784.4,2759.9 1784.9,2759.9 1785.4,2759.9 1785.9,2759.7 1786.4,2759.6 1786.9,2759.3 1787.4,2759.0 1787.9,2758.5 1788.4,2758.0 1788.9,2757.4 1789.4,2756.8 1789.9,2756.1 1790.0,2756.0 1790.4,2756.5 1790.9,2757.1 1791.4,2757.7 1791.9,2758.2 1792.4,2758.7 1792.9,2759.0 1793.4,2759.3 1793.9,2759.4 1794.4,2759.5 1794.9,2759.5 1795.4,2759.4 1795.9,2759.3 1796.4,2759.2 1796.9,2759.0 1797.4,2758.7 1797.9,2758.2 1798.4,2757.6 1798.9,2756.8 1799.4,2755.6 1799.9,2753.9 1800.4,2751.6 1800.9,2748.4 1801.4,2744.0 1801.9,2738.3 1802.4,2730.9 1802.9,2721.6 1803.4,2710.2 1803.9,2696.6 1804.4,2680.8 1804.9,2662.9 1805.4,2643.3 1805.9,2622.3 1806.4,2600.1 1806.9,2577.1 1807.4,2553.3 1807.9,2528.5 1808.2,2512.8 1808.4,2523.3 1808.9,2548.5 1809.4,2572.4 1809.9,2595.6 1810.4,2617.9 1810.9,2639.2 1811.4,2659.1 1811.9,2677.4 1812.4,2693.6 1812.9,2707.6 1813.4,2719.5 1813.9,2729.2 1814.4,2737.0 1814.9,2743.0 1815.4,2747.6 1815.9,2751.0 1816.4,2753.5 1816.9,2755.3 1817.4,2756.6 1817.9,2757.5 1818.4,2758.1 1818.9,2758.6 1819.4,2758.9 1819.9,2759.2 1820.4,2759.3 1820.9,2759.5 1821.4,2759.6 1821.9,2759.7 1822.4,2759.7 1822.9,2759.8 1823.4,2759.8 1823.9,2759.8 1824.4,2759.9 1824.9,2759.8 1825.4,2759.8 1825.9,2759.8 1826.4,2759.6 1826.9,2759.5 1827.4,2759.2 1827.9,2758.9 1828.4,2758.5 1828.9,2758.1 1829.4,2757.6 1829.9,2757.1 1830.0,2757.0 1830.4,2757.4 1830.9,2757.9 1831.4,2758.3 1831.9,2758.7 1832.4,2759.1 1832.9,2759.4 1833.4,2759.6 1833.9,2759.7 1834.4,2759.8 1834.9,2759.8 1835.4,2759.8 1835.9,2759.8 1836.4,2759.8 1836.9,2759.7 1837.4,2759.6 1837.9,2759.5 1838.4,2759.4 1838.9,2759.3 1839.4,2759.1 1839.9,2758.9 1840.4,2758.6 1840.9,2758.1 1841.4,2757.5 1841.9,2756.7 1842.4,2755.5 1842.9,2753.9 1843.4,2751.6 1843.9,2748.3 1844.4,2743.9 1844.9,2737.8 1845.4,2729.8 1845.9,2719.4 1846.4,2706.2 1846.9,2690.0 1847.4,2670.5 1847.9,2647.8 1848.4,2622.0 1848.9,2593.5 1849.4,2562.7 1849.9,2530.2 1850.4,2496.5 1850.9,2461.6 1851.4,2425.2 1851.8,2394.5 1851.9,2402.4 1852.4,2440.0 1852.9,2475.7 1853.4,2510.1 1853.9,2543.4 1854.4,2575.2 1854.9,2605.2 1855.4,2632.6 1855.9,2657.3 1856.4,2678.7 1856.9,2696.9 1857.4,2711.9 1857.9,2723.9 1858.4,2733.3 1858.9,2740.5 1859.4,2745.8 1859.9,2749.8 1860.4,2752.6 1860.9,2754.6 1861.4,2756.1 1861.9,2757.1 1862.4,2757.8 1862.9,2758.3 1863.4,2758.7 1863.9,2759.0 1864.4,2759.1 1864.9,2759.3 1865.4,2759.3 1865.9,2759.3 1866.4,2759.3 1866.9,2759.1 1867.4,2758.8 1867.9,2758.4 1868.4,2757.9 1868.9,2757.3 1869.4,2756.7 1869.9,2756.1 1870.0,2755.9 1870.4,2756.5 1870.9,2757.1 1871.4,2757.8 1871.9,2758.3 1872.4,2758.8 1872.9,2759.2 1873.4,2759.5 1873.9,2759.7 1874.4,2759.8 1874.9,2759.9 1875.4,2759.9 1875.9,2759.9 1876.4,2759.9 1876.9,2759.9 1877.4,2759.9 1877.9,2759.9 1878.4,2759.9 1878.9,2759.9 1879.4,2759.9 1879.9,2759.8 1880.4,2759.8 1880.9,2759.8 1881.4,2759.7 1881.9,2759.6 1882.4,2759.6 1882.9,2759.4 1883.4,2759.3 1883.9,2759.1 1884.4,2758.9 1884.9,2758.6 1885.4,2758.2 1885.9,2757.6 1886.4,2756.9 1886.9,2755.8 1887.4,2754.3 1887.9,2752.1 1888.4,2749.1 1888.9,2744.9 1889.4,2739.2 1889.9,2731.4 1890.4,2721.3 1890.9,2708.2 1891.4,2691.9 1891.9,2672.0 1892.4,2648.3 1892.9,2621.1 1893.4,2590.4 1893.9,2556.9 1894.4,2521.1 1894.9,2483.5 1895.4,2444.6 1895.9,2404.4 1896.4,2362.1 1896.6,2344.4 1896.9,2370.8 1897.4,2412.5 1897.9,2452.5 1898.4,2491.2 1898.9,2528.4 1899.4,2563.8 1899.9,2596.8 1900.4,2626.8 1900.9,2653.4 1901.4,2676.3 1901.9,2695.5 1902.4,2711.1 1902.9,2723.5 1903.4,2733.2 1903.9,2740.5 1904.4,2745.8 1904.9,2749.8 1905.4,2752.6 1905.9,2754.6 1906.4,2756.0 1906.9,2757.0 1907.4,2757.7 1907.9,2758.3 1908.4,2758.6 1908.9,2758.9 1909.4,2759.1 1909.9,2759.2 1910.4,2759.3 1910.9,2759.3 1911.4,2759.2 1911.9,2759.1 1912.4,2758.8 1912.9,2758.4 1913.4,2757.9 1913.9,2757.3 1914.4,2756.7 1914.9,2756.1 1915.0,2755.9 1915.4,2756.5 1915.9,2757.1 1916.4,2757.8 1916.9,2758.3 1917.4,2758.8 1917.9,2759.2 1918.4,2759.5 1918.9,2759.7 1919.4,2759.8 1919.9,2759.9 1920.4,2759.9 1920.9,2759.9 1921.4,2759.9 1921.9,2759.9 1922.4,2759.9 1922.9,2759.9 1923.4,2759.8 1923.9,2759.8 1924.4,2759.7 1924.9,2759.7 1925.4,2759.6 1925.9,2759.5 1926.4,2759.4 1926.9,2759.2 1927.4,2759.0 1927.9,2758.8 1928.4,2758.4 1928.9,2757.9 1929.4,2757.2 1929.9,2756.3 1930.4,2754.9 1930.9,2753.0 1931.4,2750.4 1931.9,2746.7 1932.4,2741.6 1932.9,2734.8 1933.4,2725.8 1933.9,2714.3 1934.4,2699.9 1934.9,2682.3 1935.4,2661.5 1935.9,2637.4 1936.4,2610.4 1936.9,2580.8 1937.4,2549.2 1937.9,2516.1 1938.4,2481.7 1938.9,2446.2 1939.4,2408.9 1939.6,2393.3 1939.9,2416.6 1940.4,2453.4 1940.9,2488.7 1941.4,2522.8 1941.9,2555.7 1942.4,2586.9 1942.9,2616.0 1943.4,2642.5 1943.9,2665.9 1944.4,2686.1 1944.9,2703.0 1945.4,2716.9 1945.9,2727.8 1946.4,2736.3 1946.9,2742.8 1947.4,2747.5 1947.9,2751.0 1948.4,2753.5 1948.9,2755.2 1949.4,2756.5 1949.9,2757.4 1950.4,2758.0 1950.9,2758.5 1951.4,2758.8 1951.9,2759.1 1952.4,2759.3 1952.9,2759.4 1953.4,2759.5 1953.9,2759.6 1954.4,2759.6 1954.9,2759.7 1955.4,2759.7 1955.9,2759.6 1956.4,2759.5 1956.9,2759.2 1957.4,2758.9 1957.9,2758.5 1958.4,2758.0 1958.9,2757.4 1959.4,2756.8 1959.9,2756.1 1960.0,2756.0 1960.4,2756.5 1960.9,2757.2 1961.4,2757.8 1961.9,2758.3 1962.4,2758.8 1962.9,2759.2 1963.4,2759.5 1963.9,2759.7 1964.4,2759.8 1964.9,2759.8 1965.4,2759.9 1965.9,2759.9 1966.4,2759.9 1966.9,2759.8 1967.4,2759.8 1967.9,2759.8 1968.4,2759.7 1968.9,2759.7 1969.4,2759.6 1969.9,2759.5 1970.4,2759.4 1970.9,2759.2 1971.4,2759.0 1971.9,2758.7 1972.4,2758.3 1972.9,2757.7 1973.4,2757.0 1973.9,2755.9 1974.4,2754.4 1974.9,2752.2 1975.4,2749.2 1975.9,2745.1 1976.4,2739.6 1976.9,2732.3 1977.4,2722.8 1977.9,2710.9 1978.4,2696.4 1978.9,2678.9 1979.4,2658.8 1979.9,2635.9 1980.4,2610.9 1980.9,2584.0 1981.4,2555.7 1981.9,2526.3 1982.4,2495.9 1982.9,2464.1 1983.2,2444.1 1983.4,2457.6 1983.9,2489.7 1984.4,2520.3 1984.9,2549.9 1985.4,2578.4 1985.9,2605.6 1986.4,2631.1 1986.9,2654.4 1987.4,2675.1 1987.9,2693.1 1988.4,2708.2 1988.9,2720.7 1989.4,2730.6 1989.9,2738.3 1990.4,2744.2 1990.9,2748.5 1991.4,2751.7 1991.9,2754.0 1992.4,2755.6 1992.9,2756.8 1993.4,2757.6 1993.9,2758.2 1994.4,2758.6 1994.9,2758.9 1995.4,2759.2 1995.9,2759.3 1996.4,2759.5 1996.9,2759.6 1997.4,2759.7 1997.9,2759.7 1998.4,2759.8 1998.9,2759.8 1999.4,2759.9 1999.9,2759.9 2000.4,2759.9 2000.9,2759.9 2001.4,2759.9 2001.9,2760.0 2002.4,2760.0 2002.9,2760.0 2003.4,2760.0 2003.9,2760.0 2004.4,2760.0 2004.9,2760.0 2005.4,2760.0 2005.9,2760.0 2006.4,2760.0 2006.9,2760.0 2007.4,2760.0 2007.9,2760.0 2008.4,2760.0 2008.9,2760.0 2009.4,2760.0 2009.9,2759.9 2010.4,2759.9 2010.9,2759.9 2011.4,2759.9 2011.9,2759.9 2012.4,2759.8 2012.9,2759.8 2013.4,2759.7 2013.9,2759.7 2014.4,2759.6 2014.9,2759.5 2015.4,2759.4 2015.9,2759.2 2016.4,2759.0 2016.9,2758.7 2017.4,2758.2 2017.9,2757.7 2018.4,2756.9 2018.9,2755.7 2019.4,2754.1 2019.9,2751.9 2020.4,2748.8 2020.9,2744.5 2021.4,2738.8 2021.9,2731.3 2022.4,2721.8 2022.9,2709.9 2023.4,2695.4 2023.9,2678.4 2024.4,2658.9 2024.9,2637.1 2025.4,2613.3 2025.9,2588.0 2026.4,2561.6 2026.9,2534.2 2027.4,2505.9 2027.9,2476.0 2028.0,2469.8 2028.4,2494.2 2028.9,2523.0 2029.4,2550.8 2029.9,2577.6 2030.4,2603.3 2030.9,2627.8 2031.4,2650.4 2031.9,2670.9 2032.4,2688.9 2032.9,2704.4 2033.4,2717.3 2033.9,2727.8 2034.4,2736.0 2034.9,2742.4 2035.4,2747.2 2035.9,2750.7 2036.4,2753.3 2036.9,2755.2 2037.4,2756.5 2037.9,2757.4 2038.4,2758.0 2038.9,2758.5 2039.4,2758.9 2039.9,2759.1 2040.4,2759.3 2040.9,2759.4 2041.4,2759.6 2041.9,2759.6 2042.4,2759.7 2042.9,2759.8 2043.4,2759.8 2043.9,2759.8 2044.4,2759.8 2044.9,2759.8 2045.4,2759.8 2045.9,2759.7 2046.4,2759.6 2046.9,2759.5 2047.4,2759.2 2047.9,2758.9 2048.4,2758.5 2048.9,2758.1 2049.4,2757.6 2049.9,2757.1 2050.0,2757.0 2050.4,2757.4 2050.9,2757.9 2051.4,2758.3 2051.9,2758.7 2052.4,2759.1 2052.9,2759.4 2053.4,2759.6 2053.9,2759.7 2054.4,2759.8 2054.9,2759.9 2055.4,2759.9 2055.9,2759.9 2056.4,2759.9 2056.9,2759.8 2057.4,2759.8 2057.9,2759.8 2058.4,2759.7 2058.9,2759.6 2059.4,2759.6 2059.9,2759.4 2060.4,2759.3 2060.9,2759.0 2061.4,2758.7 2061.9,2758.3 2062.4,2757.7 2062.9,2756.8 2063.4,2755.6 2063.9,2753.9 2064.4,2751.6 2064.9,2748.5 2065.4,2744.4 2065.9,2739.1 2066.4,2732.5 2066.9,2724.5 2067.4,2714.9 2067.9,2703.9 2068.4,2691.5 2068.9,2678.0 2069.4,2663.5 2069.9,2648.4 2070.4,2632.7 2070.9,2616.4 2071.4,2599.4 2071.6,2592.2 2071.9,2602.8 2072.4,2619.7 2072.9,2635.9 2073.4,2651.5 2073.9,2666.5 2074.4,2680.8 2074.9,2694.1 2075.4,2706.2 2075.9,2716.9 2076.4,2726.2 2076.9,2733.9 2077.4,2740.3 2077.9,2745.3 2078.4,2749.2 2078.9,2752.1 2079.4,2754.3 2079.9,2755.9 2080.4,2757.0 2080.9,2757.8 2081.4,2758.4 2081.9,2758.8 2082.4,2759.1 2082.9,2759.3 2083.4,2759.5 2083.9,2759.6 2084.4,2759.7 2084.9,2759.7 2085.4,2759.8 2085.9,2759.8 2086.4,2759.9 2086.9,2759.9 2087.4,2759.9 2087.9,2759.9 2088.4,2759.9 2088.9,2760.0 2089.4,2760.0 2089.9,2760.0 2090.4,2760.0 2090.9,2760.0 2091.4,2760.0 2091.9,2760.0 2092.4,2760.0 2092.9,2760.0 2093.4,2760.0 2093.9,2760.0 2094.4,2760.0 2094.9,2760.0 2095.4,2760.0 2095.9,2760.0 2096.4,2760.0 2096.9,2760.0 2097.4,2760.0 2097.9,2760.0 2098.4,2760.0 2098.9,2760.0 2099.4,2759.9 2099.9,2759.9 2100.4,2759.9 2100.9,2759.9 2101.4,2759.9 2101.9,2759.8 2102.4,2759.8 2102.9,2759.7 2103.4,2759.7 2103.9,2759.6 2104.4,2759.5 2104.9,2759.3 2105.4,2759.1 2105.9,2758.7 2106.4,2758.3 2106.9,2757.7 2107.4,2756.8 2107.9,2755.5 2108.4,2753.8 2108.9,2751.6 2109.4,2748.5 2109.9,2744.6 2110.4,2739.7 2110.9,2733.6 2111.4,2726.4 2111.9,2718.1 2112.4,2708.6 2112.9,2698.3 2113.4,2687.1 2113.9,2675.4 2114.4,2663.2 2114.9,2650.6 2115.4,2637.5 2115.7,2629.2 2115.9,2634.8 2116.4,2648.1 2116.9,2660.7 2117.4,2673.0 2117.9,2684.8 2118.4,2696.1 2118.9,2706.6 2119.4,2716.3 2119.9,2724.9 2120.4,2732.3 2120.9,2738.6 2121.4,2743.7 2121.9,2747.8 2122.4,2751.0 2122.9,2753.4 2123.4,2755.2 2123.9,2756.6 2124.4,2757.5 2124.9,2758.2 2125.4,2758.7 2125.9,2759.0 2126.4,2759.3 2126.9,2759.4 2127.4,2759.6 2127.9,2759.7 2128.4,2759.7 2128.9,2759.8 2129.4,2759.8 2129.9,2759.9 2130.4,2759.9 2130.9,2759.9 2131.4,2759.9 2131.9,2759.9 2132.4,2759.9 2132.9,2760.0 2133.4,2760.0 2133.9,2760.0 2134.4,2759.9 2134.9,2759.9 2135.4,2759.9 2135.9,2759.8 2136.4,2759.7 2136.9,2759.5 2137.4,2759.2 2137.9,2758.9 2138.4,2758.5 2138.9,2758.1 2139.4,2757.6 2139.9,2757.1 2140.0,2757.0 2140.4,2757.4 2140.9,2757.9 2141.4,2758.3 2141.9,2758.7 2142.4,2759.1 2142.9,2759.4 2143.4,2759.6 2143.9,2759.7 2144.4,2759.8 2144.9,2759.8 2145.4,2759.9 2145.9,2759.9 2146.4,2759.8 2146.9,2759.8 2147.4,2759.8 2147.9,2759.7 2148.4,2759.6 2148.9,2759.5 2149.4,2759.3 2149.9,2759.1 2150.4,2758.8 2150.9,2758.3 2151.4,2757.6 2151.9,2756.7 2152.4,2755.5 2152.9,2753.9 2153.4,2751.8 2153.9,2749.1 2154.4,2745.8 2154.9,2741.9 2155.4,2737.3 2155.9,2732.1 2156.4,2726.3 2156.9,2720.1 2157.4,2713.5 2157.9,2706.6 2158.4,2699.6 2158.9,2692.2 2159.3,2686.0 2159.4,2687.6 2159.9,2695.2 2160.4,2702.4 2160.9,2709.4 2161.4,2716.1 2161.9,2722.6 2162.4,2728.7 2162.9,2734.2 2163.4,2739.2 2163.9,2743.5 2164.4,2747.2 2164.9,2750.3 2165.4,2752.7 2165.9,2754.6 2166.4,2756.0 2166.9,2757.1 2167.4,2757.9 2167.9,2758.5 2168.4,2758.9 2168.9,2759.2 2169.4,2759.4 2169.9,2759.6 2170.4,2759.7 2170.9,2759.7 2171.4,2759.8 2171.9,2759.8 2172.4,2759.9 2172.9,2759.9 2173.4,2759.9 2173.9,2759.9 2174.4,2759.9 2174.9,2760.0 2175.4,2760.0 2175.9,2760.0 2176.4,2760.0 2176.9,2760.0 2177.4,2760.0 2177.9,2760.0 2178.4,2760.0 2178.9,2760.0 2179.4,2760.0 2179.9,2759.9 2180.4,2759.9 2180.9,2759.8 2181.4,2759.7 2181.9,2759.5 2182.4,2759.2 2182.9,2758.9 2183.4,2758.5 2183.9,2758.1 2184.4,2757.6 2184.9,2757.1 2185.0,2757.0 2185.4,2757.4 2185.9,2757.9 2186.4,2758.3 2186.9,2758.7 2187.4,2759.1 2187.9,2759.4 2188.4,2759.6 2188.9,2759.7 2189.4,2759.8 2189.9,2759.9 2190.4,2759.9 2190.9,2759.9 2191.4,2759.9 2191.9,2759.9 2192.4,2759.8 2192.9,2759.8 2193.4,2759.7 2193.9,2759.7 2194.4,2759.5 2194.9,2759.4 2195.4,2759.2 2195.9,2758.8 2196.4,2758.4 2196.9,2757.8 2197.4,2757.0 2197.9,2755.9 2198.4,2754.5 2198.9,2752.8 2199.4,2750.6 2199.9,2748.1 2200.4,2745.2 2200.9,2742.0 2201.4,2738.4 2201.9,2734.6 2202.4,2730.6 2202.9,2726.5 2203.4,2722.2 2203.9,2717.7 2204.1,2715.8 2204.4,2718.6 2204.9,2723.0 2205.4,2727.3 2205.9,2731.4 2206.4,2735.4 2206.9,2739.1 2207.4,2742.6 2207.9,2745.8 2208.4,2748.7 2208.9,2751.1 2209.4,2753.1 2209.9,2754.8 2210.4,2756.1 2210.9,2757.1 2211.4,2757.9 2211.9,2758.5 2212.4,2758.9 2212.9,2759.2 2213.4,2759.4 2213.9,2759.6 2214.4,2759.7 2214.9,2759.8 2215.4,2759.8 2215.9,2759.9 2216.4,2759.9 2216.9,2759.9 2217.4,2759.9 2217.9,2759.9 2218.4,2759.9 2218.9,2759.9 2219.4,2759.9 2219.9,2759.9 2220.4,2759.8 2220.9,2759.7 2221.4,2759.6 2221.9,2759.3 2222.4,2759.0 2222.9,2758.5 2223.4,2758.0 2223.9,2757.4 2224.4,2756.8 2224.9,2756.1 2225.0,2756.0 2225.4,2756.6 2225.9,2757.2 2226.4,2757.8 2226.9,2758.3 2227.4,2758.8 2227.9,2759.2 2228.4,2759.5 2228.9,2759.7 2229.4,2759.8 2229.9,2759.9 2230.4,2759.9 2230.9,2760.0 2231.4,2760.0 2231.9,2760.0 2232.4,2760.0 2232.9,2760.0 2233.4,2760.0 2233.9,2760.0 2234.4,2760.0 2234.9,2760.0 2235.4,2759.9 2235.9,2759.9 2236.4,2759.9 2236.9,2759.9 2237.4,2759.8 2237.9,2759.8 2238.4,2759.7 2238.9,2759.6 2239.4,2759.5 2239.9,2759.2 2240.4,2759.0 2240.9,2758.6 2241.4,2758.1 2241.9,2757.4 2242.4,2756.6 2242.9,2755.5 2243.4,2754.3 2243.9,2752.9 2244.4,2751.3 2244.9,2749.6 2245.4,2747.7 2245.9,2745.7 2246.4,2743.6 2246.9,2741.5 2247.4,2739.3 2247.7,2737.9 2247.9,2738.8 2248.4,2741.1 2248.9,2743.2 2249.4,2745.3 2249.9,2747.3 2250.4,2749.2 2250.9,2751.0 2251.4,2752.6 2251.9,2754.1 2252.4,2755.3 2252.9,2756.4 2253.4,2757.2 2253.9,2757.9 2254.4,2758.5 2254.9,2758.9 2255.4,2759.2 2255.9,2759.4 2256.4,2759.6 2256.9,2759.7 2257.4,2759.8 2257.9,2759.8 2258.4,2759.9 2258.9,2759.9 2259.4,2759.9 2259.9,2759.9 2260.4,2759.8 2260.9,2759.8 2261.4,2759.7 2261.9,2759.5 2262.4,2759.2 2262.9,2758.9 2263.4,2758.5 2263.9,2758.1 2264.4,2757.6 2264.9,2757.1 2265.0,2757.0 2265.4,2757.4 2265.9,2757.9 2266.4,2758.3 2266.9,2758.8 2267.4,2759.1 2267.9,2759.4 2268.4,2759.6 2268.9,2759.8 2269.4,2759.9 2269.9,2759.9 2270.4,2760.0 2270.9,2760.0 2271.4,2760.0 2271.9,2760.0 2272.4,2760.0 2272.9,2760.0 2273.4,2760.0 2273.9,2760.0 2274.4,2760.0 2274.9,2760.0 2275.4,2760.0 2275.9,2760.0 2276.4,2760.0 2276.9,2760.0 2277.4,2760.0 2277.9,2760.0 2278.4,2760.0 2278.9,2760.0 2279.4,2760.0 2279.9,2760.0 2280.4,2760.0 2280.9,2760.0 2281.4,2760.0 2281.9,2760.0 2282.4,2760.0 2282.9,2759.9 2283.4,2759.9 2283.9,2759.9 2284.4,2759.8 2284.9,2759.7 2285.4,2759.6 2285.9,2759.4 2286.4,2759.2 2286.9,2758.9 2287.4,2758.5 2287.9,2758.0 2288.4,2757.5 2288.9,2756.9 2289.4,2756.3 2289.9,2755.7 2290.4,2755.0 2290.7,2754.6 2290.9,2754.9 2291.4,2755.6 2291.9,2756.2 2292.4,2756.8 2292.9,2757.4 2293.4,2757.9" fill="none" stroke="#000" stroke-width="3.4" stroke-linejoin="round"/>
<line x1="1728.2" y1="2316.9" x2="1721.2" y2="2671.8" stroke="#000" stroke-width="2.6"/>
<polygon points="1720.4,2709.8 1705.7,2671.5 1736.7,2672.1" fill="#000"/>
<text transform="translate(1567.23,2313.10) scale(0.5835,0.6014)" font-size="100" text-anchor="end" font-weight="bold" class="LS">700</text>
<text transform="translate(1567.23,2379.96) scale(0.5835,0.6014)" font-size="100" text-anchor="end" font-weight="bold" class="LS">600</text>
<text transform="translate(1567.23,2446.82) scale(0.5835,0.6014)" font-size="100" text-anchor="end" font-weight="bold" class="LS">500</text>
<text transform="translate(1567.23,2513.68) scale(0.5835,0.6014)" font-size="100" text-anchor="end" font-weight="bold" class="LS">400</text>
<text transform="translate(1567.23,2580.54) scale(0.5835,0.6014)" font-size="100" text-anchor="end" font-weight="bold" class="LS">300</text>
<text transform="translate(1567.23,2647.40) scale(0.5835,0.6014)" font-size="100" text-anchor="end" font-weight="bold" class="LS">200</text>
<text transform="translate(1567.23,2714.26) scale(0.5835,0.6014)" font-size="100" text-anchor="end" font-weight="bold" class="LS">100</text>
<text transform="translate(1567.23,2781.12) scale(0.5835,0.6014)" font-size="100" text-anchor="end" font-weight="bold" class="LS">0</text>
<text transform="translate(1595.67,2842.49) scale(0.5816,0.6056)" font-size="100" text-anchor="middle" font-weight="bold" class="LS">1430</text>
<text transform="translate(1770.27,2842.49) scale(0.5816,0.6056)" font-size="100" text-anchor="middle" font-weight="bold" class="LS">1431</text>
<text transform="translate(1944.87,2842.49) scale(0.5816,0.6056)" font-size="100" text-anchor="middle" font-weight="bold" class="LS">1432</text>
<text transform="translate(2119.47,2842.49) scale(0.5816,0.6056)" font-size="100" text-anchor="middle" font-weight="bold" class="LS">1433</text>
<text transform="translate(2294.07,2842.49) scale(0.5816,0.6056)" font-size="100" text-anchor="middle" font-weight="bold" class="LS">1434</text>
<text transform="translate(1894.08,2921.29) scale(0.6237,0.6068)" font-size="100" text-anchor="start" font-weight="bold" class="LS">m/z</text>
<text transform="translate(1625.51,2300.06) scale(0.4988,0.5380)" font-size="100" text-anchor="start" font-weight="bold" class="LS">1430.72 Da</text>
<text transform="translate(1446.44,2639.80) scale(0.6074,0.5998) rotate(-90)" font-size="100" text-anchor="start" font-weight="bold" class="LS">Intensity</text>
<text transform="translate(241.58,3054.16) scale(0.5360,0.4461)" font-size="100" text-anchor="start" font-weight="bold" class="MO">U<tspan dy="55">1</tspan><tspan dy="-55">-TRTX-Lk1a</tspan></text>
<text transform="translate(241.58,3143.66) scale(0.5360,0.4461)" font-size="100" text-anchor="start" font-weight="bold" class="MO">U<tspan dy="55">2</tspan><tspan dy="-55">-TRTX-Lk1a</tspan></text>
<text transform="translate(716.85,3054.16) scale(0.5373,0.4461)" font-size="100" text-anchor="start" font-weight="bold" class="MO"><tspan fill="#ff0000">C</tspan>GGVDAP<tspan fill="#ff0000">C</tspan>DKDRPD<tspan fill="#ff0000">C</tspan><tspan fill="#ff0000">C</tspan>SYAE<tspan fill="#ff0000">C</tspan>LKPAGYGWWHGTYY<tspan fill="#ff0000">C</tspan>YRKKE</text>
<text transform="translate(715.69,3143.66) scale(0.5382,0.4461)" font-size="100" text-anchor="start" font-weight="bold" class="MO">FFE<tspan fill="#ff0000">C</tspan>TFE<tspan fill="#ff0000">C</tspan>DIKKEGKP<tspan fill="#ff0000">C</tspan>KPKG<tspan fill="#ff0000">C</tspan>K<tspan fill="#ff0000">C</tspan>KDKDNKDHKK<tspan fill="#ff0000">C</tspan>SGGWR<tspan fill="#ff0000">C</tspan>KLKL<tspan fill="#ff0000">C</tspan>LKF</text>
</svg>
</body></html>
